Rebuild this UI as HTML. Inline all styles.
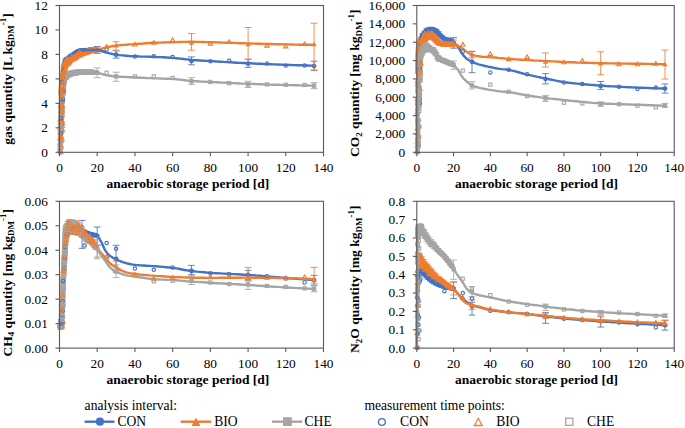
<!DOCTYPE html>
<html><head><meta charset="utf-8"><title>chart</title>
<style>
html,body{margin:0;padding:0;background:#fff;}
body{width:685px;height:428px;overflow:hidden;}
svg{display:block;}
.t{font-family:"Liberation Serif", serif;font-size:13.33px;fill:#000;}
.b{font-family:"Liberation Serif", serif;font-size:13.5px;font-weight:bold;fill:#000;}
.l{font-size:13.6px;}
.s{font-size:9px;}
.fb{fill:#4472C4}.fo{fill:#ED7D31}.fg{fill:#A5A5A5}
.hb,.ho,.hg{fill:none;stroke-width:1.1}
.hb{stroke:#4472C4}.ho{stroke:#ED7D31}.hg{stroke:#A5A5A5}
.eb,.eo,.eg{fill:none;stroke-width:1;opacity:.85}
.eb{stroke:#4472C4}.eo{stroke:#ED7D31}.eg{stroke:#A5A5A5}
</style></head><body>
<svg width="685" height="428" viewBox="0 0 685 428">
<rect width="685" height="428" fill="#fff"/>
<g>
<path d="M61.4 102.7V111.7M58.8 102.7h5.2M58.8 111.7h5.2" class="eg"/>
<path d="M63.3 80.0V88.9M60.7 80.0h5.2M60.7 88.9h5.2" class="eg"/>
<path d="M65.2 73.0V81.2M62.6 73.0h5.2M62.6 81.2h5.2" class="eg"/>
<path d="M67.0 71.8V78.9M64.4 71.8h5.2M64.4 78.9h5.2" class="eg"/>
<path d="M68.9 71.3V77.4M66.3 71.3h5.2M66.3 77.4h5.2" class="eg"/>
<path d="M70.8 71.2V76.2M68.2 71.2h5.2M68.2 76.2h5.2" class="eg"/>
<path d="M72.7 70.7V75.7M70.1 70.7h5.2M70.1 75.7h5.2" class="eg"/>
<path d="M74.6 70.2V75.2M72.0 70.2h5.2M72.0 75.2h5.2" class="eg"/>
<path d="M76.5 69.8V74.9M73.9 69.8h5.2M73.9 74.9h5.2" class="eg"/>
<path d="M78.4 69.6V74.7M75.8 69.6h5.2M75.8 74.7h5.2" class="eg"/>
<path d="M80.2 69.6V74.4M77.6 69.6h5.2M77.6 74.4h5.2" class="eg"/>
<path d="M82.1 69.5V74.2M79.5 69.5h5.2M79.5 74.2h5.2" class="eg"/>
<path d="M84.0 69.5V74.1M81.4 69.5h5.2M81.4 74.1h5.2" class="eg"/>
<path d="M85.9 69.6V74.0M83.3 69.6h5.2M83.3 74.0h5.2" class="eg"/>
<path d="M87.8 69.8V73.9M85.2 69.8h5.2M85.2 73.9h5.2" class="eg"/>
<path d="M89.7 69.9V73.9M87.1 69.9h5.2M87.1 73.9h5.2" class="eg"/>
<path d="M91.6 70.1V73.9M89.0 70.1h5.2M89.0 73.9h5.2" class="eg"/>
<path d="M93.4 70.5V73.9M90.8 70.5h5.2M90.8 73.9h5.2" class="eg"/>
<path d="M95.3 70.9V74.0M92.7 70.9h5.2M92.7 74.0h5.2" class="eg"/>
<path d="M97.2 67.9V77.7M93.8 67.9h6.8M93.8 77.7h6.8" class="eg"/>
<path d="M116.1 72.2V81.3M112.7 72.2h6.8M112.7 81.3h6.8" class="eg"/>
<path d="M191.5 77.7V84.4M188.1 77.7h6.8M188.1 84.4h6.8" class="eg"/>
<path d="M248.1 81.3V87.5M244.7 81.3h6.8M244.7 87.5h6.8" class="eg"/>
<path d="M314.1 82.6V88.7M310.7 82.6h6.8M310.7 88.7h6.8" class="eg"/>
<g stroke="#A5A5A5" stroke-linecap="round" fill="none" opacity="0.85"><path d="M60.3 134.0L60.4 129.5M66.0 76.2L66.4 75.8" stroke-width="5.2"/><path d="M60.4 129.5L60.6 125.1M60.6 125.1L60.8 120.9M65.2 77.1L65.6 76.6M65.6 76.6L66.0 76.2" stroke-width="5.4"/><path d="M60.8 120.9L60.9 116.7M64.6 78.1L64.8 77.7M64.8 77.7L65.0 77.3M65.0 77.3L65.2 77.1" stroke-width="5.6"/><path d="M60.9 116.7L61.1 112.7M61.1 112.7L61.3 109.3M63.6 82.0L63.8 81.1M63.8 81.1L64.0 80.3M64.0 80.3L64.1 79.7M64.1 79.7L64.3 79.1M64.3 79.1L64.5 78.6M64.5 78.6L64.6 78.1" stroke-width="5.8"/><path d="M61.3 109.3L61.4 106.3M61.4 106.3L61.6 103.5M61.6 103.5L61.8 101.0M61.8 101.0L61.9 98.6M61.9 98.6L62.1 96.3M62.1 96.3L62.3 94.1M62.3 94.1L62.5 92.0M62.5 92.0L62.6 90.1M62.6 90.1L62.8 88.4M62.8 88.4L63.0 86.9M63.0 86.9L63.1 85.6M63.1 85.6L63.3 84.3M63.3 84.3L63.5 83.1M63.5 83.1L63.6 82.0" stroke-width="6.0"/><path d="M66.4 75.8L66.8 75.5" stroke-width="5.0"/><path d="M66.8 75.5L67.2 75.2M67.2 75.2L67.6 75.0" stroke-width="4.8"/><path d="M67.6 75.0L68.0 74.8" stroke-width="4.6"/><path d="M68.0 74.8L68.4 74.6" stroke-width="4.4"/><path d="M68.4 74.6L68.8 74.4M68.8 74.4L69.2 74.2" stroke-width="4.2"/><path d="M69.2 74.2L69.6 74.1" stroke-width="4.0"/><path d="M69.6 74.1L70.0 73.9" stroke-width="3.8"/><path d="M70.0 73.9L70.4 73.8M70.4 73.8L70.8 73.7" stroke-width="3.6"/><path d="M70.8 73.7L71.2 73.6M71.2 73.6L71.6 73.5M71.6 73.5L72.1 73.3M72.1 73.3L72.5 73.2M72.5 73.2L72.9 73.1M72.9 73.1L73.3 73.0M73.3 73.0L73.7 72.9M73.7 72.9L74.1 72.8M74.1 72.8L74.5 72.7M74.5 72.7L74.9 72.6M74.9 72.6L75.3 72.6M75.3 72.6L75.7 72.5M75.7 72.5L76.1 72.4M76.1 72.4L76.5 72.3M76.5 72.3L76.9 72.3M76.9 72.3L77.3 72.2M77.3 72.2L77.7 72.2M77.7 72.2L78.1 72.2M78.1 72.2L78.5 72.1M78.5 72.1L79.0 72.1M79.0 72.1L79.4 72.1M79.4 72.1L79.8 72.0" stroke-width="3.4"/><path d="M79.8 72.0L80.2 72.0M80.2 72.0L80.6 72.0M80.6 72.0L81.0 71.9M81.0 71.9L81.4 71.9M81.4 71.9L81.8 71.9M81.8 71.9L82.2 71.9M82.2 71.9L82.6 71.9M82.6 71.9L83.0 71.8M83.0 71.8L83.4 71.8" stroke-width="3.2"/><path d="M83.4 71.8L83.8 71.8M83.8 71.8L84.2 71.8M84.2 71.8L84.6 71.8M84.6 71.8L85.0 71.8M85.0 71.8L85.4 71.8M85.4 71.8L85.9 71.8M85.9 71.8L86.3 71.8M86.3 71.8L86.7 71.8" stroke-width="3.0"/><path d="M86.7 71.8L87.1 71.8M87.1 71.8L87.5 71.8M87.5 71.8L87.9 71.9M87.9 71.9L88.3 71.9M88.3 71.9L88.7 71.9M88.7 71.9L89.1 71.9" stroke-width="2.8"/><path d="M89.1 71.9L89.5 71.9M89.5 71.9L89.9 71.9M89.9 71.9L90.3 72.0M90.3 72.0L90.7 72.0M90.7 72.0L91.1 72.0M91.1 72.0L91.5 72.0M91.5 72.0L91.9 72.0" stroke-width="2.6"/><path d="M91.9 72.0L92.3 72.1M92.3 72.1L92.8 72.1M92.8 72.1L93.2 72.2M93.2 72.2L93.6 72.2" stroke-width="2.4"/><path d="M93.6 72.2L94.0 72.3M94.0 72.3L94.4 72.3M94.4 72.3L94.8 72.4M94.8 72.4L95.2 72.4" stroke-width="2.2"/><path d="M95.2 72.4L95.6 72.5M95.6 72.5L96.0 72.6M96.0 72.6L96.4 72.6M96.4 72.6L96.8 72.7" stroke-width="2.0"/><path d="M96.8 72.7L97.2 72.8" stroke-width="1.8"/></g>
<path d="M59.5 152.3 L59.6 149.0 L59.8 145.5 L59.9 142.1 L60.1 138.5 L60.2 134.8 L60.4 130.9 L60.5 127.1 L60.7 123.4 L60.8 119.8 L61.0 116.2 L61.1 112.8 L61.2 109.9 L61.4 107.2 L61.5 104.7 L61.7 102.5 L61.8 100.3 L62.0 98.3 L62.1 96.3 L62.3 94.4 L62.4 92.6 L62.5 90.9 L62.7 89.4 L62.8 88.0 L63.0 86.7 L63.1 85.6 L63.3 84.5 L63.4 83.4 L63.6 82.5 L63.7 81.6 L63.9 80.9 L64.0 80.2 L64.1 79.7 L64.3 79.2 L64.4 78.7 L64.6 78.3 L64.7 77.9 L64.9 77.6 L65.0 77.3 L65.2 77.1 L65.6 76.6 L66.0 76.1 L66.4 75.8 L66.9 75.4 L67.3 75.2 L67.7 74.9 L68.2 74.7 L68.6 74.5 L69.0 74.3 L69.4 74.2 L69.9 74.0 L70.3 73.9 L70.7 73.7 L71.1 73.6 L71.6 73.5 L72.0 73.4 L72.4 73.2 L72.9 73.1 L73.3 73.0 L73.7 72.9 L74.1 72.8 L74.6 72.7 L75.0 72.6 L75.4 72.5 L75.9 72.5 L76.3 72.4 L76.7 72.3 L77.1 72.3 L77.6 72.2 L78.0 72.2 L78.4 72.1 L78.8 72.1 L79.3 72.1 L79.7 72.0 L80.1 72.0 L80.6 72.0 L81.0 71.9 L81.4 71.9 L81.8 71.9 L82.3 71.9 L82.7 71.9 L83.1 71.8 L83.6 71.8 L84.0 71.8 L84.4 71.8 L84.8 71.8 L85.3 71.8 L85.7 71.8 L86.1 71.8 L86.5 71.8 L87.0 71.8 L87.4 71.8 L87.8 71.9 L88.3 71.9 L88.7 71.9 L89.1 71.9 L89.5 71.9 L90.0 71.9 L90.4 72.0 L90.8 72.0 L91.3 72.0 L91.7 72.0 L92.1 72.1 L92.5 72.1 L93.0 72.1 L93.4 72.2 L93.8 72.2 L94.3 72.3 L94.7 72.4 L95.1 72.4 L95.5 72.5 L96.0 72.6 L96.4 72.6 L96.8 72.7 L97.2 72.8 L97.7 72.9 L98.1 73.0 L98.5 73.1 L99.0 73.2 L99.4 73.3 L99.8 73.4 L100.2 73.5 L100.7 73.6 L101.1 73.8 L101.5 73.9 L102.0 74.0 L102.4 74.1 L102.8 74.3 L103.2 74.4 L103.7 74.5 L104.1 74.6 L104.5 74.8 L104.9 74.9 L105.4 75.0 L105.8 75.1 L106.2 75.2 L106.7 75.2 L107.1 75.3 L107.5 75.4 L107.9 75.4 L108.4 75.5 L108.8 75.6 L109.2 75.7 L109.7 75.7 L110.1 75.8 L110.5 75.8 L110.9 75.9 L111.4 76.0 L111.8 76.0 L112.2 76.1 L112.6 76.1 L113.1 76.2 L113.5 76.2 L113.9 76.3 L114.4 76.3 L114.8 76.3 L115.2 76.4 L115.6 76.4 L116.1 76.5 L119.4 76.7 L122.8 76.9 L126.1 77.0 L129.5 77.2 L132.9 77.3 L136.2 77.5 L139.6 77.7 L142.9 77.8 L146.3 78.0 L149.6 78.1 L153.0 78.3 L156.3 78.4 L159.7 78.5 L163.1 78.6 L166.4 78.7 L169.8 78.8 L173.1 78.9 L176.5 79.2 L179.8 79.6 L183.2 80.0 L186.5 80.5 L189.9 80.8 L193.3 81.1 L196.6 81.3 L200.0 81.5 L203.3 81.6 L206.7 81.8 L210.0 81.9 L213.4 82.1 L216.7 82.3 L220.1 82.5 L223.5 82.6 L226.8 82.8 L230.2 83.0 L233.5 83.1 L236.9 83.3 L240.2 83.5 L243.6 83.6 L247.0 83.7 L250.3 83.9 L253.7 84.0 L257.0 84.1 L260.4 84.2 L263.7 84.4 L267.1 84.5 L270.4 84.6 L273.8 84.7 L277.2 84.8 L280.5 84.9 L283.9 85.0 L287.2 85.1 L290.6 85.1 L293.9 85.2 L297.3 85.3 L300.6 85.4 L304.0 85.4 L307.4 85.5 L310.7 85.6 L314.1 85.6" fill="none" stroke="#A5A5A5" stroke-width="2.4" stroke-linejoin="round" stroke-linecap="round"/>
<rect x="59.2" y="105.0" width="4.4" height="4.4" class="fg"/>
<rect x="61.1" y="82.3" width="4.4" height="4.4" class="fg"/>
<rect x="62.9" y="74.8" width="4.4" height="4.4" class="fg"/>
<rect x="64.8" y="73.1" width="4.4" height="4.4" class="fg"/>
<rect x="66.7" y="72.1" width="4.4" height="4.4" class="fg"/>
<rect x="68.6" y="71.5" width="4.4" height="4.4" class="fg"/>
<rect x="70.5" y="71.0" width="4.4" height="4.4" class="fg"/>
<rect x="72.4" y="70.5" width="4.4" height="4.4" class="fg"/>
<rect x="74.3" y="70.1" width="4.4" height="4.4" class="fg"/>
<rect x="76.1" y="69.9" width="4.4" height="4.4" class="fg"/>
<rect x="78.0" y="69.8" width="4.4" height="4.4" class="fg"/>
<rect x="79.9" y="69.7" width="4.4" height="4.4" class="fg"/>
<rect x="81.8" y="69.6" width="4.4" height="4.4" class="fg"/>
<rect x="83.7" y="69.6" width="4.4" height="4.4" class="fg"/>
<rect x="85.6" y="69.6" width="4.4" height="4.4" class="fg"/>
<rect x="87.5" y="69.7" width="4.4" height="4.4" class="fg"/>
<rect x="89.3" y="69.8" width="4.4" height="4.4" class="fg"/>
<rect x="91.2" y="70.0" width="4.4" height="4.4" class="fg"/>
<rect x="93.1" y="70.2" width="4.4" height="4.4" class="fg"/>
<rect x="95.0" y="70.6" width="4.4" height="4.4" class="fg"/>
<rect x="113.9" y="74.2" width="4.4" height="4.4" class="fg"/>
<rect x="189.3" y="79.1" width="4.4" height="4.4" class="fg"/>
<rect x="245.9" y="82.2" width="4.4" height="4.4" class="fg"/>
<rect x="311.9" y="83.5" width="4.4" height="4.4" class="fg"/>
<path d="M61.4 98.0V103.0M58.8 98.0h5.2M58.8 103.0h5.2" class="eb"/>
<path d="M63.3 71.4V75.9M60.7 71.4h5.2M60.7 75.9h5.2" class="eb"/>
<path d="M65.2 58.9V63.0M62.6 58.9h5.2M62.6 63.0h5.2" class="eb"/>
<path d="M67.0 57.3V60.9M64.4 57.3h5.2M64.4 60.9h5.2" class="eb"/>
<path d="M68.9 56.1V59.4M66.3 56.1h5.2M66.3 59.4h5.2" class="eb"/>
<path d="M70.8 54.6V57.8M68.2 54.6h5.2M68.2 57.8h5.2" class="eb"/>
<path d="M72.7 53.3V56.5M70.1 53.3h5.2M70.1 56.5h5.2" class="eb"/>
<path d="M74.6 52.1V55.2M72.0 52.1h5.2M72.0 55.2h5.2" class="eb"/>
<path d="M76.5 50.9V54.0M73.9 50.9h5.2M73.9 54.0h5.2" class="eb"/>
<path d="M78.4 49.7V52.8M75.8 49.7h5.2M75.8 52.8h5.2" class="eb"/>
<path d="M80.2 49.3V52.3M77.6 49.3h5.2M77.6 52.3h5.2" class="eb"/>
<path d="M82.1 49.0V52.0M79.5 49.0h5.2M79.5 52.0h5.2" class="eb"/>
<path d="M84.0 48.8V51.8M81.4 48.8h5.2M81.4 51.8h5.2" class="eb"/>
<path d="M85.9 48.7V51.6M83.3 48.7h5.2M83.3 51.6h5.2" class="eb"/>
<path d="M87.8 48.6V51.5M85.2 48.6h5.2M85.2 51.5h5.2" class="eb"/>
<path d="M89.7 48.6V51.5M87.1 48.6h5.2M87.1 51.5h5.2" class="eb"/>
<path d="M91.6 48.6V51.4M89.0 48.6h5.2M89.0 51.4h5.2" class="eb"/>
<path d="M93.4 48.6V51.4M90.8 48.6h5.2M90.8 51.4h5.2" class="eb"/>
<path d="M95.3 48.7V51.4M92.7 48.7h5.2M92.7 51.4h5.2" class="eb"/>
<path d="M97.2 46.5V53.2M93.8 46.5h6.8M93.8 53.2h6.8" class="eb"/>
<path d="M116.1 50.8V58.1M112.7 50.8h6.8M112.7 58.1h6.8" class="eb"/>
<path d="M191.5 56.9V64.8M188.1 56.9h6.8M188.1 64.8h6.8" class="eb"/>
<path d="M248.1 59.3V67.3M244.7 59.3h6.8M244.7 67.3h6.8" class="eb"/>
<path d="M314.1 61.2V70.3M310.7 61.2h6.8M310.7 70.3h6.8" class="eb"/>
<g stroke="#4472C4" stroke-linecap="round" fill="none" opacity="0.85"><path d="M62.5 82.1L62.6 81.0M62.6 81.0L62.7 79.9" stroke-width="3.2"/><path d="M62.7 79.9L62.8 78.8M62.8 78.8L62.9 77.8M62.9 77.8L63.0 76.8M63.0 76.8L63.1 75.8M63.1 75.8L63.2 74.9M63.2 74.9L63.2 73.9M63.2 73.9L63.3 73.0M63.3 73.0L63.4 72.1M63.4 72.1L63.5 71.2M63.5 71.2L63.6 70.4M63.6 70.4L63.7 69.6M63.7 69.6L63.8 68.9M63.8 68.9L63.9 68.1M63.9 68.1L64.0 67.4" stroke-width="3.0"/><path d="M64.0 67.4L64.1 66.7M64.1 66.7L64.2 65.9M64.2 65.9L64.2 65.2M64.2 65.2L64.3 64.5M64.3 64.5L64.4 63.9M64.4 63.9L64.5 63.3M64.5 63.3L64.6 62.7M64.6 62.7L64.7 62.2M64.7 62.2L64.8 61.8M64.8 61.8L64.9 61.5M64.9 61.5L65.0 61.3M65.0 61.3L65.1 61.1M65.1 61.1L65.2 61.0M65.2 61.0L65.6 60.4" stroke-width="2.8"/><path d="M65.6 60.4L66.0 59.9M66.0 59.9L66.4 59.6M66.4 59.6L66.8 59.3" stroke-width="2.6"/><path d="M66.8 59.3L67.2 59.0M67.2 59.0L67.6 58.8M67.6 58.8L68.0 58.5" stroke-width="2.4"/><path d="M68.0 58.5L68.4 58.2M68.4 58.2L68.8 57.9M68.8 57.9L69.2 57.5M69.2 57.5L69.6 57.2M69.6 57.2L70.0 56.9M70.0 56.9L70.4 56.5M70.4 56.5L70.8 56.2M70.8 56.2L71.2 55.9M71.2 55.9L71.6 55.6M71.6 55.6L72.1 55.3M72.1 55.3L72.5 55.1M72.5 55.1L72.9 54.8M72.9 54.8L73.3 54.5M73.3 54.5L73.7 54.3" stroke-width="2.2"/><path d="M73.7 54.3L74.1 54.0M74.1 54.0L74.5 53.7M74.5 53.7L74.9 53.5M74.9 53.5L75.3 53.2M75.3 53.2L75.7 53.0M75.7 53.0L76.1 52.7M76.1 52.7L76.5 52.4M76.5 52.4L76.9 52.1M76.9 52.1L77.3 51.8M77.3 51.8L77.7 51.6M77.7 51.6L78.1 51.4M78.1 51.4L78.5 51.2M78.5 51.2L79.0 51.1M79.0 51.1L79.4 51.0M79.4 51.0L79.8 50.9M79.8 50.9L80.2 50.8M80.2 50.8L80.6 50.7M80.6 50.7L81.0 50.6M81.0 50.6L81.4 50.6M81.4 50.6L81.8 50.5M81.8 50.5L82.2 50.5M82.2 50.5L82.6 50.4M82.6 50.4L83.0 50.4M83.0 50.4L83.4 50.3M83.4 50.3L83.8 50.3M83.8 50.3L84.2 50.3M84.2 50.3L84.6 50.2M84.6 50.2L85.0 50.2M85.0 50.2L85.4 50.2M85.4 50.2L85.9 50.2M85.9 50.2L86.3 50.1M86.3 50.1L86.7 50.1M86.7 50.1L87.1 50.1M87.1 50.1L87.5 50.1M87.5 50.1L87.9 50.1M87.9 50.1L88.3 50.0M88.3 50.0L88.7 50.0M88.7 50.0L89.1 50.0M89.1 50.0L89.5 50.0" stroke-width="2.0"/><path d="M89.5 50.0L89.9 50.0M89.9 50.0L90.3 50.0M90.3 50.0L90.7 50.0M90.7 50.0L91.1 50.0M91.1 50.0L91.5 50.0M91.5 50.0L91.9 50.0M91.9 50.0L92.3 50.0M92.3 50.0L92.8 50.0M92.8 50.0L93.2 50.0M93.2 50.0L93.6 50.0M93.6 50.0L94.0 50.0M94.0 50.0L94.4 50.0M94.4 50.0L94.8 50.0M94.8 50.0L95.2 50.0M95.2 50.0L95.6 50.0M95.6 50.0L96.0 50.0M96.0 50.0L96.4 50.0M96.4 50.0L96.8 50.0M96.8 50.0L97.2 50.0" stroke-width="1.8"/></g>
<path d="M59.5 152.3 L59.6 148.3 L59.8 144.3 L59.9 140.2 L60.1 136.0 L60.2 131.6 L60.4 127.1 L60.5 122.6 L60.7 118.5 L60.8 114.5 L61.0 110.6 L61.1 107.0 L61.2 103.6 L61.4 100.5 L61.5 97.5 L61.7 94.7 L61.8 92.1 L62.0 89.7 L62.1 87.5 L62.3 85.5 L62.4 83.5 L62.5 81.7 L62.7 80.0 L62.8 78.3 L63.0 76.7 L63.1 75.1 L63.3 73.6 L63.4 72.2 L63.6 70.8 L63.7 69.6 L63.9 68.4 L64.0 67.2 L64.1 66.1 L64.3 64.9 L64.4 63.8 L64.6 62.9 L64.7 62.1 L64.9 61.5 L65.0 61.2 L65.2 61.0 L65.6 60.3 L66.0 59.9 L66.4 59.5 L66.9 59.2 L67.3 58.9 L67.7 58.7 L68.2 58.4 L68.6 58.0 L69.0 57.7 L69.4 57.3 L69.9 57.0 L70.3 56.7 L70.7 56.3 L71.1 56.0 L71.6 55.7 L72.0 55.4 L72.4 55.1 L72.9 54.8 L73.3 54.5 L73.7 54.2 L74.1 54.0 L74.6 53.7 L75.0 53.4 L75.4 53.2 L75.9 52.9 L76.3 52.6 L76.7 52.2 L77.1 51.9 L77.6 51.7 L78.0 51.4 L78.4 51.2 L78.8 51.1 L79.3 51.0 L79.7 50.9 L80.1 50.8 L80.6 50.7 L81.0 50.6 L81.4 50.6 L81.8 50.5 L82.3 50.4 L82.7 50.4 L83.1 50.3 L83.6 50.3 L84.0 50.3 L84.4 50.2 L84.8 50.2 L85.3 50.2 L85.7 50.2 L86.1 50.1 L86.5 50.1 L87.0 50.1 L87.4 50.1 L87.8 50.1 L88.3 50.0 L88.7 50.0 L89.1 50.0 L89.5 50.0 L90.0 50.0 L90.4 50.0 L90.8 50.0 L91.3 50.0 L91.7 50.0 L92.1 50.0 L92.5 50.0 L93.0 50.0 L93.4 50.0 L93.8 50.0 L94.3 50.0 L94.7 50.0 L95.1 50.0 L95.5 50.0 L96.0 50.0 L96.4 50.0 L96.8 50.0 L97.2 50.0 L97.7 50.0 L98.1 50.1 L98.5 50.2 L99.0 50.3 L99.4 50.4 L99.8 50.5 L100.2 50.6 L100.7 50.7 L101.1 50.8 L101.5 50.9 L102.0 51.0 L102.4 51.2 L102.8 51.3 L103.2 51.5 L103.7 51.6 L104.1 51.8 L104.5 51.9 L104.9 52.1 L105.4 52.2 L105.8 52.4 L106.2 52.5 L106.7 52.6 L107.1 52.7 L107.5 52.8 L107.9 52.9 L108.4 53.1 L108.8 53.2 L109.2 53.3 L109.7 53.4 L110.1 53.5 L110.5 53.6 L110.9 53.7 L111.4 53.8 L111.8 53.9 L112.2 54.0 L112.6 54.1 L113.1 54.2 L113.5 54.3 L113.9 54.3 L114.4 54.4 L114.8 54.5 L115.2 54.6 L115.6 54.6 L116.1 54.7 L119.4 55.1 L122.8 55.4 L126.1 55.7 L129.5 56.0 L132.9 56.2 L136.2 56.3 L139.6 56.5 L142.9 56.6 L146.3 56.6 L149.6 56.7 L153.0 56.8 L156.3 57.0 L159.7 57.1 L163.1 57.3 L166.4 57.5 L169.8 57.7 L173.1 57.9 L176.5 58.2 L179.8 58.6 L183.2 59.0 L186.5 59.4 L189.9 59.8 L193.3 60.1 L196.6 60.3 L200.0 60.5 L203.3 60.7 L206.7 60.9 L210.0 61.1 L213.4 61.3 L216.7 61.5 L220.1 61.7 L223.5 61.9 L226.8 62.1 L230.2 62.3 L233.5 62.5 L236.9 62.7 L240.2 62.9 L243.6 63.0 L247.0 63.2 L250.3 63.3 L253.7 63.5 L257.0 63.7 L260.4 63.8 L263.7 64.0 L267.1 64.1 L270.4 64.2 L273.8 64.4 L277.2 64.5 L280.5 64.6 L283.9 64.8 L287.2 64.9 L290.6 65.0 L293.9 65.1 L297.3 65.2 L300.6 65.3 L304.0 65.4 L307.4 65.5 L310.7 65.6 L314.1 65.7" fill="none" stroke="#4472C4" stroke-width="2.4" stroke-linejoin="round" stroke-linecap="round"/>
<circle cx="61.4" cy="100.5" r="2.4" class="fb"/>
<circle cx="63.3" cy="73.6" r="2.4" class="fb"/>
<circle cx="65.2" cy="61.0" r="2.4" class="fb"/>
<circle cx="67.0" cy="59.1" r="2.4" class="fb"/>
<circle cx="68.9" cy="57.8" r="2.4" class="fb"/>
<circle cx="70.8" cy="56.2" r="2.4" class="fb"/>
<circle cx="72.7" cy="54.9" r="2.4" class="fb"/>
<circle cx="74.6" cy="53.7" r="2.4" class="fb"/>
<circle cx="76.5" cy="52.4" r="2.4" class="fb"/>
<circle cx="78.4" cy="51.3" r="2.4" class="fb"/>
<circle cx="80.2" cy="50.8" r="2.4" class="fb"/>
<circle cx="82.1" cy="50.5" r="2.4" class="fb"/>
<circle cx="84.0" cy="50.3" r="2.4" class="fb"/>
<circle cx="85.9" cy="50.2" r="2.4" class="fb"/>
<circle cx="87.8" cy="50.1" r="2.4" class="fb"/>
<circle cx="89.7" cy="50.0" r="2.4" class="fb"/>
<circle cx="91.6" cy="50.0" r="2.4" class="fb"/>
<circle cx="93.4" cy="50.0" r="2.4" class="fb"/>
<circle cx="95.3" cy="50.0" r="2.4" class="fb"/>
<circle cx="97.2" cy="49.8" r="2.4" class="fb"/>
<circle cx="116.1" cy="54.7" r="2.4" class="fb"/>
<circle cx="191.5" cy="60.9" r="2.4" class="fb"/>
<circle cx="248.1" cy="63.6" r="2.4" class="fb"/>
<circle cx="314.1" cy="66.1" r="2.4" class="fb"/>
<path d="M61.4 98.7V107.7M58.8 98.7h5.2M58.8 107.7h5.2" class="eo"/>
<path d="M63.3 73.3V82.0M60.7 73.3h5.2M60.7 82.0h5.2" class="eo"/>
<path d="M65.2 59.8V68.2M62.6 59.8h5.2M62.6 68.2h5.2" class="eo"/>
<path d="M67.0 57.8V66.1M64.4 57.8h5.2M64.4 66.1h5.2" class="eo"/>
<path d="M68.9 56.7V64.5M66.3 56.7h5.2M66.3 64.5h5.2" class="eo"/>
<path d="M70.8 55.7V62.6M68.2 55.7h5.2M68.2 62.6h5.2" class="eo"/>
<path d="M72.7 55.1V61.2M70.1 55.1h5.2M70.1 61.2h5.2" class="eo"/>
<path d="M74.6 54.6V60.2M72.0 54.6h5.2M72.0 60.2h5.2" class="eo"/>
<path d="M76.5 53.4V59.0M73.9 53.4h5.2M73.9 59.0h5.2" class="eo"/>
<path d="M78.4 51.9V57.8M75.8 51.9h5.2M75.8 57.8h5.2" class="eo"/>
<path d="M80.2 51.0V56.9M77.6 51.0h5.2M77.6 56.9h5.2" class="eo"/>
<path d="M82.1 50.3V56.1M79.5 50.3h5.2M79.5 56.1h5.2" class="eo"/>
<path d="M84.0 49.6V55.4M81.4 49.6h5.2M81.4 55.4h5.2" class="eo"/>
<path d="M85.9 49.1V54.7M83.3 49.1h5.2M83.3 54.7h5.2" class="eo"/>
<path d="M87.8 48.8V54.0M85.2 48.8h5.2M85.2 54.0h5.2" class="eo"/>
<path d="M89.7 48.4V53.3M87.1 48.4h5.2M87.1 53.3h5.2" class="eo"/>
<path d="M91.6 48.2V52.7M89.0 48.2h5.2M89.0 52.7h5.2" class="eo"/>
<path d="M93.4 48.3V52.2M90.8 48.3h5.2M90.8 52.2h5.2" class="eo"/>
<path d="M95.3 48.4V51.7M92.7 48.4h5.2M92.7 51.7h5.2" class="eo"/>
<path d="M97.2 47.1V53.2M93.8 47.1h6.8M93.8 53.2h6.8" class="eo"/>
<path d="M116.1 41.6V50.2M112.7 41.6h6.8M112.7 50.2h6.8" class="eo"/>
<path d="M191.5 33.6V50.2M188.1 33.6h6.8M188.1 50.2h6.8" class="eo"/>
<path d="M248.1 27.5V59.3M244.7 27.5h6.8M244.7 59.3h6.8" class="eo"/>
<path d="M314.1 23.2V70.3M310.7 23.2h6.8M310.7 70.3h6.8" class="eo"/>
<g stroke="#ED7D31" stroke-linecap="round" fill="none" opacity="0.85"><path d="M62.0 93.6L62.1 91.9M62.1 91.9L62.2 90.3M62.2 90.3L62.3 88.8M62.3 88.8L62.4 87.3M62.4 87.3L62.5 85.9M62.5 85.9L62.6 84.5M62.6 84.5L62.7 83.2M62.7 83.2L62.8 82.0M62.8 82.0L62.9 80.8M62.9 80.8L63.1 79.7" stroke-width="7.4"/><path d="M63.1 79.7L63.2 78.6M63.2 78.6L63.3 77.6M63.3 77.6L63.4 76.6M63.4 76.6L63.5 75.6M63.5 75.6L63.6 74.7M63.6 74.7L63.7 73.7M63.7 73.7L63.8 72.8M63.8 72.8L63.9 71.9M63.9 71.9L64.1 70.9M64.1 70.9L64.2 69.9M64.2 69.9L64.3 68.8M64.3 68.8L64.4 67.8M64.4 67.8L64.5 66.9M64.5 66.9L64.6 66.1" stroke-width="7.2"/><path d="M64.6 66.1L64.7 65.4M64.7 65.4L64.8 64.8M64.8 64.8L64.9 64.4M64.9 64.4L65.0 64.2M65.0 64.2L65.2 64.0M65.2 64.0L65.6 63.3M65.6 63.3L66.0 62.8M66.0 62.8L66.4 62.4M66.4 62.4L66.8 62.1" stroke-width="7.0"/><path d="M66.8 62.1L67.2 61.8M67.2 61.8L67.6 61.6M67.6 61.6L68.0 61.3M68.0 61.3L68.4 61.0M68.4 61.0L68.8 60.7" stroke-width="6.8"/><path d="M68.8 60.7L69.2 60.3" stroke-width="6.6"/><path d="M69.2 60.3L69.6 60.0" stroke-width="6.4"/><path d="M69.6 60.0L70.0 59.7" stroke-width="6.2"/><path d="M70.0 59.7L70.4 59.4" stroke-width="6.0"/><path d="M70.4 59.4L70.8 59.1M70.8 59.1L71.2 58.9" stroke-width="5.8"/><path d="M71.2 58.9L71.6 58.6" stroke-width="5.6"/><path d="M71.6 58.6L72.1 58.4" stroke-width="5.4"/><path d="M72.1 58.4L72.5 58.2M72.5 58.2L72.9 58.0" stroke-width="5.2"/><path d="M72.9 58.0L73.3 57.9M73.3 57.9L73.7 57.7M78.1 55.0L78.5 54.7M78.5 54.7L79.0 54.5M79.0 54.5L79.4 54.3M79.4 54.3L79.8 54.2M79.8 54.2L80.2 54.0M80.2 54.0L80.6 53.8" stroke-width="5.0"/><path d="M73.7 57.7L74.1 57.6M74.1 57.6L74.5 57.4M76.9 55.8L77.3 55.5M77.3 55.5L77.7 55.2M77.7 55.2L78.1 55.0M80.6 53.8L81.0 53.6M81.0 53.6L81.4 53.5M81.4 53.5L81.8 53.3M81.8 53.3L82.2 53.2M82.2 53.2L82.6 53.0M82.6 53.0L83.0 52.9M83.0 52.9L83.4 52.7M83.4 52.7L83.8 52.6M83.8 52.6L84.2 52.5M84.2 52.5L84.6 52.3M84.6 52.3L85.0 52.2M85.0 52.2L85.4 52.1M85.4 52.1L85.9 51.9" stroke-width="4.8"/><path d="M74.5 57.4L74.9 57.2M74.9 57.2L75.3 57.0M75.3 57.0L75.7 56.8M75.7 56.8L76.1 56.5M76.1 56.5L76.5 56.1M76.5 56.1L76.9 55.8M85.9 51.9L86.3 51.8M86.3 51.8L86.7 51.7M86.7 51.7L87.1 51.6" stroke-width="4.6"/><path d="M87.1 51.6L87.5 51.5M87.5 51.5L87.9 51.3M87.9 51.3L88.3 51.2" stroke-width="4.4"/><path d="M88.3 51.2L88.7 51.1M88.7 51.1L89.1 51.0M89.1 51.0L89.5 50.9" stroke-width="4.2"/><path d="M89.5 50.9L89.9 50.8M89.9 50.8L90.3 50.7M90.3 50.7L90.7 50.6" stroke-width="4.0"/><path d="M90.7 50.6L91.1 50.5M91.1 50.5L91.5 50.5M91.5 50.5L91.9 50.4" stroke-width="3.8"/><path d="M91.9 50.4L92.3 50.3M92.3 50.3L92.8 50.3" stroke-width="3.6"/><path d="M92.8 50.3L93.2 50.2M93.2 50.2L93.6 50.2" stroke-width="3.4"/><path d="M93.6 50.2L94.0 50.1M94.0 50.1L94.4 50.1" stroke-width="3.2"/><path d="M94.4 50.1L94.8 50.1" stroke-width="3.0"/><path d="M94.8 50.1L95.2 50.0M95.2 50.0L95.6 50.0" stroke-width="2.8"/><path d="M95.6 50.0L96.0 49.9M96.0 49.9L96.4 49.9" stroke-width="2.6"/><path d="M96.4 49.9L96.8 49.8M96.8 49.8L97.2 49.8" stroke-width="2.4"/></g>
<path d="M59.5 152.3 L59.6 148.7 L59.8 144.9 L59.9 141.1 L60.1 137.2 L60.2 133.2 L60.4 129.0 L60.5 124.9 L60.7 120.9 L60.8 116.9 L61.0 113.0 L61.1 109.3 L61.2 106.1 L61.4 103.2 L61.5 100.5 L61.7 98.0 L61.8 95.6 L62.0 93.4 L62.1 91.2 L62.3 89.2 L62.4 87.2 L62.5 85.4 L62.7 83.6 L62.8 82.0 L63.0 80.4 L63.1 79.0 L63.3 77.6 L63.4 76.3 L63.6 75.1 L63.7 73.9 L63.9 72.7 L64.0 71.4 L64.1 70.1 L64.3 68.7 L64.4 67.4 L64.6 66.3 L64.7 65.3 L64.9 64.6 L65.0 64.3 L65.2 64.0 L65.6 63.3 L66.0 62.8 L66.4 62.4 L66.9 62.1 L67.3 61.8 L67.7 61.5 L68.2 61.2 L68.6 60.9 L69.0 60.5 L69.4 60.2 L69.9 59.8 L70.3 59.5 L70.7 59.2 L71.1 58.9 L71.6 58.7 L72.0 58.4 L72.4 58.2 L72.9 58.0 L73.3 57.9 L73.7 57.7 L74.1 57.6 L74.6 57.4 L75.0 57.2 L75.4 57.0 L75.9 56.7 L76.3 56.3 L76.7 56.0 L77.1 55.6 L77.6 55.3 L78.0 55.0 L78.4 54.8 L78.8 54.6 L79.3 54.4 L79.7 54.2 L80.1 54.0 L80.6 53.8 L81.0 53.6 L81.4 53.5 L81.8 53.3 L82.3 53.1 L82.7 53.0 L83.1 52.8 L83.6 52.7 L84.0 52.5 L84.4 52.4 L84.8 52.3 L85.3 52.1 L85.7 52.0 L86.1 51.9 L86.5 51.7 L87.0 51.6 L87.4 51.5 L87.8 51.3 L88.3 51.2 L88.7 51.1 L89.1 51.0 L89.5 50.9 L90.0 50.8 L90.4 50.7 L90.8 50.6 L91.3 50.5 L91.7 50.4 L92.1 50.4 L92.5 50.3 L93.0 50.3 L93.4 50.2 L93.8 50.2 L94.3 50.1 L94.7 50.1 L95.1 50.0 L95.5 50.0 L96.0 49.9 L96.4 49.9 L96.8 49.8 L97.2 49.8 L97.7 49.7 L98.1 49.6 L98.5 49.5 L99.0 49.4 L99.4 49.3 L99.8 49.2 L100.2 49.1 L100.7 49.0 L101.1 48.9 L101.5 48.8 L102.0 48.6 L102.4 48.5 L102.8 48.4 L103.2 48.2 L103.7 48.1 L104.1 48.0 L104.5 47.9 L104.9 47.8 L105.4 47.6 L105.8 47.5 L106.2 47.4 L106.7 47.3 L107.1 47.2 L107.5 47.2 L107.9 47.1 L108.4 47.0 L108.8 46.9 L109.2 46.8 L109.7 46.7 L110.1 46.6 L110.5 46.5 L110.9 46.5 L111.4 46.4 L111.8 46.3 L112.2 46.2 L112.6 46.1 L113.1 46.1 L113.5 46.0 L113.9 45.9 L114.4 45.9 L114.8 45.8 L115.2 45.7 L115.6 45.7 L116.1 45.6 L119.4 45.3 L122.8 44.9 L126.1 44.7 L129.5 44.4 L132.9 44.2 L136.2 43.9 L139.6 43.7 L142.9 43.5 L146.3 43.2 L149.6 43.0 L153.0 42.8 L156.3 42.7 L159.7 42.6 L163.1 42.5 L166.4 42.4 L169.8 42.3 L173.1 42.2 L176.5 42.1 L179.8 42.0 L183.2 41.9 L186.5 41.9 L189.9 41.8 L193.3 41.8 L196.6 41.9 L200.0 41.9 L203.3 42.0 L206.7 42.1 L210.0 42.2 L213.4 42.3 L216.7 42.4 L220.1 42.5 L223.5 42.6 L226.8 42.7 L230.2 42.8 L233.5 42.9 L236.9 43.1 L240.2 43.2 L243.6 43.3 L247.0 43.4 L250.3 43.5 L253.7 43.6 L257.0 43.7 L260.4 43.8 L263.7 43.9 L267.1 44.0 L270.4 44.0 L273.8 44.1 L277.2 44.2 L280.5 44.3 L283.9 44.4 L287.2 44.4 L290.6 44.5 L293.9 44.6 L297.3 44.6 L300.6 44.7 L304.0 44.7 L307.4 44.8 L310.7 44.8 L314.1 44.9" fill="none" stroke="#ED7D31" stroke-width="2.4" stroke-linejoin="round" stroke-linecap="round"/>
<path d="M61.4 100.5l2.6 4.6h-5.2z" class="fo"/>
<path d="M63.3 74.9l2.6 4.6h-5.2z" class="fo"/>
<path d="M65.2 61.2l2.6 4.6h-5.2z" class="fo"/>
<path d="M67.0 59.2l2.6 4.6h-5.2z" class="fo"/>
<path d="M68.9 57.8l2.6 4.6h-5.2z" class="fo"/>
<path d="M70.8 56.4l2.6 4.6h-5.2z" class="fo"/>
<path d="M72.7 55.4l2.6 4.6h-5.2z" class="fo"/>
<path d="M74.6 54.6l2.6 4.6h-5.2z" class="fo"/>
<path d="M76.5 53.4l2.6 4.6h-5.2z" class="fo"/>
<path d="M78.4 52.1l2.6 4.6h-5.2z" class="fo"/>
<path d="M80.2 51.2l2.6 4.6h-5.2z" class="fo"/>
<path d="M82.1 50.4l2.6 4.6h-5.2z" class="fo"/>
<path d="M84.0 49.8l2.6 4.6h-5.2z" class="fo"/>
<path d="M85.9 49.2l2.6 4.6h-5.2z" class="fo"/>
<path d="M87.8 48.6l2.6 4.6h-5.2z" class="fo"/>
<path d="M89.7 48.1l2.6 4.6h-5.2z" class="fo"/>
<path d="M91.6 47.7l2.6 4.6h-5.2z" class="fo"/>
<path d="M93.4 47.5l2.6 4.6h-5.2z" class="fo"/>
<path d="M95.3 47.3l2.6 4.6h-5.2z" class="fo"/>
<path d="M97.2 47.4l2.6 4.6h-5.2z" class="fo"/>
<path d="M116.1 42.9l2.6 4.6h-5.2z" class="fo"/>
<path d="M191.5 40.2l2.6 4.6h-5.2z" class="fo"/>
<path d="M248.1 41.7l2.6 4.6h-5.2z" class="fo"/>
<path d="M314.1 41.7l2.6 4.6h-5.2z" class="fo"/>
<rect x="60.2" y="98.8" width="3.2" height="3.2" class="hg"/>
<rect x="60.9" y="92.8" width="3.2" height="3.2" class="hg"/>
<rect x="60.8" y="89.5" width="3.2" height="3.2" class="hg"/>
<rect x="61.4" y="83.8" width="3.2" height="3.2" class="hg"/>
<rect x="61.6" y="85.1" width="3.2" height="3.2" class="hg"/>
<rect x="61.7" y="84.0" width="3.2" height="3.2" class="hg"/>
<rect x="62.0" y="81.8" width="3.2" height="3.2" class="hg"/>
<rect x="62.6" y="81.2" width="3.2" height="3.2" class="hg"/>
<rect x="63.1" y="77.8" width="3.2" height="3.2" class="hg"/>
<rect x="63.3" y="78.0" width="3.2" height="3.2" class="hg"/>
<rect x="63.3" y="73.1" width="3.2" height="3.2" class="hg"/>
<rect x="63.5" y="72.9" width="3.2" height="3.2" class="hg"/>
<rect x="64.2" y="73.4" width="3.2" height="3.2" class="hg"/>
<rect x="64.2" y="72.6" width="3.2" height="3.2" class="hg"/>
<rect x="64.8" y="74.3" width="3.2" height="3.2" class="hg"/>
<rect x="65.0" y="76.3" width="3.2" height="3.2" class="hg"/>
<rect x="65.2" y="72.5" width="3.2" height="3.2" class="hg"/>
<rect x="65.2" y="74.6" width="3.2" height="3.2" class="hg"/>
<rect x="65.9" y="74.1" width="3.2" height="3.2" class="hg"/>
<rect x="66.7" y="73.4" width="3.2" height="3.2" class="hg"/>
<rect x="67.1" y="73.4" width="3.2" height="3.2" class="hg"/>
<rect x="67.5" y="72.8" width="3.2" height="3.2" class="hg"/>
<rect x="68.0" y="72.4" width="3.2" height="3.2" class="hg"/>
<rect x="68.8" y="72.1" width="3.2" height="3.2" class="hg"/>
<rect x="69.3" y="72.6" width="3.2" height="3.2" class="hg"/>
<rect x="70.0" y="70.8" width="3.2" height="3.2" class="hg"/>
<rect x="70.7" y="71.1" width="3.2" height="3.2" class="hg"/>
<rect x="71.0" y="71.3" width="3.2" height="3.2" class="hg"/>
<rect x="71.6" y="72.3" width="3.2" height="3.2" class="hg"/>
<rect x="72.1" y="70.9" width="3.2" height="3.2" class="hg"/>
<rect x="72.5" y="71.1" width="3.2" height="3.2" class="hg"/>
<rect x="73.6" y="71.1" width="3.2" height="3.2" class="hg"/>
<rect x="74.1" y="71.0" width="3.2" height="3.2" class="hg"/>
<rect x="74.7" y="71.8" width="3.2" height="3.2" class="hg"/>
<rect x="75.2" y="71.2" width="3.2" height="3.2" class="hg"/>
<rect x="75.5" y="71.3" width="3.2" height="3.2" class="hg"/>
<rect x="76.1" y="70.5" width="3.2" height="3.2" class="hg"/>
<rect x="76.8" y="70.0" width="3.2" height="3.2" class="hg"/>
<rect x="77.4" y="70.1" width="3.2" height="3.2" class="hg"/>
<rect x="77.6" y="70.6" width="3.2" height="3.2" class="hg"/>
<rect x="78.4" y="70.3" width="3.2" height="3.2" class="hg"/>
<rect x="78.8" y="70.8" width="3.2" height="3.2" class="hg"/>
<rect x="79.6" y="69.7" width="3.2" height="3.2" class="hg"/>
<rect x="80.2" y="70.1" width="3.2" height="3.2" class="hg"/>
<rect x="80.5" y="69.9" width="3.2" height="3.2" class="hg"/>
<rect x="81.1" y="71.0" width="3.2" height="3.2" class="hg"/>
<rect x="81.7" y="69.6" width="3.2" height="3.2" class="hg"/>
<rect x="82.2" y="69.9" width="3.2" height="3.2" class="hg"/>
<rect x="83.2" y="70.3" width="3.2" height="3.2" class="hg"/>
<rect x="83.5" y="69.6" width="3.2" height="3.2" class="hg"/>
<rect x="84.3" y="70.4" width="3.2" height="3.2" class="hg"/>
<rect x="84.4" y="70.9" width="3.2" height="3.2" class="hg"/>
<rect x="85.5" y="70.3" width="3.2" height="3.2" class="hg"/>
<rect x="85.8" y="69.6" width="3.2" height="3.2" class="hg"/>
<rect x="86.5" y="69.8" width="3.2" height="3.2" class="hg"/>
<rect x="86.9" y="70.8" width="3.2" height="3.2" class="hg"/>
<rect x="87.2" y="69.7" width="3.2" height="3.2" class="hg"/>
<rect x="88.3" y="70.2" width="3.2" height="3.2" class="hg"/>
<rect x="88.7" y="70.1" width="3.2" height="3.2" class="hg"/>
<rect x="89.0" y="70.3" width="3.2" height="3.2" class="hg"/>
<rect x="89.6" y="70.6" width="3.2" height="3.2" class="hg"/>
<rect x="90.5" y="70.3" width="3.2" height="3.2" class="hg"/>
<rect x="91.1" y="70.5" width="3.2" height="3.2" class="hg"/>
<rect x="91.2" y="70.5" width="3.2" height="3.2" class="hg"/>
<rect x="92.2" y="70.6" width="3.2" height="3.2" class="hg"/>
<rect x="92.9" y="70.7" width="3.2" height="3.2" class="hg"/>
<rect x="93.1" y="70.5" width="3.2" height="3.2" class="hg"/>
<rect x="93.8" y="71.0" width="3.2" height="3.2" class="hg"/>
<rect x="94.4" y="71.0" width="3.2" height="3.2" class="hg"/>
<rect x="105.0" y="71.2" width="3.2" height="3.2" class="hg"/>
<rect x="133.3" y="74.8" width="3.2" height="3.2" class="hg"/>
<rect x="152.2" y="74.8" width="3.2" height="3.2" class="hg"/>
<rect x="171.0" y="76.4" width="3.2" height="3.2" class="hg"/>
<rect x="208.7" y="80.3" width="3.2" height="3.2" class="hg"/>
<rect x="227.6" y="81.6" width="3.2" height="3.2" class="hg"/>
<rect x="265.3" y="82.8" width="3.2" height="3.2" class="hg"/>
<rect x="284.2" y="83.2" width="3.2" height="3.2" class="hg"/>
<rect x="303.0" y="83.4" width="3.2" height="3.2" class="hg"/>
<circle cx="63.8" cy="91.0" r="1.7" class="hb"/>
<circle cx="62.2" cy="82.0" r="1.7" class="hb"/>
<circle cx="63.0" cy="77.0" r="1.7" class="hb"/>
<circle cx="63.5" cy="70.5" r="1.7" class="hb"/>
<circle cx="63.9" cy="66.6" r="1.7" class="hb"/>
<circle cx="64.7" cy="62.5" r="1.7" class="hb"/>
<circle cx="64.9" cy="61.2" r="1.7" class="hb"/>
<circle cx="65.7" cy="60.5" r="1.7" class="hb"/>
<circle cx="66.3" cy="59.6" r="1.7" class="hb"/>
<circle cx="67.0" cy="59.1" r="1.7" class="hb"/>
<circle cx="67.1" cy="58.9" r="1.7" class="hb"/>
<circle cx="68.1" cy="58.3" r="1.7" class="hb"/>
<circle cx="69.3" cy="57.9" r="1.7" class="hb"/>
<circle cx="70.2" cy="56.6" r="1.7" class="hb"/>
<circle cx="70.9" cy="56.3" r="1.7" class="hb"/>
<circle cx="72.3" cy="55.2" r="1.7" class="hb"/>
<circle cx="73.1" cy="54.7" r="1.7" class="hb"/>
<circle cx="74.3" cy="54.0" r="1.7" class="hb"/>
<circle cx="75.3" cy="53.2" r="1.7" class="hb"/>
<circle cx="76.3" cy="52.7" r="1.7" class="hb"/>
<circle cx="77.1" cy="51.9" r="1.7" class="hb"/>
<circle cx="78.5" cy="51.3" r="1.7" class="hb"/>
<circle cx="79.1" cy="50.8" r="1.7" class="hb"/>
<circle cx="80.5" cy="50.5" r="1.7" class="hb"/>
<circle cx="81.1" cy="50.9" r="1.7" class="hb"/>
<circle cx="82.1" cy="50.3" r="1.7" class="hb"/>
<circle cx="83.3" cy="50.4" r="1.7" class="hb"/>
<circle cx="84.2" cy="50.4" r="1.7" class="hb"/>
<circle cx="85.4" cy="50.4" r="1.7" class="hb"/>
<circle cx="86.6" cy="50.3" r="1.7" class="hb"/>
<circle cx="87.4" cy="50.3" r="1.7" class="hb"/>
<circle cx="88.5" cy="50.1" r="1.7" class="hb"/>
<circle cx="89.4" cy="49.8" r="1.7" class="hb"/>
<circle cx="90.7" cy="50.3" r="1.7" class="hb"/>
<circle cx="91.6" cy="49.7" r="1.7" class="hb"/>
<circle cx="92.3" cy="49.9" r="1.7" class="hb"/>
<circle cx="93.7" cy="49.8" r="1.7" class="hb"/>
<circle cx="94.5" cy="50.3" r="1.7" class="hb"/>
<circle cx="95.6" cy="50.0" r="1.7" class="hb"/>
<circle cx="106.6" cy="49.5" r="1.7" class="hb"/>
<circle cx="134.9" cy="56.6" r="1.7" class="hb"/>
<circle cx="153.8" cy="56.3" r="1.7" class="hb"/>
<circle cx="172.6" cy="57.1" r="1.7" class="hb"/>
<circle cx="210.4" cy="61.2" r="1.7" class="hb"/>
<circle cx="229.2" cy="60.8" r="1.7" class="hb"/>
<circle cx="266.9" cy="63.6" r="1.7" class="hb"/>
<circle cx="285.8" cy="65.4" r="1.7" class="hb"/>
<circle cx="304.6" cy="65.4" r="1.7" class="hb"/>
<path d="M61.7 88.4l2.1 3.6h-4.2z" class="ho"/>
<path d="M63.5 87.2l2.1 3.6h-4.2z" class="ho"/>
<path d="M62.5 81.4l2.1 3.6h-4.2z" class="ho"/>
<path d="M63.2 81.1l2.1 3.6h-4.2z" class="ho"/>
<path d="M62.9 73.6l2.1 3.6h-4.2z" class="ho"/>
<path d="M63.5 75.1l2.1 3.6h-4.2z" class="ho"/>
<path d="M63.9 70.5l2.1 3.6h-4.2z" class="ho"/>
<path d="M63.8 69.9l2.1 3.6h-4.2z" class="ho"/>
<path d="M64.7 68.4l2.1 3.6h-4.2z" class="ho"/>
<path d="M64.7 62.8l2.1 3.6h-4.2z" class="ho"/>
<path d="M65.1 60.8l2.1 3.6h-4.2z" class="ho"/>
<path d="M65.3 59.8l2.1 3.6h-4.2z" class="ho"/>
<path d="M65.6 63.5l2.1 3.6h-4.2z" class="ho"/>
<path d="M65.7 62.7l2.1 3.6h-4.2z" class="ho"/>
<path d="M66.0 62.7l2.1 3.6h-4.2z" class="ho"/>
<path d="M66.6 58.5l2.1 3.6h-4.2z" class="ho"/>
<path d="M66.6 58.8l2.1 3.6h-4.2z" class="ho"/>
<path d="M67.2 57.4l2.1 3.6h-4.2z" class="ho"/>
<path d="M67.3 56.7l2.1 3.6h-4.2z" class="ho"/>
<path d="M68.3 61.6l2.1 3.6h-4.2z" class="ho"/>
<path d="M68.6 57.9l2.1 3.6h-4.2z" class="ho"/>
<path d="M69.5 60.0l2.1 3.6h-4.2z" class="ho"/>
<path d="M69.9 58.5l2.1 3.6h-4.2z" class="ho"/>
<path d="M70.7 57.4l2.1 3.6h-4.2z" class="ho"/>
<path d="M70.8 57.0l2.1 3.6h-4.2z" class="ho"/>
<path d="M71.6 54.9l2.1 3.6h-4.2z" class="ho"/>
<path d="M72.2 57.1l2.1 3.6h-4.2z" class="ho"/>
<path d="M72.6 56.8l2.1 3.6h-4.2z" class="ho"/>
<path d="M73.1 55.3l2.1 3.6h-4.2z" class="ho"/>
<path d="M73.7 55.1l2.1 3.6h-4.2z" class="ho"/>
<path d="M74.2 56.3l2.1 3.6h-4.2z" class="ho"/>
<path d="M75.1 54.3l2.1 3.6h-4.2z" class="ho"/>
<path d="M75.4 54.5l2.1 3.6h-4.2z" class="ho"/>
<path d="M76.3 55.6l2.1 3.6h-4.2z" class="ho"/>
<path d="M76.5 53.1l2.1 3.6h-4.2z" class="ho"/>
<path d="M77.3 53.4l2.1 3.6h-4.2z" class="ho"/>
<path d="M77.8 52.5l2.1 3.6h-4.2z" class="ho"/>
<path d="M78.5 53.3l2.1 3.6h-4.2z" class="ho"/>
<path d="M79.0 51.6l2.1 3.6h-4.2z" class="ho"/>
<path d="M79.2 50.7l2.1 3.6h-4.2z" class="ho"/>
<path d="M79.8 50.5l2.1 3.6h-4.2z" class="ho"/>
<path d="M80.5 52.5l2.1 3.6h-4.2z" class="ho"/>
<path d="M81.2 51.4l2.1 3.6h-4.2z" class="ho"/>
<path d="M81.5 50.3l2.1 3.6h-4.2z" class="ho"/>
<path d="M82.5 50.0l2.1 3.6h-4.2z" class="ho"/>
<path d="M82.8 50.3l2.1 3.6h-4.2z" class="ho"/>
<path d="M83.6 49.9l2.1 3.6h-4.2z" class="ho"/>
<path d="M83.9 51.0l2.1 3.6h-4.2z" class="ho"/>
<path d="M84.5 50.2l2.1 3.6h-4.2z" class="ho"/>
<path d="M85.2 50.2l2.1 3.6h-4.2z" class="ho"/>
<path d="M86.0 50.1l2.1 3.6h-4.2z" class="ho"/>
<path d="M86.0 50.9l2.1 3.6h-4.2z" class="ho"/>
<path d="M86.6 49.2l2.1 3.6h-4.2z" class="ho"/>
<path d="M87.6 49.0l2.1 3.6h-4.2z" class="ho"/>
<path d="M88.0 49.6l2.1 3.6h-4.2z" class="ho"/>
<path d="M88.7 48.1l2.1 3.6h-4.2z" class="ho"/>
<path d="M89.0 49.1l2.1 3.6h-4.2z" class="ho"/>
<path d="M89.4 49.3l2.1 3.6h-4.2z" class="ho"/>
<path d="M90.4 48.0l2.1 3.6h-4.2z" class="ho"/>
<path d="M90.6 47.7l2.1 3.6h-4.2z" class="ho"/>
<path d="M91.5 48.4l2.1 3.6h-4.2z" class="ho"/>
<path d="M91.7 48.4l2.1 3.6h-4.2z" class="ho"/>
<path d="M92.6 47.9l2.1 3.6h-4.2z" class="ho"/>
<path d="M92.9 47.9l2.1 3.6h-4.2z" class="ho"/>
<path d="M93.5 47.6l2.1 3.6h-4.2z" class="ho"/>
<path d="M93.9 48.3l2.1 3.6h-4.2z" class="ho"/>
<path d="M95.0 48.0l2.1 3.6h-4.2z" class="ho"/>
<path d="M95.2 48.0l2.1 3.6h-4.2z" class="ho"/>
<path d="M95.7 47.9l2.1 3.6h-4.2z" class="ho"/>
<path d="M106.6 44.5l2.1 3.6h-4.2z" class="ho"/>
<path d="M134.9 42.4l2.1 3.6h-4.2z" class="ho"/>
<path d="M153.8 40.5l2.1 3.6h-4.2z" class="ho"/>
<path d="M172.6 37.9l2.1 3.6h-4.2z" class="ho"/>
<path d="M210.4 41.5l2.1 3.6h-4.2z" class="ho"/>
<path d="M229.2 39.8l2.1 3.6h-4.2z" class="ho"/>
<path d="M266.9 43.5l2.1 3.6h-4.2z" class="ho"/>
<path d="M285.8 44.3l2.1 3.6h-4.2z" class="ho"/>
<path d="M304.6 41.9l2.1 3.6h-4.2z" class="ho"/>
<rect x="59.4" y="135.2" width="3.2" height="3.2" class="hg"/>
<path d="M62.5 103.7l2.1 3.6h-4.2z" class="ho"/>
<rect x="59.9" y="109.2" width="3.2" height="3.2" class="hg"/>
<circle cx="61.8" cy="113.8" r="1.7" class="hb"/>
<circle cx="60.8" cy="126.7" r="1.7" class="hb"/>
<rect x="60.9" y="112.6" width="3.2" height="3.2" class="hg"/>
<rect x="60.1" y="121.8" width="3.2" height="3.2" class="hg"/>
<rect x="60.6" y="129.7" width="3.2" height="3.2" class="hg"/>
<path d="M62.1 104.1l2.1 3.6h-4.2z" class="ho"/>
<rect x="60.8" y="109.4" width="3.2" height="3.2" class="hg"/>
<path d="M60.1 148.1l2.1 3.6h-4.2z" class="ho"/>
<path d="M60.2 117.3l2.1 3.6h-4.2z" class="ho"/>
<circle cx="60.0" cy="140.1" r="1.7" class="hb"/>
<circle cx="60.4" cy="146.2" r="1.7" class="hb"/>
<circle cx="62.5" cy="101.8" r="1.7" class="hb"/>
<path d="M62.2 123.8l2.1 3.6h-4.2z" class="ho"/>
<path d="M61.0 102.8l2.1 3.6h-4.2z" class="ho"/>
<rect x="59.1" y="139.7" width="3.2" height="3.2" class="hg"/>
<rect x="58.4" y="135.4" width="3.2" height="3.2" class="hg"/>
<rect x="58.7" y="129.3" width="3.2" height="3.2" class="hg"/>
<path d="M60.0 140.7l2.1 3.6h-4.2z" class="ho"/>
<circle cx="60.6" cy="152.3" r="1.7" class="hb"/>
<rect x="60.5" y="115.6" width="3.2" height="3.2" class="hg"/>
<path d="M60.7 108.8l2.1 3.6h-4.2z" class="ho"/>
<rect x="58.4" y="148.8" width="3.2" height="3.2" class="hg"/>
<path d="M60.6 129.3l2.1 3.6h-4.2z" class="ho"/>
<rect x="59.0" y="116.3" width="3.2" height="3.2" class="hg"/>
<path d="M62.2 127.7l2.1 3.6h-4.2z" class="ho"/>
<circle cx="61.3" cy="107.5" r="1.7" class="hb"/>
<path d="M60.0 146.2l2.1 3.6h-4.2z" class="ho"/>
<rect x="59.9" y="102.0" width="3.2" height="3.2" class="hg"/>
<rect x="60.1" y="117.0" width="3.2" height="3.2" class="hg"/>
<rect x="58.9" y="110.8" width="3.2" height="3.2" class="hg"/>
<path d="M61.9 136.9l2.1 3.6h-4.2z" class="ho"/>
<path d="M60.7 150.2l2.1 3.6h-4.2z" class="ho"/>
<rect x="58.7" y="150.4" width="3.2" height="3.2" class="hg"/>
<rect x="58.4" y="145.3" width="3.2" height="3.2" class="hg"/>
<path d="M61.1 145.2l2.1 3.6h-4.2z" class="ho"/>
<path d="M61.7 112.8l2.1 3.6h-4.2z" class="ho"/>
<rect x="58.4" y="145.3" width="3.2" height="3.2" class="hg"/>
<rect x="59.2" y="105.5" width="3.2" height="3.2" class="hg"/>
<rect x="60.9" y="121.6" width="3.2" height="3.2" class="hg"/>
<path d="M62.3 121.2l2.1 3.6h-4.2z" class="ho"/>
<path d="M61.6 118.6l2.1 3.6h-4.2z" class="ho"/>
<path d="M61.7 120.7l2.1 3.6h-4.2z" class="ho"/>
<rect x="60.3" y="139.4" width="3.2" height="3.2" class="hg"/>
<path d="M62.0 105.7l2.1 3.6h-4.2z" class="ho"/>
<path d="M60.4 130.0l2.1 3.6h-4.2z" class="ho"/>
<rect x="58.4" y="121.8" width="3.2" height="3.2" class="hg"/>
<rect x="59.5" y="130.6" width="3.2" height="3.2" class="hg"/>
<path d="M60.9 102.8l2.1 3.6h-4.2z" class="ho"/>
<path d="M61.0 116.7l2.1 3.6h-4.2z" class="ho"/>
<path d="M61.0 143.1l2.1 3.6h-4.2z" class="ho"/>
<rect x="58.4" y="144.8" width="3.2" height="3.2" class="hg"/>
<rect x="60.2" y="126.2" width="3.2" height="3.2" class="hg"/>
<rect x="60.4" y="115.2" width="3.2" height="3.2" class="hg"/>
<path d="M62.4 108.4l2.1 3.6h-4.2z" class="ho"/>
<circle cx="63.0" cy="99.6" r="1.7" class="hb"/>
<circle cx="61.0" cy="133.4" r="1.7" class="hb"/>
<path d="M61.7 94.3l2.1 3.6h-4.2z" class="ho"/>
<circle cx="61.2" cy="118.2" r="1.7" class="hb"/>
<path d="M60.0 136.4l2.1 3.6h-4.2z" class="ho"/>
<rect x="58.8" y="141.3" width="3.2" height="3.2" class="hg"/>
<path d="M61.1 134.0l2.1 3.6h-4.2z" class="ho"/>
<path d="M82.1 50.5 L82.7 50.4 L83.3 50.3 L83.9 50.3 L84.4 50.2 L85.0 50.2 L85.6 50.2 L86.2 50.1 L86.8 50.1 L87.4 50.1 L87.9 50.1 L88.5 50.0 L89.1 50.0 L89.7 50.0 L90.3 50.0 L90.8 50.0 L91.4 50.0 L92.0 50.0 L92.6 50.0 L93.2 50.0 L93.7 50.0 L94.3 50.0 L94.9 50.0 L95.5 50.0 L96.1 50.0 L96.6 50.0 L97.2 50.0 L97.8 50.1 L98.4 50.1 L99.0 50.3 L99.5 50.4 L100.1 50.5 L100.7 50.7 L101.3 50.8 L101.9 51.0 L102.4 51.2 L103.0 51.4 L103.6 51.6 L104.2 51.8 L104.8 52.0" fill="none" stroke="#4472C4" stroke-width="2.4" stroke-linejoin="round" stroke-linecap="round"/>
</g>
<rect x="59.50" y="5.50" width="264.00" height="146.80" fill="none" stroke="#595959" stroke-width="1.1"/>
<path d="M55.50 152.30H59.50" stroke="#595959" stroke-width="1.1"/>
<path d="M55.50 127.83H59.50" stroke="#595959" stroke-width="1.1"/>
<path d="M55.50 103.37H59.50" stroke="#595959" stroke-width="1.1"/>
<path d="M55.50 78.90H59.50" stroke="#595959" stroke-width="1.1"/>
<path d="M55.50 54.43H59.50" stroke="#595959" stroke-width="1.1"/>
<path d="M55.50 29.97H59.50" stroke="#595959" stroke-width="1.1"/>
<path d="M55.50 5.50H59.50" stroke="#595959" stroke-width="1.1"/>
<path d="M59.50 152.30V156.30" stroke="#595959" stroke-width="1.1"/>
<path d="M97.21 152.30V156.30" stroke="#595959" stroke-width="1.1"/>
<path d="M134.93 152.30V156.30" stroke="#595959" stroke-width="1.1"/>
<path d="M172.64 152.30V156.30" stroke="#595959" stroke-width="1.1"/>
<path d="M210.36 152.30V156.30" stroke="#595959" stroke-width="1.1"/>
<path d="M248.07 152.30V156.30" stroke="#595959" stroke-width="1.1"/>
<path d="M285.79 152.30V156.30" stroke="#595959" stroke-width="1.1"/>
<path d="M323.50 152.30V156.30" stroke="#595959" stroke-width="1.1"/>
<text x="47.90" y="156.70" text-anchor="end" class="t">0</text>
<text x="47.90" y="132.23" text-anchor="end" class="t">2</text>
<text x="47.90" y="107.77" text-anchor="end" class="t">4</text>
<text x="47.90" y="83.30" text-anchor="end" class="t">6</text>
<text x="47.90" y="58.83" text-anchor="end" class="t">8</text>
<text x="47.90" y="34.37" text-anchor="end" class="t">10</text>
<text x="47.90" y="9.90" text-anchor="end" class="t">12</text>
<text x="59.50" y="172.40" text-anchor="middle" class="t">0</text>
<text x="97.21" y="172.40" text-anchor="middle" class="t">20</text>
<text x="134.93" y="172.40" text-anchor="middle" class="t">40</text>
<text x="172.64" y="172.40" text-anchor="middle" class="t">60</text>
<text x="210.36" y="172.40" text-anchor="middle" class="t">80</text>
<text x="248.07" y="172.40" text-anchor="middle" class="t">100</text>
<text x="285.79" y="172.40" text-anchor="middle" class="t">120</text>
<text x="323.50" y="172.40" text-anchor="middle" class="t">140</text>
<text x="106.50" y="188.00" class="b">anaerobic storage period [d]</text>
<text transform="translate(11.50 144.80) rotate(-90)" x="0" y="0" class="b">gas quantity [L kg<tspan dy="2.6" class="s">DM</tspan><tspan dy="-8" class="s">-1</tspan><tspan dy="5.4">]</tspan></text>
<g>
<path d="M418.6 81.0V86.0M416.0 81.0h5.2M416.0 86.0h5.2" class="eb"/>
<path d="M420.5 40.9V45.4M417.9 40.9h5.2M417.9 45.4h5.2" class="eb"/>
<path d="M422.3 33.5V38.0M419.7 33.5h5.2M419.7 38.0h5.2" class="eb"/>
<path d="M424.2 31.1V35.6M421.6 31.1h5.2M421.6 35.6h5.2" class="eb"/>
<path d="M426.0 28.7V33.2M423.4 28.7h5.2M423.4 33.2h5.2" class="eb"/>
<path d="M427.8 27.9V32.4M425.2 27.9h5.2M425.2 32.4h5.2" class="eb"/>
<path d="M429.7 27.4V31.9M427.1 27.4h5.2M427.1 31.9h5.2" class="eb"/>
<path d="M431.5 27.3V31.8M428.9 27.3h5.2M428.9 31.8h5.2" class="eb"/>
<path d="M433.3 27.8V32.3M430.7 27.8h5.2M430.7 32.3h5.2" class="eb"/>
<path d="M435.2 28.6V33.1M432.6 28.6h5.2M432.6 33.1h5.2" class="eb"/>
<path d="M437.0 29.7V34.2M434.4 29.7h5.2M434.4 34.2h5.2" class="eb"/>
<path d="M438.9 31.7V35.5M436.3 31.7h5.2M436.3 35.5h5.2" class="eb"/>
<path d="M440.7 34.3V37.3M438.1 34.3h5.2M438.1 37.3h5.2" class="eb"/>
<path d="M442.5 36.1V38.7M439.9 36.1h5.2M439.9 38.7h5.2" class="eb"/>
<path d="M444.4 37.5V39.9M441.8 37.5h5.2M441.8 39.9h5.2" class="eb"/>
<path d="M446.2 38.4V40.7M443.6 38.4h5.2M443.6 40.7h5.2" class="eb"/>
<path d="M448.1 38.9V41.1M445.5 38.9h5.2M445.5 41.1h5.2" class="eb"/>
<path d="M449.9 39.4V41.4M447.3 39.4h5.2M447.3 41.4h5.2" class="eb"/>
<path d="M451.7 40.0V42.0M449.1 40.0h5.2M449.1 42.0h5.2" class="eb"/>
<path d="M453.6 37.6V48.2M450.2 37.6h6.8M450.2 48.2h6.8" class="eb"/>
<path d="M472.0 51.3V72.7M468.6 51.3h6.8M468.6 72.7h6.8" class="eb"/>
<path d="M545.5 73.6V83.9M542.1 73.6h6.8M542.1 83.9h6.8" class="eb"/>
<path d="M600.7 81.5V89.4M597.3 81.5h6.8M597.3 89.4h6.8" class="eb"/>
<path d="M665.0 83.9V93.1M661.6 83.9h6.8M661.6 93.1h6.8" class="eb"/>
<g stroke="#4472C4" stroke-linecap="round" fill="none" opacity="0.85"><path d="M418.6 83.5L418.8 80.0M418.8 80.0L418.9 76.6M418.9 76.6L419.0 73.3" stroke-width="2.8"/><path d="M419.0 73.3L419.1 70.1M419.1 70.1L419.3 67.0M419.3 67.0L419.4 64.1M419.4 64.1L419.5 61.2M419.5 61.2L419.7 58.5M419.7 58.5L419.8 55.6M419.8 55.6L419.9 52.8M419.9 52.8L420.0 50.1M420.0 50.1L420.2 47.6M420.2 47.6L420.3 45.5M420.3 45.5L420.4 43.8M420.4 43.8L420.5 42.6" stroke-width="2.6"/><path d="M420.5 42.6L420.7 41.5M420.7 41.5L420.8 40.6M420.8 40.6L420.9 39.7M420.9 39.7L421.0 39.0M421.0 39.0L421.2 38.4M421.2 38.4L421.3 37.9M421.3 37.9L421.4 37.5M421.4 37.5L421.6 37.2M421.6 37.2L421.7 36.9M421.7 36.9L421.8 36.7M421.8 36.7L421.9 36.4M421.9 36.4L422.1 36.2M422.1 36.2L422.2 36.0M422.2 36.0L422.3 35.8M422.3 35.8L422.7 35.3M422.7 35.3L423.1 34.8M423.1 34.8L423.5 34.3M423.5 34.3L423.9 33.8M423.9 33.8L424.3 33.1M424.3 33.1L424.7 32.4M424.7 32.4L425.1 31.8M425.1 31.8L425.5 31.3M425.5 31.3L425.9 31.0M425.9 31.0L426.3 30.8M426.3 30.8L426.7 30.6M426.7 30.6L427.1 30.4M427.1 30.4L427.5 30.2M427.5 30.2L427.9 30.1M427.9 30.1L428.3 30.0M428.3 30.0L428.6 29.9M428.6 29.9L429.0 29.8M429.0 29.8L429.4 29.7M429.4 29.7L429.8 29.6M429.8 29.6L430.2 29.6M430.2 29.6L430.6 29.5M430.6 29.5L431.0 29.5M431.0 29.5L431.4 29.6M431.4 29.6L431.8 29.6M431.8 29.6L432.2 29.7M432.2 29.7L432.6 29.8M432.6 29.8L433.0 29.9M433.0 29.9L433.4 30.0M433.4 30.0L433.8 30.2M433.8 30.2L434.2 30.4M434.2 30.4L434.6 30.5M434.6 30.5L435.0 30.7M435.0 30.7L435.4 31.0M435.4 31.0L435.8 31.2M435.8 31.2L436.2 31.4M436.2 31.4L436.6 31.6M436.6 31.6L437.0 31.9M437.0 31.9L437.4 32.1M437.4 32.1L437.7 32.4M437.7 32.4L438.1 32.8" stroke-width="2.4"/><path d="M438.1 32.8L438.5 33.2M438.5 33.2L438.9 33.7" stroke-width="2.2"/><path d="M438.9 33.7L439.3 34.1M439.3 34.1L439.7 34.6M439.7 34.6L440.1 35.1" stroke-width="2.0"/><path d="M440.1 35.1L440.5 35.6M440.5 35.6L440.9 36.0" stroke-width="1.8"/><path d="M440.9 36.0L441.3 36.4M441.3 36.4L441.7 36.7" stroke-width="1.6"/><path d="M441.7 36.7L442.1 37.1M442.1 37.1L442.5 37.4M442.5 37.4L442.9 37.7M442.9 37.7L443.3 38.0M443.3 38.0L443.7 38.2M443.7 38.2L444.1 38.5M444.1 38.5L444.5 38.8M444.5 38.8L444.9 39.0M444.9 39.0L445.3 39.2M445.3 39.2L445.7 39.4M445.7 39.4L446.1 39.5M446.1 39.5L446.4 39.6" stroke-width="1.4"/><path d="M446.4 39.6L446.8 39.7M446.8 39.7L447.2 39.8M447.2 39.8L447.6 39.9M447.6 39.9L448.0 40.0M448.0 40.0L448.4 40.1M448.4 40.1L448.8 40.2M448.8 40.2L449.2 40.3M449.2 40.3L449.6 40.3M449.6 40.3L450.0 40.4M450.0 40.4L450.4 40.5M450.4 40.5L450.8 40.7M450.8 40.7L451.2 40.8" stroke-width="1.2"/><path d="M451.2 40.8L451.6 41.0M451.6 41.0L452.0 41.1M452.0 41.1L452.4 41.4M452.4 41.4L452.8 41.8M452.8 41.8L453.2 42.2M453.2 42.2L453.6 42.6" stroke-width="1.0"/></g>
<path d="M416.8 152.3 L416.9 146.4 L417.1 140.5 L417.2 134.7 L417.4 128.8 L417.5 122.7 L417.6 116.6 L417.8 110.7 L417.9 105.4 L418.1 100.6 L418.2 96.0 L418.4 91.6 L418.5 87.5 L418.6 83.5 L418.8 79.6 L418.9 75.8 L419.1 72.2 L419.2 68.7 L419.3 65.3 L419.5 62.1 L419.6 59.0 L419.8 55.8 L419.9 52.7 L420.1 49.7 L420.2 47.0 L420.3 44.8 L420.5 43.1 L420.6 41.9 L420.8 40.8 L420.9 39.8 L421.0 39.0 L421.2 38.4 L421.3 37.8 L421.5 37.4 L421.6 37.1 L421.8 36.8 L421.9 36.5 L422.0 36.2 L422.2 36.0 L422.3 35.8 L422.7 35.2 L423.2 34.8 L423.6 34.3 L424.0 33.6 L424.4 32.9 L424.8 32.2 L425.2 31.6 L425.7 31.1 L426.1 30.9 L426.5 30.7 L426.9 30.5 L427.3 30.3 L427.7 30.1 L428.2 30.0 L428.6 29.9 L429.0 29.8 L429.4 29.7 L429.8 29.6 L430.2 29.6 L430.7 29.5 L431.1 29.5 L431.5 29.6 L431.9 29.6 L432.3 29.7 L432.7 29.8 L433.2 29.9 L433.6 30.1 L434.0 30.3 L434.4 30.5 L434.8 30.7 L435.2 30.9 L435.7 31.1 L436.1 31.4 L436.5 31.6 L436.9 31.8 L437.3 32.1 L437.8 32.4 L438.2 32.8 L438.6 33.3 L439.0 33.7 L439.4 34.3 L439.8 34.8 L440.3 35.3 L440.7 35.8 L441.1 36.2 L441.5 36.6 L441.9 36.9 L442.3 37.2 L442.8 37.6 L443.2 37.9 L443.6 38.2 L444.0 38.5 L444.4 38.7 L444.8 39.0 L445.3 39.2 L445.7 39.4 L446.1 39.5 L446.5 39.7 L446.9 39.8 L447.3 39.9 L447.8 40.0 L448.2 40.1 L448.6 40.1 L449.0 40.2 L449.4 40.3 L449.8 40.4 L450.3 40.5 L450.7 40.6 L451.1 40.8 L451.5 40.9 L451.9 41.1 L452.4 41.4 L452.8 41.8 L453.2 42.2 L453.6 42.6 L454.0 43.0 L454.4 43.3 L454.9 43.6 L455.3 44.0 L455.7 44.3 L456.1 44.7 L456.5 45.1 L456.9 45.5 L457.4 46.0 L457.8 46.5 L458.2 47.1 L458.6 47.8 L459.0 48.4 L459.4 49.2 L459.9 49.9 L460.3 50.6 L460.7 51.4 L461.1 52.1 L461.5 52.8 L461.9 53.5 L462.4 54.1 L462.8 54.6 L463.2 55.1 L463.6 55.6 L464.0 56.1 L464.4 56.5 L464.9 57.0 L465.3 57.4 L465.7 57.8 L466.1 58.2 L466.5 58.5 L467.0 58.9 L467.4 59.2 L467.8 59.5 L468.2 59.8 L468.6 60.0 L469.0 60.3 L469.5 60.5 L469.9 60.8 L470.3 61.0 L470.7 61.2 L471.1 61.4 L471.5 61.6 L472.0 61.8 L475.2 63.2 L478.5 64.3 L481.8 65.2 L485.0 66.0 L488.3 66.7 L491.6 67.3 L494.9 68.0 L498.1 68.6 L501.4 69.1 L504.7 69.4 L507.9 69.8 L511.2 70.4 L514.5 71.1 L517.8 72.0 L521.0 73.0 L524.3 73.9 L527.6 74.7 L530.9 75.4 L534.1 76.1 L537.4 76.8 L540.7 77.5 L543.9 78.1 L547.2 78.8 L550.5 79.5 L553.8 80.2 L557.0 80.9 L560.3 81.5 L563.6 82.1 L566.8 82.5 L570.1 82.9 L573.4 83.3 L576.7 83.6 L579.9 83.9 L583.2 84.2 L586.5 84.5 L589.8 84.8 L593.0 85.0 L596.3 85.3 L599.6 85.5 L602.8 85.7 L606.1 86.0 L609.4 86.2 L612.7 86.4 L615.9 86.5 L619.2 86.7 L622.5 86.9 L625.7 87.1 L629.0 87.2 L632.3 87.4 L635.6 87.5 L638.8 87.7 L642.1 87.8 L645.4 87.9 L648.6 88.0 L651.9 88.2 L655.2 88.3 L658.5 88.4 L661.7 88.5 L665.0 88.5" fill="none" stroke="#4472C4" stroke-width="2.4" stroke-linejoin="round" stroke-linecap="round"/>
<circle cx="418.6" cy="83.5" r="2.4" class="fb"/>
<circle cx="420.5" cy="43.1" r="2.4" class="fb"/>
<circle cx="422.3" cy="35.8" r="2.4" class="fb"/>
<circle cx="424.2" cy="33.3" r="2.4" class="fb"/>
<circle cx="426.0" cy="30.9" r="2.4" class="fb"/>
<circle cx="427.8" cy="30.1" r="2.4" class="fb"/>
<circle cx="429.7" cy="29.6" r="2.4" class="fb"/>
<circle cx="431.5" cy="29.6" r="2.4" class="fb"/>
<circle cx="433.3" cy="30.0" r="2.4" class="fb"/>
<circle cx="435.2" cy="30.9" r="2.4" class="fb"/>
<circle cx="437.0" cy="31.9" r="2.4" class="fb"/>
<circle cx="438.9" cy="33.6" r="2.4" class="fb"/>
<circle cx="440.7" cy="35.8" r="2.4" class="fb"/>
<circle cx="442.5" cy="37.4" r="2.4" class="fb"/>
<circle cx="444.4" cy="38.7" r="2.4" class="fb"/>
<circle cx="446.2" cy="39.6" r="2.4" class="fb"/>
<circle cx="448.1" cy="40.0" r="2.4" class="fb"/>
<circle cx="449.9" cy="40.4" r="2.4" class="fb"/>
<circle cx="451.7" cy="41.0" r="2.4" class="fb"/>
<circle cx="453.6" cy="42.6" r="2.4" class="fb"/>
<circle cx="472.0" cy="61.8" r="2.4" class="fb"/>
<circle cx="545.5" cy="78.9" r="2.4" class="fb"/>
<circle cx="600.7" cy="86.0" r="2.4" class="fb"/>
<circle cx="665.0" cy="88.6" r="2.4" class="fb"/>
<path d="M418.6 67.8V75.3M416.0 67.8h5.2M416.0 75.3h5.2" class="eo"/>
<path d="M420.5 41.9V51.6M417.9 41.9h5.2M417.9 51.6h5.2" class="eo"/>
<path d="M422.3 35.6V46.1M419.7 35.6h5.2M419.7 46.1h5.2" class="eo"/>
<path d="M424.2 32.7V42.6M421.6 32.7h5.2M421.6 42.6h5.2" class="eo"/>
<path d="M426.0 31.6V40.6M423.4 31.6h5.2M423.4 40.6h5.2" class="eo"/>
<path d="M427.8 31.4V39.5M425.2 31.4h5.2M425.2 39.5h5.2" class="eo"/>
<path d="M429.7 31.3V39.1M427.1 31.3h5.2M427.1 39.1h5.2" class="eo"/>
<path d="M431.5 31.3V38.9M428.9 31.3h5.2M428.9 38.9h5.2" class="eo"/>
<path d="M433.3 32.4V40.3M430.7 32.4h5.2M430.7 40.3h5.2" class="eo"/>
<path d="M435.2 34.8V42.4M432.6 34.8h5.2M432.6 42.4h5.2" class="eo"/>
<path d="M437.0 37.7V44.3M434.4 37.7h5.2M434.4 44.3h5.2" class="eo"/>
<path d="M438.9 39.9V45.3M436.3 39.9h5.2M436.3 45.3h5.2" class="eo"/>
<path d="M440.7 41.5V45.5M438.1 41.5h5.2M438.1 45.5h5.2" class="eo"/>
<path d="M442.5 41.8V45.8M439.9 41.8h5.2M439.9 45.8h5.2" class="eo"/>
<path d="M444.4 42.1V46.0M441.8 42.1h5.2M441.8 46.0h5.2" class="eo"/>
<path d="M446.2 42.2V46.1M443.6 42.2h5.2M443.6 46.1h5.2" class="eo"/>
<path d="M448.1 42.4V46.1M445.5 42.4h5.2M445.5 46.1h5.2" class="eo"/>
<path d="M449.9 42.4V46.2M447.3 42.4h5.2M447.3 46.2h5.2" class="eo"/>
<path d="M451.7 42.5V46.2M449.1 42.5h5.2M449.1 46.2h5.2" class="eo"/>
<path d="M453.6 39.9V46.8M450.2 39.9h6.8M450.2 46.8h6.8" class="eo"/>
<path d="M472.0 51.4V57.8M468.6 51.4h6.8M468.6 57.8h6.8" class="eo"/>
<path d="M545.5 53.0V67.0M542.1 53.0h6.8M542.1 67.0h6.8" class="eo"/>
<path d="M600.7 51.8V74.8M597.3 51.8h6.8M597.3 74.8h6.8" class="eo"/>
<path d="M665.0 50.0V79.0M661.6 50.0h6.8M661.6 79.0h6.8" class="eo"/>
<g stroke="#ED7D31" stroke-linecap="round" fill="none" opacity="0.85"><path d="M418.6 71.6L418.8 68.6M418.8 68.6L418.9 65.9M430.6 35.2L431.0 35.1M431.0 35.1L431.4 35.1M431.4 35.1L431.8 35.1M431.8 35.1L432.2 35.3M432.2 35.3L432.6 35.6M435.0 38.3L435.4 38.8" stroke-width="7.2"/><path d="M418.9 65.9L419.0 63.4M429.0 35.3L429.4 35.2M429.4 35.2L429.8 35.2M429.8 35.2L430.2 35.2M430.2 35.2L430.6 35.2M432.6 35.6L433.0 36.0M433.0 36.0L433.4 36.4M433.4 36.4L433.8 36.9M434.6 37.8L435.0 38.3" stroke-width="7.4"/><path d="M419.0 63.4L419.1 61.1M427.9 35.4L428.3 35.4M428.3 35.4L428.6 35.3M428.6 35.3L429.0 35.3M433.8 36.9L434.2 37.3M434.2 37.3L434.6 37.8" stroke-width="7.6"/><path d="M419.1 61.1L419.3 59.0M419.3 59.0L419.4 57.1M427.5 35.5L427.9 35.4" stroke-width="7.8"/><path d="M419.4 57.1L419.5 55.4M427.1 35.6L427.5 35.5" stroke-width="8.0"/><path d="M419.5 55.4L419.7 53.9M419.7 53.9L419.8 52.5M426.7 35.8L427.1 35.6" stroke-width="8.2"/><path d="M419.8 52.5L419.9 51.2M426.3 36.0L426.7 35.8" stroke-width="8.4"/><path d="M419.9 51.2L420.0 50.0M420.0 50.0L420.2 48.9M425.9 36.2L426.3 36.0" stroke-width="8.6"/><path d="M420.2 48.9L420.3 48.0M425.5 36.5L425.9 36.2" stroke-width="8.8"/><path d="M420.3 48.0L420.4 47.1M425.1 36.8L425.5 36.5" stroke-width="9.0"/><path d="M420.4 47.1L420.5 46.5M420.5 46.5L420.7 45.8M424.3 37.5L424.7 37.1M424.7 37.1L425.1 36.8" stroke-width="9.2"/><path d="M420.7 45.8L420.8 45.3M423.9 37.9L424.3 37.5" stroke-width="9.4"/><path d="M420.8 45.3L420.9 44.8M420.9 44.8L421.0 44.3M423.1 39.1L423.5 38.4M423.5 38.4L423.9 37.9" stroke-width="9.6"/><path d="M421.0 44.3L421.2 43.9M422.7 39.9L423.1 39.1" stroke-width="9.8"/><path d="M421.2 43.9L421.3 43.5M421.3 43.5L421.4 43.1M421.8 42.1L421.9 41.7M421.9 41.7L422.1 41.4M422.1 41.4L422.2 41.1M422.2 41.1L422.3 40.8M422.3 40.8L422.7 39.9" stroke-width="10.0"/><path d="M421.4 43.1L421.6 42.8M421.6 42.8L421.7 42.4M421.7 42.4L421.8 42.1" stroke-width="10.2"/><path d="M435.4 38.8L435.8 39.4" stroke-width="7.0"/><path d="M435.8 39.4L436.2 39.9" stroke-width="6.8"/><path d="M436.2 39.9L436.6 40.4" stroke-width="6.6"/><path d="M436.6 40.4L437.0 40.9" stroke-width="6.4"/><path d="M437.0 40.9L437.4 41.4" stroke-width="6.2"/><path d="M437.4 41.4L437.7 41.7" stroke-width="6.0"/><path d="M437.7 41.7L438.1 42.0" stroke-width="5.8"/><path d="M438.1 42.0L438.5 42.3" stroke-width="5.6"/><path d="M438.5 42.3L438.9 42.6" stroke-width="5.2"/><path d="M438.9 42.6L439.3 42.9" stroke-width="5.0"/><path d="M439.3 42.9L439.7 43.1" stroke-width="4.8"/><path d="M439.7 43.1L440.1 43.3" stroke-width="4.4"/><path d="M440.1 43.3L440.5 43.4" stroke-width="4.2"/><path d="M440.5 43.4L440.9 43.5" stroke-width="4.0"/><path d="M440.9 43.5L441.3 43.6M441.3 43.6L441.7 43.7M441.7 43.7L442.1 43.7M442.1 43.7L442.5 43.8M442.5 43.8L442.9 43.9M442.9 43.9L443.3 43.9M443.3 43.9L443.7 44.0M443.7 44.0L444.1 44.0M444.1 44.0L444.5 44.0M444.5 44.0L444.9 44.1" stroke-width="3.8"/><path d="M444.9 44.1L445.3 44.1M445.3 44.1L445.7 44.1M445.7 44.1L446.1 44.2M446.1 44.2L446.4 44.2M446.4 44.2L446.8 44.2M446.8 44.2L447.2 44.2M447.2 44.2L447.6 44.2M447.6 44.2L448.0 44.3M448.0 44.3L448.4 44.3M448.4 44.3L448.8 44.3M448.8 44.3L449.2 44.3M449.2 44.3L449.6 44.3M449.6 44.3L450.0 44.3M450.0 44.3L450.4 44.3M450.4 44.3L450.8 44.3" stroke-width="3.6"/><path d="M450.8 44.3L451.2 44.3M451.2 44.3L451.6 44.3M451.6 44.3L452.0 44.3M452.0 44.3L452.4 44.3M452.4 44.3L452.8 44.4M452.8 44.4L453.2 44.4M453.2 44.4L453.6 44.4" stroke-width="3.4"/></g>
<path d="M416.8 152.3 L416.9 145.2 L417.1 138.2 L417.2 131.1 L417.4 124.1 L417.5 116.7 L417.6 109.3 L417.8 102.3 L417.9 96.1 L418.1 90.3 L418.2 84.9 L418.4 79.8 L418.5 75.3 L418.6 71.6 L418.8 68.3 L418.9 65.3 L419.1 62.6 L419.2 60.1 L419.3 57.9 L419.5 55.9 L419.6 54.2 L419.8 52.6 L419.9 51.2 L420.1 49.8 L420.2 48.7 L420.3 47.6 L420.5 46.8 L420.6 46.1 L420.8 45.4 L420.9 44.8 L421.0 44.3 L421.2 43.8 L421.3 43.4 L421.5 43.0 L421.6 42.6 L421.8 42.2 L421.9 41.9 L422.0 41.5 L422.2 41.1 L422.3 40.8 L422.7 39.9 L423.2 39.0 L423.6 38.3 L424.0 37.8 L424.4 37.4 L424.8 37.0 L425.2 36.7 L425.7 36.4 L426.1 36.1 L426.5 35.9 L426.9 35.7 L427.3 35.5 L427.7 35.4 L428.2 35.4 L428.6 35.3 L429.0 35.3 L429.4 35.2 L429.8 35.2 L430.2 35.2 L430.7 35.2 L431.1 35.1 L431.5 35.1 L431.9 35.2 L432.3 35.4 L432.7 35.7 L433.2 36.2 L433.6 36.6 L434.0 37.1 L434.4 37.6 L434.8 38.1 L435.2 38.6 L435.7 39.2 L436.1 39.8 L436.5 40.4 L436.9 40.9 L437.3 41.3 L437.8 41.7 L438.2 42.0 L438.6 42.4 L439.0 42.7 L439.4 42.9 L439.8 43.2 L440.3 43.4 L440.7 43.5 L441.1 43.6 L441.5 43.6 L441.9 43.7 L442.3 43.8 L442.8 43.8 L443.2 43.9 L443.6 43.9 L444.0 44.0 L444.4 44.0 L444.8 44.1 L445.3 44.1 L445.7 44.1 L446.1 44.2 L446.5 44.2 L446.9 44.2 L447.3 44.2 L447.8 44.2 L448.2 44.3 L448.6 44.3 L449.0 44.3 L449.4 44.3 L449.8 44.3 L450.3 44.3 L450.7 44.3 L451.1 44.3 L451.5 44.3 L451.9 44.3 L452.4 44.3 L452.8 44.4 L453.2 44.4 L453.6 44.4 L454.0 44.4 L454.4 44.5 L454.9 44.6 L455.3 44.7 L455.7 44.9 L456.1 45.0 L456.5 45.1 L456.9 45.3 L457.4 45.5 L457.8 45.6 L458.2 45.8 L458.6 46.0 L459.0 46.3 L459.4 46.5 L459.9 46.8 L460.3 47.0 L460.7 47.3 L461.1 47.6 L461.5 47.9 L461.9 48.2 L462.4 48.4 L462.8 48.7 L463.2 49.0 L463.6 49.3 L464.0 49.7 L464.4 50.0 L464.9 50.4 L465.3 50.7 L465.7 51.1 L466.1 51.4 L466.5 51.7 L467.0 52.0 L467.4 52.3 L467.8 52.6 L468.2 52.8 L468.6 53.1 L469.0 53.4 L469.5 53.6 L469.9 53.8 L470.3 54.1 L470.7 54.3 L471.1 54.5 L471.5 54.6 L472.0 54.8 L475.2 55.6 L478.5 56.3 L481.8 56.7 L485.0 56.9 L488.3 57.0 L491.6 57.3 L494.9 57.5 L498.1 57.9 L501.4 58.2 L504.7 58.5 L507.9 58.7 L511.2 59.0 L514.5 59.3 L517.8 59.5 L521.0 59.7 L524.3 59.9 L527.6 60.1 L530.9 60.3 L534.1 60.5 L537.4 60.6 L540.7 60.8 L543.9 60.9 L547.2 61.1 L550.5 61.3 L553.8 61.4 L557.0 61.6 L560.3 61.8 L563.6 61.9 L566.8 62.1 L570.1 62.2 L573.4 62.3 L576.7 62.5 L579.9 62.6 L583.2 62.7 L586.5 62.8 L589.8 62.9 L593.0 63.0 L596.3 63.1 L599.6 63.2 L602.8 63.3 L606.1 63.3 L609.4 63.4 L612.7 63.4 L615.9 63.5 L619.2 63.5 L622.5 63.6 L625.7 63.6 L629.0 63.6 L632.3 63.7 L635.6 63.7 L638.8 63.8 L642.1 63.8 L645.4 63.9 L648.6 63.9 L651.9 64.0 L655.2 64.1 L658.5 64.1 L661.7 64.2 L665.0 64.2" fill="none" stroke="#ED7D31" stroke-width="2.4" stroke-linejoin="round" stroke-linecap="round"/>
<path d="M418.6 68.8l2.6 4.6h-5.2z" class="fo"/>
<path d="M420.5 44.0l2.6 4.6h-5.2z" class="fo"/>
<path d="M422.3 38.1l2.6 4.6h-5.2z" class="fo"/>
<path d="M424.2 34.9l2.6 4.6h-5.2z" class="fo"/>
<path d="M426.0 33.4l2.6 4.6h-5.2z" class="fo"/>
<path d="M427.8 32.7l2.6 4.6h-5.2z" class="fo"/>
<path d="M429.7 32.5l2.6 4.6h-5.2z" class="fo"/>
<path d="M431.5 32.4l2.6 4.6h-5.2z" class="fo"/>
<path d="M433.3 33.6l2.6 4.6h-5.2z" class="fo"/>
<path d="M435.2 35.8l2.6 4.6h-5.2z" class="fo"/>
<path d="M437.0 38.3l2.6 4.6h-5.2z" class="fo"/>
<path d="M438.9 39.8l2.6 4.6h-5.2z" class="fo"/>
<path d="M440.7 40.7l2.6 4.6h-5.2z" class="fo"/>
<path d="M442.5 41.1l2.6 4.6h-5.2z" class="fo"/>
<path d="M444.4 41.3l2.6 4.6h-5.2z" class="fo"/>
<path d="M446.2 41.4l2.6 4.6h-5.2z" class="fo"/>
<path d="M448.1 41.5l2.6 4.6h-5.2z" class="fo"/>
<path d="M449.9 41.6l2.6 4.6h-5.2z" class="fo"/>
<path d="M451.7 41.6l2.6 4.6h-5.2z" class="fo"/>
<path d="M453.6 40.7l2.6 4.6h-5.2z" class="fo"/>
<path d="M472.0 52.0l2.6 4.6h-5.2z" class="fo"/>
<path d="M545.5 59.1l2.6 4.6h-5.2z" class="fo"/>
<path d="M600.7 60.8l2.6 4.6h-5.2z" class="fo"/>
<path d="M665.0 61.7l2.6 4.6h-5.2z" class="fo"/>
<path d="M418.6 75.6V82.2M416.0 75.6h5.2M416.0 82.2h5.2" class="eg"/>
<path d="M420.5 51.2V58.9M417.9 51.2h5.2M417.9 58.9h5.2" class="eg"/>
<path d="M422.3 46.7V55.4M419.7 46.7h5.2M419.7 55.4h5.2" class="eg"/>
<path d="M424.2 43.6V51.8M421.6 43.6h5.2M421.6 51.8h5.2" class="eg"/>
<path d="M426.0 43.1V50.7M423.4 43.1h5.2M423.4 50.7h5.2" class="eg"/>
<path d="M427.8 44.2V51.8M425.2 44.2h5.2M425.2 51.8h5.2" class="eg"/>
<path d="M429.7 45.5V51.9M427.1 45.5h5.2M427.1 51.9h5.2" class="eg"/>
<path d="M431.5 46.8V52.1M428.9 46.8h5.2M428.9 52.1h5.2" class="eg"/>
<path d="M433.3 47.6V53.5M430.7 47.6h5.2M430.7 53.5h5.2" class="eg"/>
<path d="M435.2 49.5V55.7M432.6 49.5h5.2M432.6 55.7h5.2" class="eg"/>
<path d="M437.0 53.1V59.0M434.4 53.1h5.2M434.4 59.0h5.2" class="eg"/>
<path d="M438.9 55.9V61.2M436.3 55.9h5.2M436.3 61.2h5.2" class="eg"/>
<path d="M440.7 57.4V61.5M438.1 57.4h5.2M438.1 61.5h5.2" class="eg"/>
<path d="M442.5 58.3V62.3M439.9 58.3h5.2M439.9 62.3h5.2" class="eg"/>
<path d="M444.4 59.0V62.9M441.8 59.0h5.2M441.8 62.9h5.2" class="eg"/>
<path d="M446.2 59.8V63.6M443.6 59.8h5.2M443.6 63.6h5.2" class="eg"/>
<path d="M448.1 60.6V64.4M445.5 60.6h5.2M445.5 64.4h5.2" class="eg"/>
<path d="M449.9 61.5V65.2M447.3 61.5h5.2M447.3 65.2h5.2" class="eg"/>
<path d="M451.7 62.4V66.0M449.1 62.4h5.2M449.1 66.0h5.2" class="eg"/>
<path d="M453.6 61.0V69.3M450.2 61.0h6.8M450.2 69.3h6.8" class="eg"/>
<path d="M472.0 81.7V89.0M468.6 81.7h6.8M468.6 89.0h6.8" class="eg"/>
<path d="M545.5 95.4V101.4M542.1 95.4h6.8M542.1 101.4h6.8" class="eg"/>
<path d="M600.7 101.8V106.4M597.3 101.8h6.8M597.3 106.4h6.8" class="eg"/>
<path d="M665.0 103.4V107.3M661.6 103.4h6.8M661.6 107.3h6.8" class="eg"/>
<g stroke="#A5A5A5" stroke-linecap="round" fill="none" opacity="0.85"><path d="M418.6 78.9L418.8 76.0M429.4 48.6L429.8 48.7" stroke-width="5.4"/><path d="M418.8 76.0L418.9 73.3M418.9 73.3L419.0 70.8M419.0 70.8L419.1 68.4M419.1 68.4L419.3 66.3M429.0 48.5L429.4 48.6" stroke-width="5.6"/><path d="M419.3 66.3L419.4 64.4M419.4 64.4L419.5 62.7M419.5 62.7L419.7 61.4M428.6 48.3L429.0 48.5" stroke-width="5.8"/><path d="M419.7 61.4L419.8 60.0M419.8 60.0L419.9 58.8M419.9 58.8L420.0 57.7M428.3 48.2L428.6 48.3" stroke-width="6.0"/><path d="M420.0 57.7L420.2 56.8M420.2 56.8L420.3 55.9M420.3 55.9L420.4 55.3M427.9 48.0L428.3 48.2" stroke-width="6.2"/><path d="M420.4 55.3L420.5 54.8M420.5 54.8L420.7 54.4M420.7 54.4L420.8 54.0M425.1 46.7L425.5 46.7M425.5 46.7L425.9 46.8M425.9 46.8L426.3 47.0M426.3 47.0L426.7 47.3M426.7 47.3L427.1 47.5M427.1 47.5L427.5 47.8M427.5 47.8L427.9 48.0" stroke-width="6.4"/><path d="M420.8 54.0L420.9 53.7M420.9 53.7L421.0 53.3M421.0 53.3L421.2 53.0M424.7 47.0L425.1 46.7" stroke-width="6.6"/><path d="M421.2 53.0L421.3 52.8M421.3 52.8L421.4 52.5M421.4 52.5L421.6 52.3M424.3 47.5L424.7 47.0" stroke-width="6.8"/><path d="M421.6 52.3L421.7 52.1M421.7 52.1L421.8 51.8M421.8 51.8L421.9 51.6M423.9 48.2L424.3 47.5" stroke-width="7.0"/><path d="M421.9 51.6L422.1 51.4M422.1 51.4L422.2 51.3M422.2 51.3L422.3 51.1M423.5 48.9L423.9 48.2" stroke-width="7.2"/><path d="M422.3 51.1L422.7 50.4M422.7 50.4L423.1 49.7M423.1 49.7L423.5 48.9" stroke-width="7.4"/><path d="M429.8 48.7L430.2 48.9M434.2 51.3L434.6 51.7M434.6 51.7L435.0 52.3M435.0 52.3L435.4 52.9M435.4 52.9L435.8 53.6" stroke-width="5.2"/><path d="M430.2 48.9L430.6 49.1M433.4 50.6L433.8 50.9M433.8 50.9L434.2 51.3M435.8 53.6L436.2 54.2M436.2 54.2L436.6 55.0M436.6 55.0L437.0 55.9M437.0 55.9L437.4 56.8" stroke-width="5.0"/><path d="M430.6 49.1L431.0 49.2M433.0 50.3L433.4 50.6M437.4 56.8L437.7 57.5M437.7 57.5L438.1 58.0M438.1 58.0L438.5 58.3" stroke-width="4.8"/><path d="M431.0 49.2L431.4 49.4M432.2 49.8L432.6 50.1M432.6 50.1L433.0 50.3M438.5 58.3L438.9 58.6" stroke-width="4.6"/><path d="M431.4 49.4L431.8 49.6M431.8 49.6L432.2 49.8M438.9 58.6L439.3 58.8" stroke-width="4.4"/><path d="M439.3 58.8L439.7 59.0" stroke-width="4.2"/><path d="M439.7 59.0L440.1 59.2" stroke-width="4.0"/><path d="M440.1 59.2L440.5 59.4" stroke-width="3.6"/><path d="M440.5 59.4L440.9 59.6M440.9 59.6L441.3 59.7M441.3 59.7L441.7 59.9M441.7 59.9L442.1 60.1M442.1 60.1L442.5 60.2M442.5 60.2L442.9 60.4M442.9 60.4L443.3 60.6" stroke-width="3.4"/><path d="M443.3 60.6L443.7 60.7M443.7 60.7L444.1 60.9M444.1 60.9L444.5 61.0M444.5 61.0L444.9 61.2M444.9 61.2L445.3 61.3M445.3 61.3L445.7 61.5M445.7 61.5L446.1 61.6M446.1 61.6L446.4 61.8M446.4 61.8L446.8 62.0M446.8 62.0L447.2 62.2M447.2 62.2L447.6 62.3M447.6 62.3L448.0 62.5M448.0 62.5L448.4 62.7M448.4 62.7L448.8 62.8M448.8 62.8L449.2 63.0M449.2 63.0L449.6 63.2M449.6 63.2L450.0 63.4M450.0 63.4L450.4 63.6" stroke-width="3.2"/><path d="M450.4 63.6L450.8 63.7M450.8 63.7L451.2 63.9M451.2 63.9L451.6 64.1M451.6 64.1L452.0 64.4M452.0 64.4L452.4 64.6M452.4 64.6L452.8 64.8M452.8 64.8L453.2 65.1M453.2 65.1L453.6 65.3" stroke-width="3.0"/></g>
<path d="M416.8 152.3 L416.9 145.6 L417.1 139.0 L417.2 132.5 L417.4 126.0 L417.5 119.3 L417.6 112.6 L417.8 106.3 L417.9 100.8 L418.1 95.7 L418.2 90.9 L418.4 86.4 L418.5 82.4 L418.6 78.9 L418.8 75.7 L418.9 72.7 L419.1 69.9 L419.2 67.4 L419.3 65.1 L419.5 63.2 L419.6 61.6 L419.8 60.1 L419.9 58.8 L420.1 57.6 L420.2 56.5 L420.3 55.7 L420.5 55.0 L420.6 54.6 L420.8 54.1 L420.9 53.7 L421.0 53.4 L421.2 53.0 L421.3 52.7 L421.5 52.4 L421.6 52.2 L421.8 51.9 L421.9 51.7 L422.0 51.5 L422.2 51.3 L422.3 51.1 L422.7 50.4 L423.2 49.6 L423.6 48.8 L424.0 48.0 L424.4 47.3 L424.8 46.9 L425.2 46.7 L425.7 46.8 L426.1 46.9 L426.5 47.2 L426.9 47.4 L427.3 47.7 L427.7 47.9 L428.2 48.1 L428.6 48.3 L429.0 48.4 L429.4 48.6 L429.8 48.7 L430.2 48.9 L430.7 49.1 L431.1 49.2 L431.5 49.4 L431.9 49.7 L432.3 49.9 L432.7 50.2 L433.2 50.4 L433.6 50.8 L434.0 51.1 L434.4 51.5 L434.8 52.1 L435.2 52.7 L435.7 53.4 L436.1 54.1 L436.5 54.9 L436.9 55.8 L437.3 56.7 L437.8 57.5 L438.2 58.0 L438.6 58.3 L439.0 58.6 L439.4 58.8 L439.8 59.0 L440.3 59.2 L440.7 59.4 L441.1 59.6 L441.5 59.8 L441.9 60.0 L442.3 60.2 L442.8 60.4 L443.2 60.5 L443.6 60.7 L444.0 60.8 L444.4 61.0 L444.8 61.2 L445.3 61.3 L445.7 61.5 L446.1 61.7 L446.5 61.8 L446.9 62.0 L447.3 62.2 L447.8 62.4 L448.2 62.6 L448.6 62.8 L449.0 62.9 L449.4 63.1 L449.8 63.3 L450.3 63.5 L450.7 63.7 L451.1 63.9 L451.5 64.1 L451.9 64.3 L452.4 64.6 L452.8 64.8 L453.2 65.1 L453.6 65.3 L454.0 65.6 L454.4 66.0 L454.9 66.3 L455.3 66.7 L455.7 67.2 L456.1 67.6 L456.5 68.1 L456.9 68.5 L457.4 69.0 L457.8 69.6 L458.2 70.2 L458.6 70.8 L459.0 71.5 L459.4 72.3 L459.9 73.0 L460.3 73.7 L460.7 74.5 L461.1 75.2 L461.5 75.9 L461.9 76.5 L462.4 77.1 L462.8 77.6 L463.2 78.1 L463.6 78.6 L464.0 79.0 L464.4 79.4 L464.9 79.8 L465.3 80.2 L465.7 80.6 L466.1 81.0 L466.5 81.3 L467.0 81.7 L467.4 82.0 L467.8 82.4 L468.2 82.7 L468.6 83.1 L469.0 83.5 L469.5 83.8 L469.9 84.2 L470.3 84.5 L470.7 84.8 L471.1 85.1 L471.5 85.3 L472.0 85.5 L475.2 86.7 L478.5 87.6 L481.8 88.3 L485.0 89.0 L488.3 89.6 L491.6 90.1 L494.9 90.6 L498.1 91.1 L501.4 91.5 L504.7 91.7 L507.9 92.0 L511.2 92.4 L514.5 93.0 L517.8 93.6 L521.0 94.3 L524.3 94.9 L527.6 95.5 L530.9 96.0 L534.1 96.5 L537.4 96.9 L540.7 97.4 L543.9 97.8 L547.2 98.2 L550.5 98.6 L553.8 98.9 L557.0 99.3 L560.3 99.6 L563.6 100.0 L566.8 100.3 L570.1 100.7 L573.4 101.0 L576.7 101.3 L579.9 101.7 L583.2 102.0 L586.5 102.3 L589.8 102.6 L593.0 102.9 L596.3 103.1 L599.6 103.3 L602.8 103.5 L606.1 103.7 L609.4 103.8 L612.7 103.9 L615.9 104.1 L619.2 104.2 L622.5 104.3 L625.7 104.4 L629.0 104.5 L632.3 104.6 L635.6 104.7 L638.8 104.8 L642.1 104.9 L645.4 105.0 L648.6 105.2 L651.9 105.3 L655.2 105.4 L658.5 105.5 L661.7 105.6 L665.0 105.7" fill="none" stroke="#A5A5A5" stroke-width="2.4" stroke-linejoin="round" stroke-linecap="round"/>
<rect x="416.4" y="76.7" width="4.4" height="4.4" class="fg"/>
<rect x="418.3" y="52.8" width="4.4" height="4.4" class="fg"/>
<rect x="420.1" y="48.8" width="4.4" height="4.4" class="fg"/>
<rect x="421.9" y="45.5" width="4.4" height="4.4" class="fg"/>
<rect x="423.8" y="44.7" width="4.4" height="4.4" class="fg"/>
<rect x="425.6" y="45.8" width="4.4" height="4.4" class="fg"/>
<rect x="427.5" y="46.5" width="4.4" height="4.4" class="fg"/>
<rect x="429.3" y="47.2" width="4.4" height="4.4" class="fg"/>
<rect x="431.1" y="48.4" width="4.4" height="4.4" class="fg"/>
<rect x="433.0" y="50.4" width="4.4" height="4.4" class="fg"/>
<rect x="434.8" y="53.8" width="4.4" height="4.4" class="fg"/>
<rect x="436.6" y="56.3" width="4.4" height="4.4" class="fg"/>
<rect x="438.5" y="57.2" width="4.4" height="4.4" class="fg"/>
<rect x="440.3" y="58.1" width="4.4" height="4.4" class="fg"/>
<rect x="442.2" y="58.8" width="4.4" height="4.4" class="fg"/>
<rect x="444.0" y="59.5" width="4.4" height="4.4" class="fg"/>
<rect x="445.8" y="60.3" width="4.4" height="4.4" class="fg"/>
<rect x="447.7" y="61.1" width="4.4" height="4.4" class="fg"/>
<rect x="449.5" y="62.0" width="4.4" height="4.4" class="fg"/>
<rect x="451.4" y="62.8" width="4.4" height="4.4" class="fg"/>
<rect x="469.7" y="83.3" width="4.4" height="4.4" class="fg"/>
<rect x="543.3" y="96.1" width="4.4" height="4.4" class="fg"/>
<rect x="598.4" y="101.9" width="4.4" height="4.4" class="fg"/>
<rect x="662.8" y="103.5" width="4.4" height="4.4" class="fg"/>
<circle cx="419.8" cy="68.6" r="1.7" class="hb"/>
<circle cx="419.9" cy="55.3" r="1.7" class="hb"/>
<circle cx="420.4" cy="44.7" r="1.7" class="hb"/>
<circle cx="421.2" cy="39.9" r="1.7" class="hb"/>
<circle cx="421.6" cy="37.3" r="1.7" class="hb"/>
<circle cx="422.3" cy="35.9" r="1.7" class="hb"/>
<circle cx="422.7" cy="34.7" r="1.7" class="hb"/>
<circle cx="423.2" cy="34.8" r="1.7" class="hb"/>
<circle cx="423.7" cy="33.3" r="1.7" class="hb"/>
<circle cx="424.4" cy="33.8" r="1.7" class="hb"/>
<circle cx="425.4" cy="32.1" r="1.7" class="hb"/>
<circle cx="426.1" cy="30.9" r="1.7" class="hb"/>
<circle cx="427.4" cy="30.9" r="1.7" class="hb"/>
<circle cx="428.3" cy="30.2" r="1.7" class="hb"/>
<circle cx="429.5" cy="30.0" r="1.7" class="hb"/>
<circle cx="430.9" cy="30.3" r="1.7" class="hb"/>
<circle cx="432.0" cy="29.7" r="1.7" class="hb"/>
<circle cx="433.0" cy="29.5" r="1.7" class="hb"/>
<circle cx="434.0" cy="29.7" r="1.7" class="hb"/>
<circle cx="435.0" cy="30.5" r="1.7" class="hb"/>
<circle cx="436.0" cy="31.3" r="1.7" class="hb"/>
<circle cx="437.3" cy="31.4" r="1.7" class="hb"/>
<circle cx="438.6" cy="33.6" r="1.7" class="hb"/>
<circle cx="439.4" cy="34.4" r="1.7" class="hb"/>
<circle cx="440.7" cy="35.6" r="1.7" class="hb"/>
<circle cx="442.0" cy="36.9" r="1.7" class="hb"/>
<circle cx="443.1" cy="37.7" r="1.7" class="hb"/>
<circle cx="444.2" cy="38.7" r="1.7" class="hb"/>
<circle cx="445.1" cy="39.0" r="1.7" class="hb"/>
<circle cx="446.3" cy="39.4" r="1.7" class="hb"/>
<circle cx="447.3" cy="39.6" r="1.7" class="hb"/>
<circle cx="448.4" cy="39.9" r="1.7" class="hb"/>
<circle cx="449.2" cy="40.1" r="1.7" class="hb"/>
<circle cx="450.6" cy="40.6" r="1.7" class="hb"/>
<circle cx="451.5" cy="41.0" r="1.7" class="hb"/>
<circle cx="462.8" cy="51.4" r="1.7" class="hb"/>
<circle cx="490.3" cy="72.4" r="1.7" class="hb"/>
<circle cx="508.7" cy="69.7" r="1.7" class="hb"/>
<circle cx="527.1" cy="74.2" r="1.7" class="hb"/>
<circle cx="563.9" cy="82.6" r="1.7" class="hb"/>
<circle cx="582.3" cy="84.1" r="1.7" class="hb"/>
<circle cx="619.0" cy="86.7" r="1.7" class="hb"/>
<circle cx="637.4" cy="89.0" r="1.7" class="hb"/>
<circle cx="655.8" cy="87.6" r="1.7" class="hb"/>
<path d="M419.2 59.7l2.1 3.6h-4.2z" class="ho"/>
<path d="M419.0 50.6l2.1 3.6h-4.2z" class="ho"/>
<path d="M419.6 49.6l2.1 3.6h-4.2z" class="ho"/>
<path d="M420.0 45.0l2.1 3.6h-4.2z" class="ho"/>
<path d="M420.1 47.8l2.1 3.6h-4.2z" class="ho"/>
<path d="M420.7 46.8l2.1 3.6h-4.2z" class="ho"/>
<path d="M421.0 44.3l2.1 3.6h-4.2z" class="ho"/>
<path d="M421.1 45.2l2.1 3.6h-4.2z" class="ho"/>
<path d="M421.6 38.5l2.1 3.6h-4.2z" class="ho"/>
<path d="M421.8 39.8l2.1 3.6h-4.2z" class="ho"/>
<path d="M421.9 37.4l2.1 3.6h-4.2z" class="ho"/>
<path d="M422.7 38.3l2.1 3.6h-4.2z" class="ho"/>
<path d="M422.7 40.6l2.1 3.6h-4.2z" class="ho"/>
<path d="M423.3 40.9l2.1 3.6h-4.2z" class="ho"/>
<path d="M423.1 35.1l2.1 3.6h-4.2z" class="ho"/>
<path d="M423.9 38.7l2.1 3.6h-4.2z" class="ho"/>
<path d="M424.2 36.8l2.1 3.6h-4.2z" class="ho"/>
<path d="M424.2 35.3l2.1 3.6h-4.2z" class="ho"/>
<path d="M424.6 31.9l2.1 3.6h-4.2z" class="ho"/>
<path d="M425.0 37.5l2.1 3.6h-4.2z" class="ho"/>
<path d="M425.5 31.7l2.1 3.6h-4.2z" class="ho"/>
<path d="M426.4 33.7l2.1 3.6h-4.2z" class="ho"/>
<path d="M427.1 33.7l2.1 3.6h-4.2z" class="ho"/>
<path d="M427.5 34.4l2.1 3.6h-4.2z" class="ho"/>
<path d="M428.0 33.8l2.1 3.6h-4.2z" class="ho"/>
<path d="M428.3 30.8l2.1 3.6h-4.2z" class="ho"/>
<path d="M428.9 33.9l2.1 3.6h-4.2z" class="ho"/>
<path d="M429.8 32.6l2.1 3.6h-4.2z" class="ho"/>
<path d="M430.1 33.6l2.1 3.6h-4.2z" class="ho"/>
<path d="M430.6 31.8l2.1 3.6h-4.2z" class="ho"/>
<path d="M431.5 33.8l2.1 3.6h-4.2z" class="ho"/>
<path d="M431.7 31.2l2.1 3.6h-4.2z" class="ho"/>
<path d="M432.5 31.5l2.1 3.6h-4.2z" class="ho"/>
<path d="M433.2 32.7l2.1 3.6h-4.2z" class="ho"/>
<path d="M433.6 33.2l2.1 3.6h-4.2z" class="ho"/>
<path d="M434.3 35.8l2.1 3.6h-4.2z" class="ho"/>
<path d="M434.9 36.9l2.1 3.6h-4.2z" class="ho"/>
<path d="M434.9 36.8l2.1 3.6h-4.2z" class="ho"/>
<path d="M435.9 36.4l2.1 3.6h-4.2z" class="ho"/>
<path d="M436.4 37.3l2.1 3.6h-4.2z" class="ho"/>
<path d="M436.9 37.1l2.1 3.6h-4.2z" class="ho"/>
<path d="M437.7 38.8l2.1 3.6h-4.2z" class="ho"/>
<path d="M437.9 38.3l2.1 3.6h-4.2z" class="ho"/>
<path d="M438.4 40.9l2.1 3.6h-4.2z" class="ho"/>
<path d="M438.9 40.5l2.1 3.6h-4.2z" class="ho"/>
<path d="M439.5 40.1l2.1 3.6h-4.2z" class="ho"/>
<path d="M440.3 41.8l2.1 3.6h-4.2z" class="ho"/>
<path d="M440.8 41.1l2.1 3.6h-4.2z" class="ho"/>
<path d="M441.4 41.8l2.1 3.6h-4.2z" class="ho"/>
<path d="M441.6 41.1l2.1 3.6h-4.2z" class="ho"/>
<path d="M442.2 42.1l2.1 3.6h-4.2z" class="ho"/>
<path d="M443.0 42.0l2.1 3.6h-4.2z" class="ho"/>
<path d="M443.2 42.2l2.1 3.6h-4.2z" class="ho"/>
<path d="M444.2 42.3l2.1 3.6h-4.2z" class="ho"/>
<path d="M444.7 41.7l2.1 3.6h-4.2z" class="ho"/>
<path d="M445.3 41.5l2.1 3.6h-4.2z" class="ho"/>
<path d="M445.8 41.9l2.1 3.6h-4.2z" class="ho"/>
<path d="M445.9 42.3l2.1 3.6h-4.2z" class="ho"/>
<path d="M446.5 42.4l2.1 3.6h-4.2z" class="ho"/>
<path d="M447.3 41.8l2.1 3.6h-4.2z" class="ho"/>
<path d="M448.0 41.9l2.1 3.6h-4.2z" class="ho"/>
<path d="M448.5 41.9l2.1 3.6h-4.2z" class="ho"/>
<path d="M449.3 42.3l2.1 3.6h-4.2z" class="ho"/>
<path d="M449.4 42.1l2.1 3.6h-4.2z" class="ho"/>
<path d="M450.2 42.2l2.1 3.6h-4.2z" class="ho"/>
<path d="M450.7 42.5l2.1 3.6h-4.2z" class="ho"/>
<path d="M451.1 42.1l2.1 3.6h-4.2z" class="ho"/>
<path d="M451.8 42.3l2.1 3.6h-4.2z" class="ho"/>
<path d="M452.2 41.9l2.1 3.6h-4.2z" class="ho"/>
<path d="M462.8 42.4l2.1 3.6h-4.2z" class="ho"/>
<path d="M490.3 51.9l2.1 3.6h-4.2z" class="ho"/>
<path d="M508.7 57.0l2.1 3.6h-4.2z" class="ho"/>
<path d="M527.1 54.9l2.1 3.6h-4.2z" class="ho"/>
<path d="M563.9 60.2l2.1 3.6h-4.2z" class="ho"/>
<path d="M582.3 58.6l2.1 3.6h-4.2z" class="ho"/>
<path d="M619.0 62.2l2.1 3.6h-4.2z" class="ho"/>
<path d="M637.4 62.1l2.1 3.6h-4.2z" class="ho"/>
<path d="M655.8 61.6l2.1 3.6h-4.2z" class="ho"/>
<rect x="416.9" y="64.7" width="3.2" height="3.2" class="hg"/>
<rect x="417.4" y="62.7" width="3.2" height="3.2" class="hg"/>
<rect x="418.4" y="59.2" width="3.2" height="3.2" class="hg"/>
<rect x="418.4" y="54.1" width="3.2" height="3.2" class="hg"/>
<rect x="419.0" y="54.1" width="3.2" height="3.2" class="hg"/>
<rect x="419.1" y="54.6" width="3.2" height="3.2" class="hg"/>
<rect x="419.6" y="52.2" width="3.2" height="3.2" class="hg"/>
<rect x="419.9" y="49.2" width="3.2" height="3.2" class="hg"/>
<rect x="419.8" y="52.8" width="3.2" height="3.2" class="hg"/>
<rect x="420.4" y="50.9" width="3.2" height="3.2" class="hg"/>
<rect x="420.3" y="50.6" width="3.2" height="3.2" class="hg"/>
<rect x="420.7" y="46.4" width="3.2" height="3.2" class="hg"/>
<rect x="421.1" y="46.1" width="3.2" height="3.2" class="hg"/>
<rect x="421.5" y="49.7" width="3.2" height="3.2" class="hg"/>
<rect x="421.7" y="50.1" width="3.2" height="3.2" class="hg"/>
<rect x="421.8" y="46.7" width="3.2" height="3.2" class="hg"/>
<rect x="422.4" y="49.1" width="3.2" height="3.2" class="hg"/>
<rect x="422.8" y="48.8" width="3.2" height="3.2" class="hg"/>
<rect x="423.2" y="43.1" width="3.2" height="3.2" class="hg"/>
<rect x="423.8" y="45.0" width="3.2" height="3.2" class="hg"/>
<rect x="424.3" y="42.9" width="3.2" height="3.2" class="hg"/>
<rect x="424.7" y="46.0" width="3.2" height="3.2" class="hg"/>
<rect x="425.4" y="43.9" width="3.2" height="3.2" class="hg"/>
<rect x="425.8" y="43.9" width="3.2" height="3.2" class="hg"/>
<rect x="426.3" y="44.1" width="3.2" height="3.2" class="hg"/>
<rect x="427.0" y="45.5" width="3.2" height="3.2" class="hg"/>
<rect x="427.6" y="47.6" width="3.2" height="3.2" class="hg"/>
<rect x="428.2" y="46.7" width="3.2" height="3.2" class="hg"/>
<rect x="428.6" y="47.8" width="3.2" height="3.2" class="hg"/>
<rect x="429.4" y="48.3" width="3.2" height="3.2" class="hg"/>
<rect x="430.0" y="47.7" width="3.2" height="3.2" class="hg"/>
<rect x="430.2" y="48.3" width="3.2" height="3.2" class="hg"/>
<rect x="430.9" y="48.3" width="3.2" height="3.2" class="hg"/>
<rect x="431.6" y="48.1" width="3.2" height="3.2" class="hg"/>
<rect x="432.0" y="48.7" width="3.2" height="3.2" class="hg"/>
<rect x="432.7" y="50.8" width="3.2" height="3.2" class="hg"/>
<rect x="433.1" y="50.8" width="3.2" height="3.2" class="hg"/>
<rect x="433.6" y="51.9" width="3.2" height="3.2" class="hg"/>
<rect x="434.4" y="51.7" width="3.2" height="3.2" class="hg"/>
<rect x="434.5" y="51.7" width="3.2" height="3.2" class="hg"/>
<rect x="435.1" y="53.4" width="3.2" height="3.2" class="hg"/>
<rect x="435.8" y="56.7" width="3.2" height="3.2" class="hg"/>
<rect x="436.4" y="57.3" width="3.2" height="3.2" class="hg"/>
<rect x="437.1" y="55.9" width="3.2" height="3.2" class="hg"/>
<rect x="437.2" y="57.9" width="3.2" height="3.2" class="hg"/>
<rect x="438.0" y="57.8" width="3.2" height="3.2" class="hg"/>
<rect x="438.4" y="57.1" width="3.2" height="3.2" class="hg"/>
<rect x="438.9" y="58.1" width="3.2" height="3.2" class="hg"/>
<rect x="439.7" y="58.2" width="3.2" height="3.2" class="hg"/>
<rect x="440.0" y="58.4" width="3.2" height="3.2" class="hg"/>
<rect x="440.8" y="58.9" width="3.2" height="3.2" class="hg"/>
<rect x="441.4" y="59.0" width="3.2" height="3.2" class="hg"/>
<rect x="442.0" y="58.8" width="3.2" height="3.2" class="hg"/>
<rect x="442.6" y="59.1" width="3.2" height="3.2" class="hg"/>
<rect x="442.8" y="59.4" width="3.2" height="3.2" class="hg"/>
<rect x="443.4" y="59.6" width="3.2" height="3.2" class="hg"/>
<rect x="443.9" y="60.3" width="3.2" height="3.2" class="hg"/>
<rect x="444.3" y="60.4" width="3.2" height="3.2" class="hg"/>
<rect x="445.0" y="60.0" width="3.2" height="3.2" class="hg"/>
<rect x="445.8" y="60.8" width="3.2" height="3.2" class="hg"/>
<rect x="446.2" y="60.8" width="3.2" height="3.2" class="hg"/>
<rect x="446.6" y="61.3" width="3.2" height="3.2" class="hg"/>
<rect x="447.3" y="61.5" width="3.2" height="3.2" class="hg"/>
<rect x="448.1" y="61.7" width="3.2" height="3.2" class="hg"/>
<rect x="448.3" y="61.7" width="3.2" height="3.2" class="hg"/>
<rect x="448.9" y="61.9" width="3.2" height="3.2" class="hg"/>
<rect x="449.5" y="62.0" width="3.2" height="3.2" class="hg"/>
<rect x="450.1" y="62.7" width="3.2" height="3.2" class="hg"/>
<rect x="450.9" y="63.2" width="3.2" height="3.2" class="hg"/>
<rect x="461.1" y="69.0" width="3.2" height="3.2" class="hg"/>
<rect x="488.7" y="83.0" width="3.2" height="3.2" class="hg"/>
<rect x="507.1" y="90.2" width="3.2" height="3.2" class="hg"/>
<rect x="525.5" y="94.4" width="3.2" height="3.2" class="hg"/>
<rect x="562.3" y="101.1" width="3.2" height="3.2" class="hg"/>
<rect x="580.7" y="101.8" width="3.2" height="3.2" class="hg"/>
<rect x="617.4" y="102.5" width="3.2" height="3.2" class="hg"/>
<rect x="635.8" y="104.1" width="3.2" height="3.2" class="hg"/>
<rect x="654.2" y="105.7" width="3.2" height="3.2" class="hg"/>
<circle cx="417.3" cy="139.7" r="1.7" class="hb"/>
<rect x="416.5" y="94.2" width="3.2" height="3.2" class="hg"/>
<rect x="415.7" y="100.4" width="3.2" height="3.2" class="hg"/>
<circle cx="418.6" cy="84.2" r="1.7" class="hb"/>
<rect x="418.0" y="86.1" width="3.2" height="3.2" class="hg"/>
<rect x="418.6" y="77.5" width="3.2" height="3.2" class="hg"/>
<rect x="416.9" y="138.6" width="3.2" height="3.2" class="hg"/>
<circle cx="419.3" cy="88.8" r="1.7" class="hb"/>
<rect x="416.1" y="122.3" width="3.2" height="3.2" class="hg"/>
<circle cx="417.6" cy="84.6" r="1.7" class="hb"/>
<circle cx="419.4" cy="126.8" r="1.7" class="hb"/>
<rect x="418.9" y="79.1" width="3.2" height="3.2" class="hg"/>
<rect x="416.5" y="120.8" width="3.2" height="3.2" class="hg"/>
<rect x="416.6" y="93.3" width="3.2" height="3.2" class="hg"/>
<rect x="416.1" y="97.1" width="3.2" height="3.2" class="hg"/>
<circle cx="417.4" cy="151.5" r="1.7" class="hb"/>
<rect x="416.9" y="78.6" width="3.2" height="3.2" class="hg"/>
<rect x="417.2" y="141.0" width="3.2" height="3.2" class="hg"/>
<rect x="415.7" y="112.0" width="3.2" height="3.2" class="hg"/>
<path d="M418.1 121.9l2.1 3.6h-4.2z" class="ho"/>
<path d="M417.4 78.5l2.1 3.6h-4.2z" class="ho"/>
<path d="M420.9 61.2l2.1 3.6h-4.2z" class="ho"/>
<rect x="415.7" y="149.8" width="3.2" height="3.2" class="hg"/>
<circle cx="417.3" cy="120.7" r="1.7" class="hb"/>
<circle cx="417.3" cy="115.1" r="1.7" class="hb"/>
<rect x="416.0" y="137.3" width="3.2" height="3.2" class="hg"/>
<rect x="416.9" y="80.5" width="3.2" height="3.2" class="hg"/>
<rect x="415.7" y="102.8" width="3.2" height="3.2" class="hg"/>
<path d="M418.4 76.0l2.1 3.6h-4.2z" class="ho"/>
<circle cx="419.9" cy="98.9" r="1.7" class="hb"/>
<rect x="415.7" y="113.4" width="3.2" height="3.2" class="hg"/>
<rect x="416.8" y="145.0" width="3.2" height="3.2" class="hg"/>
<rect x="417.0" y="85.0" width="3.2" height="3.2" class="hg"/>
<circle cx="419.5" cy="95.1" r="1.7" class="hb"/>
<path d="M420.0 86.9l2.1 3.6h-4.2z" class="ho"/>
<path d="M417.3 139.6l2.1 3.6h-4.2z" class="ho"/>
<path d="M418.9 104.2l2.1 3.6h-4.2z" class="ho"/>
<path d="M418.0 69.3l2.1 3.6h-4.2z" class="ho"/>
<rect x="416.5" y="131.7" width="3.2" height="3.2" class="hg"/>
<path d="M420.4 71.1l2.1 3.6h-4.2z" class="ho"/>
<path d="M417.6 82.0l2.1 3.6h-4.2z" class="ho"/>
<circle cx="417.3" cy="109.8" r="1.7" class="hb"/>
<rect x="418.4" y="92.9" width="3.2" height="3.2" class="hg"/>
<rect x="416.8" y="82.0" width="3.2" height="3.2" class="hg"/>
<path d="M417.7 100.7l2.1 3.6h-4.2z" class="ho"/>
<rect x="415.8" y="107.7" width="3.2" height="3.2" class="hg"/>
<rect x="418.1" y="89.5" width="3.2" height="3.2" class="hg"/>
<path d="M418.2 116.9l2.1 3.6h-4.2z" class="ho"/>
<path d="M417.3 143.5l2.1 3.6h-4.2z" class="ho"/>
<rect x="415.7" y="117.8" width="3.2" height="3.2" class="hg"/>
<rect x="415.9" y="85.4" width="3.2" height="3.2" class="hg"/>
<circle cx="417.3" cy="134.3" r="1.7" class="hb"/>
<rect x="415.8" y="133.0" width="3.2" height="3.2" class="hg"/>
<rect x="416.5" y="125.2" width="3.2" height="3.2" class="hg"/>
<circle cx="418.4" cy="145.6" r="1.7" class="hb"/>
<rect x="418.2" y="102.9" width="3.2" height="3.2" class="hg"/>
<rect x="416.6" y="128.8" width="3.2" height="3.2" class="hg"/>
<path d="M418.1 88.6l2.1 3.6h-4.2z" class="ho"/>
<path d="M418.5 134.3l2.1 3.6h-4.2z" class="ho"/>
<rect x="417.7" y="109.4" width="3.2" height="3.2" class="hg"/>
<rect x="415.8" y="127.0" width="3.2" height="3.2" class="hg"/>
<path d="M417.3 150.2l2.1 3.6h-4.2z" class="ho"/>
<rect x="416.2" y="147.3" width="3.2" height="3.2" class="hg"/>
<path d="M417.3 96.6l2.1 3.6h-4.2z" class="ho"/>
<rect x="416.4" y="126.5" width="3.2" height="3.2" class="hg"/>
<rect x="416.4" y="105.5" width="3.2" height="3.2" class="hg"/>
<rect x="417.5" y="135.2" width="3.2" height="3.2" class="hg"/>
<rect x="415.7" y="148.6" width="3.2" height="3.2" class="hg"/>
<rect x="418.2" y="90.3" width="3.2" height="3.2" class="hg"/>
<rect x="416.0" y="88.3" width="3.2" height="3.2" class="hg"/>
<rect x="416.4" y="100.2" width="3.2" height="3.2" class="hg"/>
<rect x="419.3" y="70.4" width="3.2" height="3.2" class="hg"/>
<rect x="417.3" y="78.3" width="3.2" height="3.2" class="hg"/>
<circle cx="419.9" cy="102.8" r="1.7" class="hb"/>
<rect x="416.2" y="91.1" width="3.2" height="3.2" class="hg"/>
<rect x="416.6" y="104.0" width="3.2" height="3.2" class="hg"/>
<rect x="416.1" y="142.6" width="3.2" height="3.2" class="hg"/>
<rect x="417.5" y="97.7" width="3.2" height="3.2" class="hg"/>
<rect x="416.9" y="118.3" width="3.2" height="3.2" class="hg"/>
<rect x="419.0" y="76.1" width="3.2" height="3.2" class="hg"/>
<rect x="415.8" y="121.9" width="3.2" height="3.2" class="hg"/>
<rect x="415.7" y="142.7" width="3.2" height="3.2" class="hg"/>
<path d="M417.4 109.6l2.1 3.6h-4.2z" class="ho"/>
<rect x="415.7" y="112.7" width="3.2" height="3.2" class="hg"/>
<path d="M417.3 126.6l2.1 3.6h-4.2z" class="ho"/>
<path d="M416.8 152.3 L416.8 150.5 L416.9 148.7 L416.9 147.0 L417.0 145.2 L417.0 143.4 L417.0 141.6 L417.1 139.9 L417.1 138.1 L417.1 136.4 L417.2 134.6 L417.2 132.9 L417.3 131.2 L417.3 129.4 L417.3 127.7 L417.4 126.0 L417.4 124.2 L417.4 122.4 L417.5 120.7 L417.5 118.9 L417.6 117.1 L417.6 115.3 L417.6 113.5 L417.7 111.8 L417.7 110.1 L417.7 108.4 L417.8 106.7 L417.8 105.2 L417.9 103.6 L417.9 102.2 L417.9 100.8 L418.0 99.4 L418.0 98.0 L418.0 96.7 L418.1 95.4 L418.1 94.1 L418.2 92.8 L418.2 91.5 L418.2 90.3 L418.3 89.1" fill="none" stroke="#A5A5A5" stroke-width="2.4" stroke-linejoin="round" stroke-linecap="round"/>
</g>
<rect x="416.80" y="5.50" width="257.40" height="146.80" fill="none" stroke="#595959" stroke-width="1.1"/>
<path d="M412.80 152.30H416.80" stroke="#595959" stroke-width="1.1"/>
<path d="M412.80 133.95H416.80" stroke="#595959" stroke-width="1.1"/>
<path d="M412.80 115.60H416.80" stroke="#595959" stroke-width="1.1"/>
<path d="M412.80 97.25H416.80" stroke="#595959" stroke-width="1.1"/>
<path d="M412.80 78.90H416.80" stroke="#595959" stroke-width="1.1"/>
<path d="M412.80 60.55H416.80" stroke="#595959" stroke-width="1.1"/>
<path d="M412.80 42.20H416.80" stroke="#595959" stroke-width="1.1"/>
<path d="M412.80 23.85H416.80" stroke="#595959" stroke-width="1.1"/>
<path d="M412.80 5.50H416.80" stroke="#595959" stroke-width="1.1"/>
<path d="M416.80 152.30V156.30" stroke="#595959" stroke-width="1.1"/>
<path d="M453.57 152.30V156.30" stroke="#595959" stroke-width="1.1"/>
<path d="M490.34 152.30V156.30" stroke="#595959" stroke-width="1.1"/>
<path d="M527.11 152.30V156.30" stroke="#595959" stroke-width="1.1"/>
<path d="M563.89 152.30V156.30" stroke="#595959" stroke-width="1.1"/>
<path d="M600.66 152.30V156.30" stroke="#595959" stroke-width="1.1"/>
<path d="M637.43 152.30V156.30" stroke="#595959" stroke-width="1.1"/>
<path d="M674.20 152.30V156.30" stroke="#595959" stroke-width="1.1"/>
<text x="405.20" y="156.70" text-anchor="end" class="t">0</text>
<text x="405.20" y="138.35" text-anchor="end" class="t">2,000</text>
<text x="405.20" y="120.00" text-anchor="end" class="t">4,000</text>
<text x="405.20" y="101.65" text-anchor="end" class="t">6,000</text>
<text x="405.20" y="83.30" text-anchor="end" class="t">8,000</text>
<text x="405.20" y="64.95" text-anchor="end" class="t">10,000</text>
<text x="405.20" y="46.60" text-anchor="end" class="t">12,000</text>
<text x="405.20" y="28.25" text-anchor="end" class="t">14,000</text>
<text x="405.20" y="9.90" text-anchor="end" class="t">16,000</text>
<text x="416.80" y="172.40" text-anchor="middle" class="t">0</text>
<text x="453.57" y="172.40" text-anchor="middle" class="t">20</text>
<text x="490.34" y="172.40" text-anchor="middle" class="t">40</text>
<text x="527.11" y="172.40" text-anchor="middle" class="t">60</text>
<text x="563.89" y="172.40" text-anchor="middle" class="t">80</text>
<text x="600.66" y="172.40" text-anchor="middle" class="t">100</text>
<text x="637.43" y="172.40" text-anchor="middle" class="t">120</text>
<text x="674.20" y="172.40" text-anchor="middle" class="t">140</text>
<text x="455.10" y="188.00" class="b">anaerobic storage period [d]</text>
<text transform="translate(359.00 157.00) rotate(-90)" x="0" y="0" class="b">CO<tspan dy="2.6" class="s">2</tspan><tspan dy="-2.6"> quantity [mg kg</tspan><tspan dy="2.6" class="s">DM</tspan><tspan dy="-8" class="s">-1</tspan><tspan dy="5.4">]</tspan></text>
<g>
<path d="M61.4 316.0V321.4M58.8 316.0h5.2M58.8 321.4h5.2" class="eb"/>
<path d="M63.3 276.9V282.3M60.7 276.9h5.2M60.7 282.3h5.2" class="eb"/>
<path d="M65.2 242.2V247.6M62.6 242.2h5.2M62.6 247.6h5.2" class="eb"/>
<path d="M67.0 227.4V232.8M64.4 227.4h5.2M64.4 232.8h5.2" class="eb"/>
<path d="M68.9 225.2V230.6M66.3 225.2h5.2M66.3 230.6h5.2" class="eb"/>
<path d="M70.8 224.6V230.0M68.2 224.6h5.2M68.2 230.0h5.2" class="eb"/>
<path d="M72.7 224.6V230.0M70.1 224.6h5.2M70.1 230.0h5.2" class="eb"/>
<path d="M74.6 224.8V230.2M72.0 224.8h5.2M72.0 230.2h5.2" class="eb"/>
<path d="M76.5 225.7V230.0M73.9 225.7h5.2M73.9 230.0h5.2" class="eb"/>
<path d="M78.4 226.7V230.0M75.8 226.7h5.2M75.8 230.0h5.2" class="eb"/>
<path d="M80.2 228.0V230.7M77.6 228.0h5.2M77.6 230.7h5.2" class="eb"/>
<path d="M82.1 229.8V232.3M79.5 229.8h5.2M79.5 232.3h5.2" class="eb"/>
<path d="M84.0 230.7V233.2M81.4 230.7h5.2M81.4 233.2h5.2" class="eb"/>
<path d="M85.9 231.5V233.9M83.3 231.5h5.2M83.3 233.9h5.2" class="eb"/>
<path d="M87.8 232.2V234.5M85.2 232.2h5.2M85.2 234.5h5.2" class="eb"/>
<path d="M89.7 232.8V235.0M87.1 232.8h5.2M87.1 235.0h5.2" class="eb"/>
<path d="M91.6 233.3V235.4M89.0 233.3h5.2M89.0 235.4h5.2" class="eb"/>
<path d="M93.4 233.8V235.8M90.8 233.8h5.2M90.8 235.8h5.2" class="eb"/>
<path d="M95.3 234.4V236.3M92.7 234.4h5.2M92.7 236.3h5.2" class="eb"/>
<path d="M82.1 220.4V248.3M78.7 220.4h6.8M78.7 248.3h6.8" class="eb"/>
<path d="M97.2 227.0V245.3M93.8 227.0h6.8M93.8 245.3h6.8" class="eb"/>
<path d="M116.1 245.3V271.0M112.7 245.3h6.8M112.7 271.0h6.8" class="eb"/>
<path d="M191.5 265.4V274.7M188.1 265.4h6.8M188.1 274.7h6.8" class="eb"/>
<path d="M248.1 270.3V279.6M244.7 270.3h6.8M244.7 279.6h6.8" class="eb"/>
<path d="M314.1 275.4V285.7M310.7 275.4h6.8M310.7 285.7h6.8" class="eb"/>
<g stroke="#4472C4" stroke-linecap="round" fill="none" opacity="0.85"><path d="M61.4 318.7L61.5 317.5M61.5 317.5L61.6 316.0M61.6 316.0L61.8 314.3M61.8 314.3L61.9 312.4M61.9 312.4L62.0 310.4M62.0 310.4L62.2 308.2M62.2 308.2L62.3 305.9M62.3 305.9L62.4 303.4M62.4 303.4L62.6 300.8M62.6 300.8L62.7 297.6M62.7 297.6L62.8 293.9M62.8 293.9L62.9 289.8M62.9 289.8L63.1 285.6M63.1 285.6L63.2 281.5M63.2 281.5L63.3 277.8M63.3 277.8L63.5 274.6M63.5 274.6L63.6 271.8M63.6 271.8L63.7 269.2M63.7 269.2L63.9 266.8M63.9 266.8L64.0 264.5M64.0 264.5L64.1 262.3M64.1 262.3L64.2 260.1M64.2 260.1L64.4 258.0M64.4 258.0L64.5 255.8M64.5 255.8L64.6 253.6M64.6 253.6L64.8 251.3M64.8 251.3L64.9 249.1M64.9 249.1L65.0 246.9M65.0 246.9L65.2 244.9M65.2 244.9L65.6 240.2M65.6 240.2L66.0 236.8M66.0 236.8L66.4 233.8M66.4 233.8L66.8 231.3M66.8 231.3L67.2 229.6M67.2 229.6L67.6 228.7M67.6 228.7L68.0 228.4M68.0 228.4L68.4 228.2M68.4 228.2L68.8 228.0M68.8 228.0L69.2 227.8M69.2 227.8L69.6 227.6M69.6 227.6L70.0 227.5M70.0 227.5L70.4 227.4M70.4 227.4L70.8 227.3M70.8 227.3L71.2 227.3M71.2 227.3L71.6 227.2M71.6 227.2L72.1 227.2M72.1 227.2L72.5 227.3M72.5 227.3L72.9 227.3M72.9 227.3L73.3 227.3M73.3 227.3L73.7 227.4M73.7 227.4L74.1 227.4M74.1 227.4L74.5 227.5M74.5 227.5L74.9 227.5" stroke-width="3.6"/><path d="M74.9 227.5L75.3 227.6M75.3 227.6L75.7 227.7" stroke-width="3.4"/><path d="M75.7 227.7L76.1 227.7" stroke-width="3.2"/><path d="M76.1 227.7L76.5 227.8" stroke-width="3.0"/><path d="M76.5 227.8L76.9 227.9M76.9 227.9L77.3 228.0" stroke-width="2.8"/><path d="M77.3 228.0L77.7 228.1" stroke-width="2.6"/><path d="M77.7 228.1L78.1 228.3" stroke-width="2.4"/><path d="M78.1 228.3L78.5 228.4" stroke-width="2.2"/><path d="M78.5 228.4L79.0 228.6M79.0 228.6L79.4 228.7" stroke-width="2.0"/><path d="M79.4 228.7L79.8 229.0M79.8 229.0L80.2 229.3M80.2 229.3L80.6 229.7M80.6 229.7L81.0 230.1M81.0 230.1L81.4 230.4M81.4 230.4L81.8 230.8M81.8 230.8L82.2 231.1M82.2 231.1L82.6 231.3" stroke-width="1.8"/><path d="M82.6 231.3L83.0 231.5M83.0 231.5L83.4 231.7M83.4 231.7L83.8 231.9M83.8 231.9L84.2 232.1M84.2 232.1L84.6 232.2M84.6 232.2L85.0 232.4M85.0 232.4L85.4 232.5M85.4 232.5L85.9 232.7M85.9 232.7L86.3 232.8M86.3 232.8L86.7 233.0M86.7 233.0L87.1 233.1M87.1 233.1L87.5 233.2M87.5 233.2L87.9 233.4M87.9 233.4L88.3 233.5" stroke-width="1.6"/><path d="M88.3 233.5L88.7 233.6M88.7 233.6L89.1 233.8M89.1 233.8L89.5 233.9M89.5 233.9L89.9 234.0M89.9 234.0L90.3 234.1M90.3 234.1L90.7 234.2M90.7 234.2L91.1 234.3M91.1 234.3L91.5 234.4M91.5 234.4L91.9 234.4M91.9 234.4L92.3 234.5M92.3 234.5L92.8 234.6M92.8 234.6L93.2 234.7M93.2 234.7L93.6 234.8M93.6 234.8L94.0 234.9M94.0 234.9L94.4 235.0" stroke-width="1.4"/><path d="M94.4 235.0L94.8 235.1M94.8 235.1L95.2 235.3M95.2 235.3L95.6 235.4M95.6 235.4L96.0 235.6M96.0 235.6L96.4 235.7M96.4 235.7L96.8 235.9M96.8 235.9L97.2 236.2" stroke-width="1.2"/></g>
<path d="M59.5 326.1 L59.6 326.0 L59.8 325.9 L59.9 325.8 L60.1 325.6 L60.2 325.3 L60.4 325.0 L60.5 324.7 L60.7 324.1 L60.8 323.3 L61.0 322.3 L61.1 321.2 L61.2 320.0 L61.4 318.7 L61.5 317.3 L61.7 315.6 L61.8 313.7 L62.0 311.5 L62.1 309.1 L62.3 306.6 L62.4 303.9 L62.5 301.0 L62.7 297.5 L62.8 293.2 L63.0 288.7 L63.1 284.0 L63.3 279.6 L63.4 275.7 L63.6 272.5 L63.7 269.6 L63.9 266.9 L64.0 264.3 L64.1 261.9 L64.3 259.5 L64.4 257.1 L64.6 254.6 L64.7 252.1 L64.9 249.6 L65.0 247.2 L65.2 244.9 L65.6 240.0 L66.0 236.5 L66.4 233.4 L66.9 230.9 L67.3 229.2 L67.7 228.6 L68.2 228.3 L68.6 228.1 L69.0 227.9 L69.4 227.7 L69.9 227.5 L70.3 227.4 L70.7 227.3 L71.1 227.3 L71.6 227.2 L72.0 227.2 L72.4 227.3 L72.9 227.3 L73.3 227.3 L73.7 227.4 L74.1 227.4 L74.6 227.5 L75.0 227.6 L75.4 227.6 L75.9 227.7 L76.3 227.8 L76.7 227.9 L77.1 228.0 L77.6 228.1 L78.0 228.2 L78.4 228.4 L78.8 228.5 L79.3 228.7 L79.7 228.9 L80.1 229.3 L80.6 229.6 L81.0 230.1 L81.4 230.5 L81.8 230.8 L82.3 231.1 L82.7 231.4 L83.1 231.6 L83.6 231.8 L84.0 232.0 L84.4 232.1 L84.8 232.3 L85.3 232.5 L85.7 232.6 L86.1 232.8 L86.5 232.9 L87.0 233.1 L87.4 233.2 L87.8 233.4 L88.3 233.5 L88.7 233.6 L89.1 233.8 L89.5 233.9 L90.0 234.0 L90.4 234.1 L90.8 234.2 L91.3 234.3 L91.7 234.4 L92.1 234.5 L92.5 234.6 L93.0 234.7 L93.4 234.8 L93.8 234.9 L94.3 235.0 L94.7 235.1 L95.1 235.2 L95.5 235.4 L96.0 235.6 L96.4 235.7 L96.8 235.9 L97.2 236.2 L97.7 236.5 L98.1 237.0 L98.5 237.5 L99.0 238.2 L99.4 238.8 L99.8 239.6 L100.2 240.3 L100.7 241.0 L101.1 241.8 L101.5 242.5 L102.0 243.4 L102.4 244.3 L102.8 245.3 L103.2 246.3 L103.7 247.2 L104.1 248.2 L104.5 249.1 L104.9 249.9 L105.4 250.6 L105.8 251.2 L106.2 251.8 L106.7 252.4 L107.1 252.9 L107.5 253.5 L107.9 254.0 L108.4 254.4 L108.8 254.9 L109.2 255.3 L109.7 255.6 L110.1 255.9 L110.5 256.3 L110.9 256.5 L111.4 256.8 L111.8 257.1 L112.2 257.3 L112.6 257.6 L113.1 257.8 L113.5 258.0 L113.9 258.3 L114.4 258.5 L114.8 258.7 L115.2 258.9 L115.6 259.1 L116.1 259.3 L119.4 260.8 L122.8 262.1 L126.1 263.1 L129.5 264.0 L132.9 264.6 L136.2 265.0 L139.6 265.3 L142.9 265.5 L146.3 265.7 L149.6 265.9 L153.0 266.1 L156.3 266.3 L159.7 266.6 L163.1 266.9 L166.4 267.2 L169.8 267.5 L173.1 267.9 L176.5 268.4 L179.8 269.0 L183.2 269.7 L186.5 270.3 L189.9 270.8 L193.3 271.2 L196.6 271.6 L200.0 271.9 L203.3 272.2 L206.7 272.5 L210.0 272.7 L213.4 273.0 L216.7 273.2 L220.1 273.4 L223.5 273.6 L226.8 273.7 L230.2 273.9 L233.5 274.1 L236.9 274.3 L240.2 274.5 L243.6 274.7 L247.0 274.9 L250.3 275.1 L253.7 275.3 L257.0 275.6 L260.4 275.8 L263.7 276.1 L267.1 276.4 L270.4 276.6 L273.8 276.9 L277.2 277.2 L280.5 277.5 L283.9 277.7 L287.2 278.0 L290.6 278.3 L293.9 278.5 L297.3 278.8 L300.6 279.0 L304.0 279.3 L307.4 279.6 L310.7 279.8 L314.1 280.1" fill="none" stroke="#4472C4" stroke-width="2.4" stroke-linejoin="round" stroke-linecap="round"/>
<circle cx="61.4" cy="318.7" r="2.4" class="fb"/>
<circle cx="63.3" cy="279.6" r="2.4" class="fb"/>
<circle cx="65.2" cy="244.9" r="2.4" class="fb"/>
<circle cx="67.0" cy="230.1" r="2.4" class="fb"/>
<circle cx="68.9" cy="227.9" r="2.4" class="fb"/>
<circle cx="70.8" cy="227.3" r="2.4" class="fb"/>
<circle cx="72.7" cy="227.3" r="2.4" class="fb"/>
<circle cx="74.6" cy="227.5" r="2.4" class="fb"/>
<circle cx="76.5" cy="227.8" r="2.4" class="fb"/>
<circle cx="78.4" cy="228.3" r="2.4" class="fb"/>
<circle cx="80.2" cy="229.4" r="2.4" class="fb"/>
<circle cx="82.1" cy="231.0" r="2.4" class="fb"/>
<circle cx="84.0" cy="232.0" r="2.4" class="fb"/>
<circle cx="85.9" cy="232.7" r="2.4" class="fb"/>
<circle cx="87.8" cy="233.3" r="2.4" class="fb"/>
<circle cx="89.7" cy="233.9" r="2.4" class="fb"/>
<circle cx="91.6" cy="234.4" r="2.4" class="fb"/>
<circle cx="93.4" cy="234.8" r="2.4" class="fb"/>
<circle cx="95.3" cy="235.3" r="2.4" class="fb"/>
<circle cx="82.1" cy="231.9" r="2.4" class="fb"/>
<circle cx="97.2" cy="236.0" r="2.4" class="fb"/>
<circle cx="116.1" cy="258.8" r="2.4" class="fb"/>
<circle cx="191.5" cy="271.0" r="2.4" class="fb"/>
<circle cx="248.1" cy="274.9" r="2.4" class="fb"/>
<circle cx="314.1" cy="280.1" r="2.4" class="fb"/>
<path d="M61.4 315.1V322.3M58.8 315.1h5.2M58.8 322.3h5.2" class="eo"/>
<path d="M63.3 278.0V286.1M60.7 278.0h5.2M60.7 286.1h5.2" class="eo"/>
<path d="M65.2 241.0V250.0M62.6 241.0h5.2M62.6 250.0h5.2" class="eo"/>
<path d="M67.0 223.8V236.3M64.4 223.8h5.2M64.4 236.3h5.2" class="eo"/>
<path d="M68.9 221.1V234.6M66.3 221.1h5.2M66.3 234.6h5.2" class="eo"/>
<path d="M70.8 220.6V234.1M68.2 220.6h5.2M68.2 234.1h5.2" class="eo"/>
<path d="M72.7 220.5V234.0M70.1 220.5h5.2M70.1 234.0h5.2" class="eo"/>
<path d="M74.6 220.7V234.2M72.0 220.7h5.2M72.0 234.2h5.2" class="eo"/>
<path d="M76.5 221.3V234.5M73.9 221.3h5.2M73.9 234.5h5.2" class="eo"/>
<path d="M78.4 222.9V234.9M75.8 222.9h5.2M75.8 234.9h5.2" class="eo"/>
<path d="M80.2 225.0V235.8M77.6 225.0h5.2M77.6 235.8h5.2" class="eo"/>
<path d="M82.1 227.2V237.4M79.5 227.2h5.2M79.5 237.4h5.2" class="eo"/>
<path d="M84.0 229.7V239.2M81.4 229.7h5.2M81.4 239.2h5.2" class="eo"/>
<path d="M85.9 231.6V240.6M83.3 231.6h5.2M83.3 240.6h5.2" class="eo"/>
<path d="M87.8 233.4V241.8M85.2 233.4h5.2M85.2 241.8h5.2" class="eo"/>
<path d="M89.7 235.4V243.1M87.1 235.4h5.2M87.1 243.1h5.2" class="eo"/>
<path d="M91.6 237.4V244.6M89.0 237.4h5.2M89.0 244.6h5.2" class="eo"/>
<path d="M93.4 239.8V246.4M90.8 239.8h5.2M90.8 246.4h5.2" class="eo"/>
<path d="M95.3 242.9V248.8M92.7 242.9h5.2M92.7 248.8h5.2" class="eo"/>
<path d="M97.2 237.5V257.1M93.8 237.5h6.8M93.8 257.1h6.8" class="eo"/>
<path d="M116.1 261.2V272.3M112.7 261.2h6.8M112.7 272.3h6.8" class="eo"/>
<path d="M191.5 275.9V282.0M188.1 275.9h6.8M188.1 282.0h6.8" class="eo"/>
<path d="M248.1 267.4V280.8M244.7 267.4h6.8M244.7 280.8h6.8" class="eo"/>
<path d="M314.1 267.4V283.3M310.7 267.4h6.8M310.7 283.3h6.8" class="eo"/>
<g stroke="#ED7D31" stroke-linecap="round" fill="none" opacity="0.85"><path d="M61.4 318.7L61.5 317.6M61.5 317.6L61.6 316.3M61.6 316.3L61.8 314.9M91.1 240.6L91.5 241.0M91.5 241.0L91.9 241.4" stroke-width="4.8"/><path d="M61.8 314.9L61.9 313.3M61.9 313.3L62.0 311.6M62.0 311.6L62.2 309.8M62.2 309.8L62.3 307.8M62.3 307.8L62.4 305.7M90.3 239.8L90.7 240.2M90.7 240.2L91.1 240.6" stroke-width="5.0"/><path d="M62.4 305.7L62.6 303.3M62.6 303.3L62.7 300.3M62.7 300.3L62.8 296.6M62.8 296.6L62.9 292.5M62.9 292.5L63.1 288.2M89.1 238.7L89.5 239.1M89.5 239.1L89.9 239.5M89.9 239.5L90.3 239.8" stroke-width="5.2"/><path d="M63.1 288.2L63.2 284.0M63.2 284.0L63.3 280.2M63.3 280.2L63.5 277.0M63.5 277.0L63.6 274.3M88.3 238.0L88.7 238.4M88.7 238.4L89.1 238.7" stroke-width="5.4"/><path d="M63.6 274.3L63.7 271.7M63.7 271.7L63.9 269.4M63.9 269.4L64.0 267.1M64.0 267.1L64.1 264.9M64.1 264.9L64.2 262.7M87.5 237.4L87.9 237.7M87.9 237.7L88.3 238.0" stroke-width="5.6"/><path d="M64.2 262.7L64.4 260.5M64.4 260.5L64.5 258.1M64.5 258.1L64.6 255.6M64.6 255.6L64.8 253.0M64.8 253.0L64.9 250.4M86.3 236.4L86.7 236.7M86.7 236.7L87.1 237.0M87.1 237.0L87.5 237.4" stroke-width="5.8"/><path d="M64.9 250.4L65.0 247.9M65.0 247.9L65.2 245.5M65.2 245.5L65.6 240.2M85.4 235.7L85.9 236.1M85.9 236.1L86.3 236.4" stroke-width="6.0"/><path d="M65.6 240.2L66.0 236.7M83.8 234.3L84.2 234.7M84.2 234.7L84.6 235.0" stroke-width="6.4"/><path d="M66.0 236.7L66.4 233.7M81.0 231.1L81.4 231.5M81.4 231.5L81.8 231.9" stroke-width="7.0"/><path d="M66.4 233.7L66.8 231.3M79.8 230.0L80.2 230.4" stroke-width="7.4"/><path d="M66.8 231.3L67.2 229.5M78.1 228.8L78.5 229.1M78.5 229.1L79.0 229.4" stroke-width="8.0"/><path d="M67.2 229.5L67.6 228.7M77.3 228.2L77.7 228.5" stroke-width="8.4"/><path d="M67.6 228.7L68.0 228.4M68.0 228.4L68.4 228.2M68.4 228.2L68.8 228.0M68.8 228.0L69.2 227.8M69.2 227.8L69.6 227.6M69.6 227.6L70.0 227.5M70.0 227.5L70.4 227.4M70.4 227.4L70.8 227.3M70.8 227.3L71.2 227.3M71.2 227.3L71.6 227.2M71.6 227.2L72.1 227.2M72.1 227.2L72.5 227.3M72.5 227.3L72.9 227.3M72.9 227.3L73.3 227.3M73.3 227.3L73.7 227.4M73.7 227.4L74.1 227.4M74.1 227.4L74.5 227.5M74.5 227.5L74.9 227.5M74.9 227.5L75.3 227.6M75.3 227.6L75.7 227.7M75.7 227.7L76.1 227.7M76.1 227.7L76.5 227.9" stroke-width="9.0"/><path d="M76.5 227.9L76.9 228.0" stroke-width="8.8"/><path d="M76.9 228.0L77.3 228.2" stroke-width="8.6"/><path d="M77.7 228.5L78.1 228.8" stroke-width="8.2"/><path d="M79.0 229.4L79.4 229.7" stroke-width="7.8"/><path d="M79.4 229.7L79.8 230.0" stroke-width="7.6"/><path d="M80.2 230.4L80.6 230.7M80.6 230.7L81.0 231.1" stroke-width="7.2"/><path d="M81.8 231.9L82.2 232.4M82.2 232.4L82.6 232.9" stroke-width="6.8"/><path d="M82.6 232.9L83.0 233.4M83.0 233.4L83.4 233.8M83.4 233.8L83.8 234.3" stroke-width="6.6"/><path d="M84.6 235.0L85.0 235.4M85.0 235.4L85.4 235.7" stroke-width="6.2"/><path d="M91.9 241.4L92.3 241.8M92.3 241.8L92.8 242.3M92.8 242.3L93.2 242.7" stroke-width="4.6"/><path d="M93.2 242.7L93.6 243.3M93.6 243.3L94.0 243.8" stroke-width="4.4"/><path d="M94.0 243.8L94.4 244.4M94.4 244.4L94.8 245.0" stroke-width="4.2"/><path d="M94.8 245.0L95.2 245.6M95.2 245.6L95.6 246.3M95.6 246.3L96.0 246.9" stroke-width="4.0"/><path d="M96.0 246.9L96.4 247.4M96.4 247.4L96.8 248.0" stroke-width="3.8"/><path d="M96.8 248.0L97.2 248.5" stroke-width="3.6"/></g>
<path d="M59.5 326.1 L59.6 326.0 L59.8 325.9 L59.9 325.8 L60.1 325.6 L60.2 325.3 L60.4 325.0 L60.5 324.7 L60.7 324.1 L60.8 323.3 L61.0 322.3 L61.1 321.2 L61.2 320.0 L61.4 318.7 L61.5 317.4 L61.7 316.0 L61.8 314.3 L62.0 312.6 L62.1 310.6 L62.3 308.4 L62.4 306.1 L62.5 303.5 L62.7 300.1 L62.8 296.0 L63.0 291.3 L63.1 286.6 L63.3 282.1 L63.4 278.2 L63.6 275.0 L63.7 272.1 L63.9 269.5 L64.0 266.9 L64.1 264.5 L64.3 262.0 L64.4 259.5 L64.6 256.8 L64.7 253.9 L64.9 251.0 L65.0 248.2 L65.2 245.5 L65.6 240.0 L66.0 236.4 L66.4 233.3 L66.9 230.8 L67.3 229.2 L67.7 228.6 L68.2 228.3 L68.6 228.1 L69.0 227.9 L69.4 227.7 L69.9 227.5 L70.3 227.4 L70.7 227.3 L71.1 227.3 L71.6 227.2 L72.0 227.2 L72.4 227.3 L72.9 227.3 L73.3 227.3 L73.7 227.4 L74.1 227.4 L74.6 227.5 L75.0 227.5 L75.4 227.6 L75.9 227.7 L76.3 227.8 L76.7 227.9 L77.1 228.1 L77.6 228.4 L78.0 228.7 L78.4 229.0 L78.8 229.3 L79.3 229.6 L79.7 230.0 L80.1 230.3 L80.6 230.7 L81.0 231.1 L81.4 231.5 L81.8 232.0 L82.3 232.5 L82.7 233.0 L83.1 233.5 L83.6 234.0 L84.0 234.4 L84.4 234.8 L84.8 235.2 L85.3 235.6 L85.7 235.9 L86.1 236.3 L86.5 236.6 L87.0 237.0 L87.4 237.3 L87.8 237.6 L88.3 238.0 L88.7 238.4 L89.1 238.8 L89.5 239.1 L90.0 239.5 L90.4 239.9 L90.8 240.3 L91.3 240.7 L91.7 241.1 L92.1 241.6 L92.5 242.0 L93.0 242.5 L93.4 243.0 L93.8 243.6 L94.3 244.2 L94.7 244.9 L95.1 245.5 L95.5 246.2 L96.0 246.8 L96.4 247.4 L96.8 248.0 L97.2 248.5 L97.7 249.1 L98.1 249.5 L98.5 250.0 L99.0 250.5 L99.4 250.9 L99.8 251.4 L100.2 251.8 L100.7 252.3 L101.1 252.8 L101.5 253.3 L102.0 253.8 L102.4 254.3 L102.8 254.8 L103.2 255.3 L103.7 255.8 L104.1 256.4 L104.5 256.9 L104.9 257.4 L105.4 257.9 L105.8 258.4 L106.2 258.9 L106.7 259.5 L107.1 260.0 L107.5 260.5 L107.9 261.1 L108.4 261.6 L108.8 262.1 L109.2 262.5 L109.7 263.0 L110.1 263.4 L110.5 263.8 L110.9 264.1 L111.4 264.4 L111.8 264.7 L112.2 265.0 L112.6 265.3 L113.1 265.6 L113.5 265.9 L113.9 266.1 L114.4 266.4 L114.8 266.6 L115.2 266.9 L115.6 267.1 L116.1 267.4 L119.4 269.4 L122.8 271.2 L126.1 272.4 L129.5 273.1 L132.9 273.7 L136.2 274.1 L139.6 274.5 L142.9 274.8 L146.3 275.1 L149.6 275.4 L153.0 275.6 L156.3 275.9 L159.7 276.1 L163.1 276.3 L166.4 276.6 L169.8 276.8 L173.1 276.9 L176.5 277.1 L179.8 277.2 L183.2 277.4 L186.5 277.5 L189.9 277.6 L193.3 277.7 L196.6 277.7 L200.0 277.8 L203.3 277.8 L206.7 277.9 L210.0 277.9 L213.4 277.9 L216.7 277.9 L220.1 277.8 L223.5 277.8 L226.8 277.8 L230.2 277.7 L233.5 277.7 L236.9 277.7 L240.2 277.7 L243.6 277.6 L247.0 277.6 L250.3 277.6 L253.7 277.7 L257.0 277.7 L260.4 277.7 L263.7 277.7 L267.1 277.8 L270.4 277.8 L273.8 277.9 L277.2 278.0 L280.5 278.0 L283.9 278.1 L287.2 278.2 L290.6 278.2 L293.9 278.3 L297.3 278.4 L300.6 278.6 L304.0 278.7 L307.4 278.8 L310.7 279.0 L314.1 279.1" fill="none" stroke="#ED7D31" stroke-width="2.4" stroke-linejoin="round" stroke-linecap="round"/>
<path d="M61.4 316.0l2.6 4.6h-5.2z" class="fo"/>
<path d="M63.3 279.3l2.6 4.6h-5.2z" class="fo"/>
<path d="M65.2 242.8l2.6 4.6h-5.2z" class="fo"/>
<path d="M67.0 227.3l2.6 4.6h-5.2z" class="fo"/>
<path d="M68.9 225.2l2.6 4.6h-5.2z" class="fo"/>
<path d="M70.8 224.6l2.6 4.6h-5.2z" class="fo"/>
<path d="M72.7 224.5l2.6 4.6h-5.2z" class="fo"/>
<path d="M74.6 224.7l2.6 4.6h-5.2z" class="fo"/>
<path d="M76.5 225.1l2.6 4.6h-5.2z" class="fo"/>
<path d="M78.4 226.2l2.6 4.6h-5.2z" class="fo"/>
<path d="M80.2 227.7l2.6 4.6h-5.2z" class="fo"/>
<path d="M82.1 229.6l2.6 4.6h-5.2z" class="fo"/>
<path d="M84.0 231.7l2.6 4.6h-5.2z" class="fo"/>
<path d="M85.9 233.4l2.6 4.6h-5.2z" class="fo"/>
<path d="M87.8 234.9l2.6 4.6h-5.2z" class="fo"/>
<path d="M89.7 236.5l2.6 4.6h-5.2z" class="fo"/>
<path d="M91.6 238.3l2.6 4.6h-5.2z" class="fo"/>
<path d="M93.4 240.4l2.6 4.6h-5.2z" class="fo"/>
<path d="M95.3 243.1l2.6 4.6h-5.2z" class="fo"/>
<path d="M97.2 244.6l2.6 4.6h-5.2z" class="fo"/>
<path d="M116.1 263.4l2.6 4.6h-5.2z" class="fo"/>
<path d="M191.5 276.4l2.6 4.6h-5.2z" class="fo"/>
<path d="M248.1 275.6l2.6 4.6h-5.2z" class="fo"/>
<path d="M314.1 276.9l2.6 4.6h-5.2z" class="fo"/>
<path d="M61.4 315.1V322.3M58.8 315.1h5.2M58.8 322.3h5.2" class="eg"/>
<path d="M63.3 278.0V286.1M60.7 278.0h5.2M60.7 286.1h5.2" class="eg"/>
<path d="M65.2 239.1V248.1M62.6 239.1h5.2M62.6 248.1h5.2" class="eg"/>
<path d="M67.0 221.5V234.6M64.4 221.5h5.2M64.4 234.6h5.2" class="eg"/>
<path d="M68.9 219.7V234.0M66.3 219.7h5.2M66.3 234.0h5.2" class="eg"/>
<path d="M70.8 219.7V233.8M68.2 219.7h5.2M68.2 233.8h5.2" class="eg"/>
<path d="M72.7 219.9V233.7M70.1 219.9h5.2M70.1 233.7h5.2" class="eg"/>
<path d="M74.6 220.4V234.1M72.0 220.4h5.2M72.0 234.1h5.2" class="eg"/>
<path d="M76.5 221.3V234.5M73.9 221.3h5.2M73.9 234.5h5.2" class="eg"/>
<path d="M78.4 223.1V235.1M75.8 223.1h5.2M75.8 235.1h5.2" class="eg"/>
<path d="M80.2 225.3V236.1M77.6 225.3h5.2M77.6 236.1h5.2" class="eg"/>
<path d="M82.1 227.5V237.7M79.5 227.5h5.2M79.5 237.7h5.2" class="eg"/>
<path d="M84.0 229.9V239.5M81.4 229.9h5.2M81.4 239.5h5.2" class="eg"/>
<path d="M85.9 232.0V240.9M83.3 232.0h5.2M83.3 240.9h5.2" class="eg"/>
<path d="M87.8 233.9V242.2M85.2 233.9h5.2M85.2 242.2h5.2" class="eg"/>
<path d="M89.7 235.9V243.6M87.1 235.9h5.2M87.1 243.6h5.2" class="eg"/>
<path d="M91.6 237.9V245.1M89.0 237.9h5.2M89.0 245.1h5.2" class="eg"/>
<path d="M93.4 240.3V246.9M90.8 240.3h5.2M90.8 246.9h5.2" class="eg"/>
<path d="M95.3 243.4V249.3M92.7 243.4h5.2M92.7 249.3h5.2" class="eg"/>
<path d="M97.2 244.9V258.8M93.8 244.9h6.8M93.8 258.8h6.8" class="eg"/>
<path d="M116.1 264.9V277.6M112.7 264.9h6.8M112.7 277.6h6.8" class="eg"/>
<path d="M191.5 277.1V284.5M188.1 277.1h6.8M188.1 284.5h6.8" class="eg"/>
<path d="M248.1 280.8V289.4M244.7 280.8h6.8M244.7 289.4h6.8" class="eg"/>
<path d="M314.1 285.0V291.8M310.7 285.0h6.8M310.7 291.8h6.8" class="eg"/>
<g stroke="#A5A5A5" stroke-linecap="round" fill="none" opacity="0.85"><path d="M61.4 318.7L61.5 317.6M61.5 317.6L61.6 316.3M61.6 316.3L61.8 314.9M91.1 241.1L91.5 241.5M91.5 241.5L91.9 241.9" stroke-width="4.8"/><path d="M61.8 314.9L61.9 313.3M61.9 313.3L62.0 311.6M62.0 311.6L62.2 309.8M62.2 309.8L62.3 307.8M62.3 307.8L62.4 305.7M90.3 240.3L90.7 240.7M90.7 240.7L91.1 241.1" stroke-width="5.0"/><path d="M62.4 305.7L62.6 303.3M62.6 303.3L62.7 300.3M62.7 300.3L62.8 296.6M62.8 296.6L62.9 292.5M62.9 292.5L63.1 288.2M89.1 239.2L89.5 239.6M89.5 239.6L89.9 240.0M89.9 240.0L90.3 240.3" stroke-width="5.2"/><path d="M63.1 288.2L63.2 284.0M63.2 284.0L63.3 280.2M63.3 280.2L63.5 277.0M63.5 277.0L63.6 274.3M88.3 238.5L88.7 238.9M88.7 238.9L89.1 239.2" stroke-width="5.4"/><path d="M63.6 274.3L63.7 271.8M63.7 271.8L63.9 269.5M63.9 269.5L64.0 267.2M64.0 267.2L64.1 265.1M64.1 265.1L64.2 262.8M87.5 237.8L87.9 238.1M87.9 238.1L88.3 238.5" stroke-width="5.6"/><path d="M64.2 262.8L64.4 260.5M64.4 260.5L64.5 258.0M64.5 258.0L64.6 255.2M64.6 255.2L64.8 252.2M64.8 252.2L64.9 249.2M86.3 236.7L86.7 237.1M86.7 237.1L87.1 237.4M87.1 237.4L87.5 237.8" stroke-width="5.8"/><path d="M64.9 249.2L65.0 246.3M65.0 246.3L65.2 243.6M65.2 243.6L65.6 237.7M85.4 236.0L85.9 236.4M85.9 236.4L86.3 236.7" stroke-width="6.0"/><path d="M65.6 237.7L66.0 234.4M82.6 233.1L83.0 233.6M83.0 233.6L83.4 234.0M83.4 234.0L83.8 234.5" stroke-width="6.6"/><path d="M66.0 234.4L66.4 231.4M80.2 230.6L80.6 231.0M80.6 231.0L81.0 231.3" stroke-width="7.2"/><path d="M66.4 231.4L66.8 229.1M79.0 229.6L79.4 229.9" stroke-width="7.8"/><path d="M66.8 229.1L67.2 227.6M77.3 228.4L77.7 228.7" stroke-width="8.4"/><path d="M67.2 227.6L67.6 227.0M74.9 227.4L75.3 227.5M75.3 227.5L75.7 227.6M75.7 227.6L76.1 227.8M76.1 227.8L76.5 227.9" stroke-width="9.0"/><path d="M67.6 227.0L68.0 226.9M68.0 226.9L68.4 226.9M68.4 226.9L68.8 226.9M68.8 226.9L69.2 226.8" stroke-width="9.6"/><path d="M69.2 226.8L69.6 226.8M69.6 226.8L70.0 226.8M70.0 226.8L70.4 226.8M70.4 226.8L70.8 226.8M70.8 226.8L71.2 226.7M71.2 226.7L71.6 226.7M71.6 226.7L72.1 226.8" stroke-width="9.4"/><path d="M72.1 226.8L72.5 226.8M72.5 226.8L72.9 226.8M72.9 226.8L73.3 226.9M73.3 226.9L73.7 227.0M73.7 227.0L74.1 227.1M74.1 227.1L74.5 227.2M74.5 227.2L74.9 227.4" stroke-width="9.2"/><path d="M76.5 227.9L76.9 228.1" stroke-width="8.8"/><path d="M76.9 228.1L77.3 228.4" stroke-width="8.6"/><path d="M77.7 228.7L78.1 228.9" stroke-width="8.2"/><path d="M78.1 228.9L78.5 229.3M78.5 229.3L79.0 229.6" stroke-width="8.0"/><path d="M79.4 229.9L79.8 230.3" stroke-width="7.6"/><path d="M79.8 230.3L80.2 230.6" stroke-width="7.4"/><path d="M81.0 231.3L81.4 231.8M81.4 231.8L81.8 232.2" stroke-width="7.0"/><path d="M81.8 232.2L82.2 232.7M82.2 232.7L82.6 233.1" stroke-width="6.8"/><path d="M83.8 234.5L84.2 234.9M84.2 234.9L84.6 235.3" stroke-width="6.4"/><path d="M84.6 235.3L85.0 235.7M85.0 235.7L85.4 236.0" stroke-width="6.2"/><path d="M91.9 241.9L92.3 242.3M92.3 242.3L92.8 242.7M92.8 242.7L93.2 243.2" stroke-width="4.6"/><path d="M93.2 243.2L93.6 243.8M93.6 243.8L94.0 244.3" stroke-width="4.4"/><path d="M94.0 244.3L94.4 244.9M94.4 244.9L94.8 245.5" stroke-width="4.2"/><path d="M94.8 245.5L95.2 246.1M95.2 246.1L95.6 246.8M95.6 246.8L96.0 247.4" stroke-width="4.0"/><path d="M96.0 247.4L96.4 248.1M96.4 248.1L96.8 248.7" stroke-width="3.8"/><path d="M96.8 248.7L97.2 249.3" stroke-width="3.6"/></g>
<path d="M59.5 326.1 L59.6 326.0 L59.8 325.9 L59.9 325.8 L60.1 325.6 L60.2 325.3 L60.4 325.0 L60.5 324.7 L60.7 324.1 L60.8 323.3 L61.0 322.3 L61.1 321.2 L61.2 320.0 L61.4 318.7 L61.5 317.4 L61.7 316.0 L61.8 314.3 L62.0 312.6 L62.1 310.6 L62.3 308.4 L62.4 306.1 L62.5 303.5 L62.7 300.1 L62.8 296.0 L63.0 291.3 L63.1 286.6 L63.3 282.1 L63.4 278.2 L63.6 275.0 L63.7 272.2 L63.9 269.5 L64.0 267.1 L64.1 264.6 L64.3 262.1 L64.4 259.5 L64.6 256.5 L64.7 253.2 L64.9 249.9 L65.0 246.6 L65.2 243.6 L65.6 237.6 L66.0 234.0 L66.4 231.0 L66.9 228.7 L67.3 227.3 L67.7 227.0 L68.2 226.9 L68.6 226.9 L69.0 226.8 L69.4 226.8 L69.9 226.8 L70.3 226.8 L70.7 226.8 L71.1 226.7 L71.6 226.7 L72.0 226.8 L72.4 226.8 L72.9 226.8 L73.3 226.9 L73.7 227.0 L74.1 227.1 L74.6 227.2 L75.0 227.4 L75.4 227.5 L75.9 227.7 L76.3 227.8 L76.7 228.0 L77.1 228.3 L77.6 228.5 L78.0 228.8 L78.4 229.2 L78.8 229.5 L79.3 229.8 L79.7 230.2 L80.1 230.6 L80.6 230.9 L81.0 231.3 L81.4 231.8 L81.8 232.3 L82.3 232.7 L82.7 233.2 L83.1 233.7 L83.6 234.2 L84.0 234.7 L84.4 235.1 L84.8 235.5 L85.3 235.9 L85.7 236.3 L86.1 236.6 L86.5 237.0 L87.0 237.4 L87.4 237.7 L87.8 238.1 L88.3 238.5 L88.7 238.9 L89.1 239.3 L89.5 239.6 L90.0 240.0 L90.4 240.4 L90.8 240.8 L91.3 241.2 L91.7 241.6 L92.1 242.0 L92.5 242.5 L93.0 243.0 L93.4 243.5 L93.8 244.1 L94.3 244.7 L94.7 245.4 L95.1 246.0 L95.5 246.7 L96.0 247.4 L96.4 248.0 L96.8 248.7 L97.2 249.3 L97.7 250.0 L98.1 250.7 L98.5 251.3 L99.0 252.0 L99.4 252.7 L99.8 253.4 L100.2 254.0 L100.7 254.7 L101.1 255.3 L101.5 255.9 L102.0 256.5 L102.4 257.1 L102.8 257.7 L103.2 258.2 L103.7 258.8 L104.1 259.4 L104.5 259.9 L104.9 260.5 L105.4 261.1 L105.8 261.7 L106.2 262.3 L106.7 262.9 L107.1 263.6 L107.5 264.2 L107.9 264.8 L108.4 265.4 L108.8 266.0 L109.2 266.6 L109.7 267.1 L110.1 267.5 L110.5 267.9 L110.9 268.3 L111.4 268.6 L111.8 269.0 L112.2 269.3 L112.6 269.6 L113.1 269.9 L113.5 270.1 L113.9 270.4 L114.4 270.6 L114.8 270.9 L115.2 271.1 L115.6 271.3 L116.1 271.5 L119.4 273.1 L122.8 274.4 L126.1 275.3 L129.5 275.9 L132.9 276.4 L136.2 276.8 L139.6 277.3 L142.9 277.8 L146.3 278.3 L149.6 278.7 L153.0 279.0 L156.3 279.3 L159.7 279.5 L163.1 279.6 L166.4 279.8 L169.8 279.9 L173.1 280.1 L176.5 280.3 L179.8 280.6 L183.2 280.9 L186.5 281.2 L189.9 281.4 L193.3 281.7 L196.6 281.9 L200.0 282.1 L203.3 282.3 L206.7 282.5 L210.0 282.8 L213.4 283.0 L216.7 283.2 L220.1 283.4 L223.5 283.5 L226.8 283.7 L230.2 283.9 L233.5 284.1 L236.9 284.3 L240.2 284.5 L243.6 284.7 L247.0 284.9 L250.3 285.1 L253.7 285.3 L257.0 285.6 L260.4 285.8 L263.7 286.0 L267.1 286.2 L270.4 286.5 L273.8 286.7 L277.2 286.9 L280.5 287.1 L283.9 287.3 L287.2 287.5 L290.6 287.7 L293.9 287.9 L297.3 288.1 L300.6 288.2 L304.0 288.4 L307.4 288.6 L310.7 288.7 L314.1 288.9" fill="none" stroke="#A5A5A5" stroke-width="2.4" stroke-linejoin="round" stroke-linecap="round"/>
<rect x="59.2" y="316.5" width="4.4" height="4.4" class="fg"/>
<rect x="61.1" y="279.9" width="4.4" height="4.4" class="fg"/>
<rect x="62.9" y="241.4" width="4.4" height="4.4" class="fg"/>
<rect x="64.8" y="225.8" width="4.4" height="4.4" class="fg"/>
<rect x="66.7" y="224.6" width="4.4" height="4.4" class="fg"/>
<rect x="68.6" y="224.5" width="4.4" height="4.4" class="fg"/>
<rect x="70.5" y="224.6" width="4.4" height="4.4" class="fg"/>
<rect x="72.4" y="225.0" width="4.4" height="4.4" class="fg"/>
<rect x="74.3" y="225.7" width="4.4" height="4.4" class="fg"/>
<rect x="76.1" y="226.9" width="4.4" height="4.4" class="fg"/>
<rect x="78.0" y="228.4" width="4.4" height="4.4" class="fg"/>
<rect x="79.9" y="230.4" width="4.4" height="4.4" class="fg"/>
<rect x="81.8" y="232.5" width="4.4" height="4.4" class="fg"/>
<rect x="83.7" y="234.2" width="4.4" height="4.4" class="fg"/>
<rect x="85.6" y="235.8" width="4.4" height="4.4" class="fg"/>
<rect x="87.5" y="237.5" width="4.4" height="4.4" class="fg"/>
<rect x="89.3" y="239.3" width="4.4" height="4.4" class="fg"/>
<rect x="91.2" y="241.4" width="4.4" height="4.4" class="fg"/>
<rect x="93.1" y="244.1" width="4.4" height="4.4" class="fg"/>
<rect x="95.0" y="246.1" width="4.4" height="4.4" class="fg"/>
<rect x="113.9" y="269.3" width="4.4" height="4.4" class="fg"/>
<rect x="189.3" y="278.4" width="4.4" height="4.4" class="fg"/>
<rect x="245.9" y="282.3" width="4.4" height="4.4" class="fg"/>
<rect x="311.9" y="286.7" width="4.4" height="4.4" class="fg"/>
<circle cx="62.9" cy="311.0" r="1.7" class="hb"/>
<circle cx="62.7" cy="301.2" r="1.7" class="hb"/>
<circle cx="63.0" cy="280.9" r="1.7" class="hb"/>
<circle cx="64.1" cy="268.3" r="1.7" class="hb"/>
<circle cx="64.6" cy="257.8" r="1.7" class="hb"/>
<circle cx="64.9" cy="246.7" r="1.7" class="hb"/>
<circle cx="65.8" cy="241.1" r="1.7" class="hb"/>
<circle cx="66.4" cy="234.8" r="1.7" class="hb"/>
<circle cx="67.0" cy="231.5" r="1.7" class="hb"/>
<circle cx="67.2" cy="230.3" r="1.7" class="hb"/>
<circle cx="68.1" cy="229.5" r="1.7" class="hb"/>
<circle cx="69.6" cy="228.3" r="1.7" class="hb"/>
<circle cx="70.3" cy="226.2" r="1.7" class="hb"/>
<circle cx="71.6" cy="226.9" r="1.7" class="hb"/>
<circle cx="73.0" cy="227.2" r="1.7" class="hb"/>
<circle cx="73.7" cy="226.6" r="1.7" class="hb"/>
<circle cx="74.8" cy="226.6" r="1.7" class="hb"/>
<circle cx="75.8" cy="227.9" r="1.7" class="hb"/>
<circle cx="77.4" cy="228.4" r="1.7" class="hb"/>
<circle cx="78.5" cy="228.1" r="1.7" class="hb"/>
<circle cx="79.5" cy="228.6" r="1.7" class="hb"/>
<circle cx="80.4" cy="229.5" r="1.7" class="hb"/>
<circle cx="82.0" cy="230.8" r="1.7" class="hb"/>
<circle cx="82.7" cy="231.2" r="1.7" class="hb"/>
<circle cx="84.3" cy="232.0" r="1.7" class="hb"/>
<circle cx="85.4" cy="232.4" r="1.7" class="hb"/>
<circle cx="86.2" cy="232.9" r="1.7" class="hb"/>
<circle cx="87.2" cy="233.4" r="1.7" class="hb"/>
<circle cx="88.3" cy="233.6" r="1.7" class="hb"/>
<circle cx="90.0" cy="233.9" r="1.7" class="hb"/>
<circle cx="90.6" cy="233.9" r="1.7" class="hb"/>
<circle cx="92.2" cy="234.5" r="1.7" class="hb"/>
<circle cx="93.3" cy="234.7" r="1.7" class="hb"/>
<circle cx="94.5" cy="234.9" r="1.7" class="hb"/>
<circle cx="95.5" cy="235.1" r="1.7" class="hb"/>
<circle cx="81.6" cy="227.0" r="1.7" class="hb"/>
<circle cx="84.6" cy="245.6" r="1.7" class="hb"/>
<circle cx="85.9" cy="232.6" r="1.7" class="hb"/>
<circle cx="87.8" cy="233.1" r="1.7" class="hb"/>
<circle cx="106.6" cy="243.1" r="1.7" class="hb"/>
<circle cx="116.1" cy="248.8" r="1.7" class="hb"/>
<circle cx="134.9" cy="268.6" r="1.7" class="hb"/>
<circle cx="153.8" cy="269.8" r="1.7" class="hb"/>
<circle cx="172.6" cy="267.4" r="1.7" class="hb"/>
<circle cx="210.4" cy="273.5" r="1.7" class="hb"/>
<circle cx="229.2" cy="274.2" r="1.7" class="hb"/>
<circle cx="266.9" cy="276.2" r="1.7" class="hb"/>
<circle cx="285.8" cy="278.4" r="1.7" class="hb"/>
<circle cx="304.6" cy="282.5" r="1.7" class="hb"/>
<rect x="59.5" y="309.8" width="3.2" height="3.2" class="hg"/>
<rect x="62.0" y="303.7" width="3.2" height="3.2" class="hg"/>
<rect x="61.1" y="302.6" width="3.2" height="3.2" class="hg"/>
<rect x="61.1" y="290.0" width="3.2" height="3.2" class="hg"/>
<rect x="61.6" y="285.3" width="3.2" height="3.2" class="hg"/>
<rect x="62.2" y="274.3" width="3.2" height="3.2" class="hg"/>
<rect x="62.0" y="271.6" width="3.2" height="3.2" class="hg"/>
<rect x="62.7" y="265.0" width="3.2" height="3.2" class="hg"/>
<rect x="63.0" y="260.6" width="3.2" height="3.2" class="hg"/>
<rect x="62.8" y="253.6" width="3.2" height="3.2" class="hg"/>
<rect x="63.2" y="243.9" width="3.2" height="3.2" class="hg"/>
<rect x="63.7" y="240.2" width="3.2" height="3.2" class="hg"/>
<rect x="63.8" y="239.4" width="3.2" height="3.2" class="hg"/>
<rect x="64.0" y="230.0" width="3.2" height="3.2" class="hg"/>
<rect x="64.8" y="228.2" width="3.2" height="3.2" class="hg"/>
<rect x="64.7" y="230.1" width="3.2" height="3.2" class="hg"/>
<rect x="65.3" y="228.2" width="3.2" height="3.2" class="hg"/>
<rect x="65.1" y="224.6" width="3.2" height="3.2" class="hg"/>
<rect x="66.0" y="227.9" width="3.2" height="3.2" class="hg"/>
<rect x="66.6" y="220.1" width="3.2" height="3.2" class="hg"/>
<rect x="67.1" y="220.8" width="3.2" height="3.2" class="hg"/>
<rect x="67.8" y="228.1" width="3.2" height="3.2" class="hg"/>
<rect x="68.4" y="223.1" width="3.2" height="3.2" class="hg"/>
<rect x="68.9" y="222.1" width="3.2" height="3.2" class="hg"/>
<rect x="69.5" y="222.6" width="3.2" height="3.2" class="hg"/>
<rect x="70.0" y="226.0" width="3.2" height="3.2" class="hg"/>
<rect x="70.7" y="229.3" width="3.2" height="3.2" class="hg"/>
<rect x="70.9" y="231.0" width="3.2" height="3.2" class="hg"/>
<rect x="71.8" y="231.1" width="3.2" height="3.2" class="hg"/>
<rect x="71.9" y="221.3" width="3.2" height="3.2" class="hg"/>
<rect x="72.8" y="222.5" width="3.2" height="3.2" class="hg"/>
<rect x="73.6" y="227.4" width="3.2" height="3.2" class="hg"/>
<rect x="74.2" y="229.9" width="3.2" height="3.2" class="hg"/>
<rect x="74.7" y="230.4" width="3.2" height="3.2" class="hg"/>
<rect x="75.2" y="231.8" width="3.2" height="3.2" class="hg"/>
<rect x="75.7" y="223.0" width="3.2" height="3.2" class="hg"/>
<rect x="76.3" y="226.5" width="3.2" height="3.2" class="hg"/>
<rect x="77.0" y="225.4" width="3.2" height="3.2" class="hg"/>
<rect x="77.3" y="225.9" width="3.2" height="3.2" class="hg"/>
<rect x="78.1" y="225.4" width="3.2" height="3.2" class="hg"/>
<rect x="78.7" y="232.4" width="3.2" height="3.2" class="hg"/>
<rect x="78.9" y="227.0" width="3.2" height="3.2" class="hg"/>
<rect x="79.8" y="233.3" width="3.2" height="3.2" class="hg"/>
<rect x="80.1" y="227.4" width="3.2" height="3.2" class="hg"/>
<rect x="80.9" y="227.7" width="3.2" height="3.2" class="hg"/>
<rect x="81.5" y="234.4" width="3.2" height="3.2" class="hg"/>
<rect x="81.8" y="234.8" width="3.2" height="3.2" class="hg"/>
<rect x="82.5" y="232.2" width="3.2" height="3.2" class="hg"/>
<rect x="83.2" y="233.1" width="3.2" height="3.2" class="hg"/>
<rect x="83.5" y="233.9" width="3.2" height="3.2" class="hg"/>
<rect x="84.0" y="237.8" width="3.2" height="3.2" class="hg"/>
<rect x="84.4" y="234.0" width="3.2" height="3.2" class="hg"/>
<rect x="85.2" y="238.3" width="3.2" height="3.2" class="hg"/>
<rect x="86.0" y="235.8" width="3.2" height="3.2" class="hg"/>
<rect x="86.2" y="239.0" width="3.2" height="3.2" class="hg"/>
<rect x="87.2" y="235.0" width="3.2" height="3.2" class="hg"/>
<rect x="87.5" y="240.1" width="3.2" height="3.2" class="hg"/>
<rect x="87.8" y="239.3" width="3.2" height="3.2" class="hg"/>
<rect x="88.4" y="238.6" width="3.2" height="3.2" class="hg"/>
<rect x="88.9" y="237.4" width="3.2" height="3.2" class="hg"/>
<rect x="89.8" y="239.9" width="3.2" height="3.2" class="hg"/>
<rect x="90.4" y="239.9" width="3.2" height="3.2" class="hg"/>
<rect x="90.7" y="239.1" width="3.2" height="3.2" class="hg"/>
<rect x="91.5" y="240.2" width="3.2" height="3.2" class="hg"/>
<rect x="91.8" y="243.3" width="3.2" height="3.2" class="hg"/>
<rect x="92.5" y="244.5" width="3.2" height="3.2" class="hg"/>
<rect x="93.0" y="242.8" width="3.2" height="3.2" class="hg"/>
<rect x="93.4" y="245.6" width="3.2" height="3.2" class="hg"/>
<rect x="94.2" y="245.4" width="3.2" height="3.2" class="hg"/>
<rect x="105.0" y="256.0" width="3.2" height="3.2" class="hg"/>
<rect x="133.3" y="273.1" width="3.2" height="3.2" class="hg"/>
<rect x="152.2" y="279.7" width="3.2" height="3.2" class="hg"/>
<rect x="171.0" y="279.2" width="3.2" height="3.2" class="hg"/>
<rect x="208.7" y="280.9" width="3.2" height="3.2" class="hg"/>
<rect x="227.6" y="282.4" width="3.2" height="3.2" class="hg"/>
<rect x="265.3" y="284.3" width="3.2" height="3.2" class="hg"/>
<rect x="284.2" y="285.3" width="3.2" height="3.2" class="hg"/>
<rect x="303.0" y="286.8" width="3.2" height="3.2" class="hg"/>
<path d="M62.2 306.8l2.1 3.6h-4.2z" class="ho"/>
<path d="M62.6 292.5l2.1 3.6h-4.2z" class="ho"/>
<path d="M63.5 268.8l2.1 3.6h-4.2z" class="ho"/>
<path d="M64.3 255.4l2.1 3.6h-4.2z" class="ho"/>
<path d="M65.0 240.8l2.1 3.6h-4.2z" class="ho"/>
<path d="M65.9 234.5l2.1 3.6h-4.2z" class="ho"/>
<path d="M66.5 232.7l2.1 3.6h-4.2z" class="ho"/>
<path d="M67.3 226.7l2.1 3.6h-4.2z" class="ho"/>
<path d="M68.5 220.4l2.1 3.6h-4.2z" class="ho"/>
<path d="M69.6 221.0l2.1 3.6h-4.2z" class="ho"/>
<path d="M71.4 229.6l2.1 3.6h-4.2z" class="ho"/>
<path d="M72.9 224.7l2.1 3.6h-4.2z" class="ho"/>
<path d="M74.2 230.6l2.1 3.6h-4.2z" class="ho"/>
<path d="M75.2 225.0l2.1 3.6h-4.2z" class="ho"/>
<path d="M77.1 230.8l2.1 3.6h-4.2z" class="ho"/>
<path d="M78.3 222.9l2.1 3.6h-4.2z" class="ho"/>
<path d="M80.0 225.6l2.1 3.6h-4.2z" class="ho"/>
<path d="M81.0 227.5l2.1 3.6h-4.2z" class="ho"/>
<path d="M82.5 233.8l2.1 3.6h-4.2z" class="ho"/>
<path d="M83.8 229.6l2.1 3.6h-4.2z" class="ho"/>
<path d="M85.4 231.3l2.1 3.6h-4.2z" class="ho"/>
<path d="M86.9 233.2l2.1 3.6h-4.2z" class="ho"/>
<path d="M88.0 238.1l2.1 3.6h-4.2z" class="ho"/>
<path d="M89.8 234.7l2.1 3.6h-4.2z" class="ho"/>
<path d="M91.3 239.2l2.1 3.6h-4.2z" class="ho"/>
<path d="M92.6 238.2l2.1 3.6h-4.2z" class="ho"/>
<path d="M93.7 240.8l2.1 3.6h-4.2z" class="ho"/>
<path d="M95.5 243.3l2.1 3.6h-4.2z" class="ho"/>
<path d="M106.6 254.5l2.1 3.6h-4.2z" class="ho"/>
<path d="M134.9 272.8l2.1 3.6h-4.2z" class="ho"/>
<path d="M153.8 276.7l2.1 3.6h-4.2z" class="ho"/>
<path d="M172.6 275.5l2.1 3.6h-4.2z" class="ho"/>
<path d="M210.4 275.0l2.1 3.6h-4.2z" class="ho"/>
<path d="M229.2 274.5l2.1 3.6h-4.2z" class="ho"/>
<path d="M266.9 275.5l2.1 3.6h-4.2z" class="ho"/>
<path d="M285.8 276.0l2.1 3.6h-4.2z" class="ho"/>
<path d="M304.6 275.0l2.1 3.6h-4.2z" class="ho"/>
<rect x="59.4" y="320.0" width="3.2" height="3.2" class="hg"/>
<circle cx="61.9" cy="319.6" r="1.7" class="hb"/>
<rect x="60.5" y="321.9" width="3.2" height="3.2" class="hg"/>
<rect x="59.3" y="321.2" width="3.2" height="3.2" class="hg"/>
<path d="M60.6 323.4l2.1 3.6h-4.2z" class="ho"/>
<rect x="59.1" y="321.0" width="3.2" height="3.2" class="hg"/>
<rect x="58.4" y="324.3" width="3.2" height="3.2" class="hg"/>
<circle cx="60.5" cy="325.4" r="1.7" class="hb"/>
<rect x="58.4" y="324.9" width="3.2" height="3.2" class="hg"/>
<rect x="59.8" y="324.3" width="3.2" height="3.2" class="hg"/>
<rect x="59.7" y="322.6" width="3.2" height="3.2" class="hg"/>
<circle cx="62.8" cy="322.4" r="1.7" class="hb"/>
<rect x="61.4" y="314.7" width="3.2" height="3.2" class="hg"/>
<rect x="58.4" y="323.1" width="3.2" height="3.2" class="hg"/>
<path d="M61.9 325.1l2.1 3.6h-4.2z" class="ho"/>
<rect x="59.3" y="323.9" width="3.2" height="3.2" class="hg"/>
<circle cx="62.0" cy="325.5" r="1.7" class="hb"/>
<path d="M60.0 322.4l2.1 3.6h-4.2z" class="ho"/>
<path d="M60.6 325.5l2.1 3.6h-4.2z" class="ho"/>
<rect x="60.8" y="320.9" width="3.2" height="3.2" class="hg"/>
<rect x="58.6" y="319.2" width="3.2" height="3.2" class="hg"/>
<circle cx="60.4" cy="325.3" r="1.7" class="hb"/>
<path d="M62.4 320.0l2.1 3.6h-4.2z" class="ho"/>
<path d="M61.1 318.4l2.1 3.6h-4.2z" class="ho"/>
<circle cx="62.2" cy="318.3" r="1.7" class="hb"/>
<rect x="60.1" y="324.8" width="3.2" height="3.2" class="hg"/>
<rect x="59.9" y="317.9" width="3.2" height="3.2" class="hg"/>
<rect x="58.4" y="322.8" width="3.2" height="3.2" class="hg"/>
<circle cx="60.0" cy="326.5" r="1.7" class="hb"/>
<rect x="58.4" y="326.0" width="3.2" height="3.2" class="hg"/>
<path d="M60.0 324.1l2.1 3.6h-4.2z" class="ho"/>
<rect x="59.7" y="318.4" width="3.2" height="3.2" class="hg"/>
<rect x="59.3" y="324.2" width="3.2" height="3.2" class="hg"/>
<rect x="60.4" y="320.2" width="3.2" height="3.2" class="hg"/>
<path d="M62.9 319.3l2.1 3.6h-4.2z" class="ho"/>
<rect x="58.4" y="322.0" width="3.2" height="3.2" class="hg"/>
<path d="M60.3 322.4l2.1 3.6h-4.2z" class="ho"/>
<rect x="60.8" y="323.5" width="3.2" height="3.2" class="hg"/>
<circle cx="61.3" cy="326.4" r="1.7" class="hb"/>
<path d="M61.3 320.0l2.1 3.6h-4.2z" class="ho"/>
<rect x="59.4" y="323.9" width="3.2" height="3.2" class="hg"/>
<path d="M62.0 323.5l2.1 3.6h-4.2z" class="ho"/>
<rect x="59.4" y="326.0" width="3.2" height="3.2" class="hg"/>
<rect x="58.9" y="324.6" width="3.2" height="3.2" class="hg"/>
<circle cx="61.2" cy="321.9" r="1.7" class="hb"/>
<rect x="60.7" y="317.5" width="3.2" height="3.2" class="hg"/>
<circle cx="61.4" cy="323.6" r="1.7" class="hb"/>
<rect x="59.9" y="318.7" width="3.2" height="3.2" class="hg"/>
</g>
<rect x="59.50" y="201.30" width="264.00" height="146.80" fill="none" stroke="#595959" stroke-width="1.1"/>
<path d="M55.50 348.10H59.50" stroke="#595959" stroke-width="1.1"/>
<path d="M55.50 323.63H59.50" stroke="#595959" stroke-width="1.1"/>
<path d="M55.50 299.17H59.50" stroke="#595959" stroke-width="1.1"/>
<path d="M55.50 274.70H59.50" stroke="#595959" stroke-width="1.1"/>
<path d="M55.50 250.23H59.50" stroke="#595959" stroke-width="1.1"/>
<path d="M55.50 225.77H59.50" stroke="#595959" stroke-width="1.1"/>
<path d="M55.50 201.30H59.50" stroke="#595959" stroke-width="1.1"/>
<path d="M59.50 348.10V352.10" stroke="#595959" stroke-width="1.1"/>
<path d="M97.21 348.10V352.10" stroke="#595959" stroke-width="1.1"/>
<path d="M134.93 348.10V352.10" stroke="#595959" stroke-width="1.1"/>
<path d="M172.64 348.10V352.10" stroke="#595959" stroke-width="1.1"/>
<path d="M210.36 348.10V352.10" stroke="#595959" stroke-width="1.1"/>
<path d="M248.07 348.10V352.10" stroke="#595959" stroke-width="1.1"/>
<path d="M285.79 348.10V352.10" stroke="#595959" stroke-width="1.1"/>
<path d="M323.50 348.10V352.10" stroke="#595959" stroke-width="1.1"/>
<text x="47.90" y="352.50" text-anchor="end" class="t">0.00</text>
<text x="47.90" y="328.03" text-anchor="end" class="t">0.01</text>
<text x="47.90" y="303.57" text-anchor="end" class="t">0.02</text>
<text x="47.90" y="279.10" text-anchor="end" class="t">0.03</text>
<text x="47.90" y="254.63" text-anchor="end" class="t">0.04</text>
<text x="47.90" y="230.17" text-anchor="end" class="t">0.05</text>
<text x="47.90" y="205.70" text-anchor="end" class="t">0.06</text>
<text x="59.50" y="368.30" text-anchor="middle" class="t">0</text>
<text x="97.21" y="368.30" text-anchor="middle" class="t">20</text>
<text x="134.93" y="368.30" text-anchor="middle" class="t">40</text>
<text x="172.64" y="368.30" text-anchor="middle" class="t">60</text>
<text x="210.36" y="368.30" text-anchor="middle" class="t">80</text>
<text x="248.07" y="368.30" text-anchor="middle" class="t">100</text>
<text x="285.79" y="368.30" text-anchor="middle" class="t">120</text>
<text x="323.50" y="368.30" text-anchor="middle" class="t">140</text>
<text x="106.50" y="383.80" class="b">anaerobic storage period [d]</text>
<text transform="translate(11.60 356.50) rotate(-90)" x="0" y="0" class="b">CH<tspan dy="2.6" class="s">4</tspan><tspan dy="-2.6"> quantity [mg kg</tspan><tspan dy="2.6" class="s">DM</tspan><tspan dy="-8" class="s">-1</tspan><tspan dy="5.4">]</tspan></text>
<g>
<path d="M418.6 268.3V273.7M416.0 268.3h5.2M416.0 273.7h5.2" class="eb"/>
<path d="M420.5 267.4V272.8M417.9 267.4h5.2M417.9 272.8h5.2" class="eb"/>
<path d="M422.3 268.6V273.8M419.7 268.6h5.2M419.7 273.8h5.2" class="eb"/>
<path d="M424.2 271.0V275.9M421.6 271.0h5.2M421.6 275.9h5.2" class="eb"/>
<path d="M426.0 273.3V278.0M423.4 273.3h5.2M423.4 278.0h5.2" class="eb"/>
<path d="M427.8 275.0V279.5M425.2 275.0h5.2M425.2 279.5h5.2" class="eb"/>
<path d="M429.7 276.8V281.1M427.1 276.8h5.2M427.1 281.1h5.2" class="eb"/>
<path d="M431.5 278.4V282.5M428.9 278.4h5.2M428.9 282.5h5.2" class="eb"/>
<path d="M433.3 279.9V283.7M430.7 279.9h5.2M430.7 283.7h5.2" class="eb"/>
<path d="M435.2 281.2V284.8M432.6 281.2h5.2M432.6 284.8h5.2" class="eb"/>
<path d="M437.0 282.1V285.6M434.4 282.1h5.2M434.4 285.6h5.2" class="eb"/>
<path d="M438.9 283.0V286.4M436.3 283.0h5.2M436.3 286.4h5.2" class="eb"/>
<path d="M440.7 283.7V287.1M438.1 283.7h5.2M438.1 287.1h5.2" class="eb"/>
<path d="M442.5 284.4V287.7M439.9 284.4h5.2M439.9 287.7h5.2" class="eb"/>
<path d="M444.4 285.1V288.2M441.8 285.1h5.2M441.8 288.2h5.2" class="eb"/>
<path d="M446.2 285.6V288.6M443.6 285.6h5.2M443.6 288.6h5.2" class="eb"/>
<path d="M448.1 286.0V289.0M445.5 286.0h5.2M445.5 289.0h5.2" class="eb"/>
<path d="M449.9 286.4V289.3M447.3 286.4h5.2M447.3 289.3h5.2" class="eb"/>
<path d="M451.7 286.9V289.7M449.1 286.9h5.2M449.1 289.7h5.2" class="eb"/>
<path d="M453.6 282.0V298.6M450.2 282.0h6.8M450.2 298.6h6.8" class="eb"/>
<path d="M472.0 302.2V315.1M468.6 302.2h6.8M468.6 315.1h6.8" class="eb"/>
<path d="M545.5 312.7V323.3M542.1 312.7h6.8M542.1 323.3h6.8" class="eb"/>
<path d="M600.7 316.0V327.0M597.3 316.0h6.8M597.3 327.0h6.8" class="eb"/>
<path d="M665.0 320.2V330.1M661.6 320.2h6.8M661.6 330.1h6.8" class="eb"/>
<g stroke="#4472C4" stroke-linecap="round" fill="none" opacity="0.85"><path d="M418.6 271.0L418.8 270.9M418.8 270.9L418.9 270.8M418.9 270.8L419.0 270.7M419.0 270.7L419.1 270.6M419.1 270.6L419.3 270.5M419.3 270.5L419.4 270.4M419.4 270.4L419.5 270.3M419.5 270.3L419.7 270.3M419.7 270.3L419.8 270.2M419.8 270.2L419.9 270.2M419.9 270.2L420.0 270.2M420.0 270.2L420.2 270.1M420.2 270.1L420.3 270.1M420.3 270.1L420.4 270.1M420.4 270.1L420.5 270.1M420.5 270.1L420.7 270.1M420.7 270.1L420.8 270.1M420.8 270.1L420.9 270.2M420.9 270.2L421.0 270.2M421.0 270.2L421.2 270.3M421.2 270.3L421.3 270.4M421.3 270.4L421.4 270.4M421.4 270.4L421.6 270.5M421.6 270.5L421.7 270.6M421.7 270.6L421.8 270.7" stroke-width="3.6"/><path d="M421.8 270.7L421.9 270.8M421.9 270.8L422.1 270.9M422.1 270.9L422.2 271.0M422.2 271.0L422.3 271.2M422.3 271.2L422.7 271.6M422.7 271.6L423.1 272.1M423.1 272.1L423.5 272.6M423.5 272.6L423.9 273.1M423.9 273.1L424.3 273.6" stroke-width="3.4"/><path d="M424.3 273.6L424.7 274.2M424.7 274.2L425.1 274.7M425.1 274.7L425.5 275.1M425.5 275.1L425.9 275.5M425.9 275.5L426.3 275.9M426.3 275.9L426.7 276.2" stroke-width="3.2"/><path d="M426.7 276.2L427.1 276.6M427.1 276.6L427.5 276.9M427.5 276.9L427.9 277.3M427.9 277.3L428.3 277.7M428.3 277.7L428.6 278.0M428.6 278.0L429.0 278.4M429.0 278.4L429.4 278.7" stroke-width="3.0"/><path d="M429.4 278.7L429.8 279.1M429.8 279.1L430.2 279.4M430.2 279.4L430.6 279.7M430.6 279.7L431.0 280.1M431.0 280.1L431.4 280.4M431.4 280.4L431.8 280.7" stroke-width="2.8"/><path d="M431.8 280.7L432.2 281.0M432.2 281.0L432.6 281.3M432.6 281.3L433.0 281.6M433.0 281.6L433.4 281.9M433.4 281.9L433.8 282.1M433.8 282.1L434.2 282.4" stroke-width="2.6"/><path d="M434.2 282.4L434.6 282.6M434.6 282.6L435.0 282.8M435.0 282.8L435.4 283.1M435.4 283.1L435.8 283.3M435.8 283.3L436.2 283.5M436.2 283.5L436.6 283.7M436.6 283.7L437.0 283.8M437.0 283.8L437.4 284.0M437.4 284.0L437.7 284.2M437.7 284.2L438.1 284.4M438.1 284.4L438.5 284.5" stroke-width="2.4"/><path d="M438.5 284.5L438.9 284.7M438.9 284.7L439.3 284.9M439.3 284.9L439.7 285.0M439.7 285.0L440.1 285.2M440.1 285.2L440.5 285.3M440.5 285.3L440.9 285.5M440.9 285.5L441.3 285.6M441.3 285.6L441.7 285.7M441.7 285.7L442.1 285.9M442.1 285.9L442.5 286.0M442.5 286.0L442.9 286.1M442.9 286.1L443.3 286.3M443.3 286.3L443.7 286.4M443.7 286.4L444.1 286.5M444.1 286.5L444.5 286.7" stroke-width="2.2"/><path d="M444.5 286.7L444.9 286.8M444.9 286.8L445.3 286.9M445.3 286.9L445.7 287.0M445.7 287.0L446.1 287.1M446.1 287.1L446.4 287.2M446.4 287.2L446.8 287.2M446.8 287.2L447.2 287.3M447.2 287.3L447.6 287.4M447.6 287.4L448.0 287.5M448.0 287.5L448.4 287.5M448.4 287.5L448.8 287.6M448.8 287.6L449.2 287.7M449.2 287.7L449.6 287.8M449.6 287.8L450.0 287.9M450.0 287.9L450.4 288.0M450.4 288.0L450.8 288.1" stroke-width="2.0"/><path d="M450.8 288.1L451.2 288.2M451.2 288.2L451.6 288.3M451.6 288.3L452.0 288.4M452.0 288.4L452.4 288.5M452.4 288.5L452.8 288.7M452.8 288.7L453.2 288.8M453.2 288.8L453.6 289.0" stroke-width="1.8"/></g>
<path d="M416.8 348.1 L416.9 332.0 L417.1 318.1 L417.2 307.4 L417.4 297.9 L417.5 289.8 L417.6 283.9 L417.8 280.6 L417.9 278.0 L418.1 275.7 L418.2 273.9 L418.4 272.4 L418.5 271.5 L418.6 271.0 L418.8 270.9 L418.9 270.8 L419.1 270.6 L419.2 270.5 L419.3 270.4 L419.5 270.4 L419.6 270.3 L419.8 270.2 L419.9 270.2 L420.1 270.2 L420.2 270.1 L420.3 270.1 L420.5 270.1 L420.6 270.1 L420.8 270.1 L420.9 270.2 L421.0 270.2 L421.2 270.3 L421.3 270.4 L421.5 270.5 L421.6 270.5 L421.8 270.7 L421.9 270.8 L422.0 270.9 L422.2 271.0 L422.3 271.2 L422.7 271.6 L423.2 272.1 L423.6 272.7 L424.0 273.2 L424.4 273.8 L424.8 274.3 L425.2 274.8 L425.7 275.3 L426.1 275.7 L426.5 276.1 L426.9 276.4 L427.3 276.8 L427.7 277.2 L428.2 277.6 L428.6 277.9 L429.0 278.3 L429.4 278.7 L429.8 279.1 L430.2 279.4 L430.7 279.8 L431.1 280.1 L431.5 280.4 L431.9 280.8 L432.3 281.1 L432.7 281.4 L433.2 281.7 L433.6 282.0 L434.0 282.3 L434.4 282.5 L434.8 282.8 L435.2 283.0 L435.7 283.2 L436.1 283.4 L436.5 283.6 L436.9 283.8 L437.3 284.0 L437.8 284.2 L438.2 284.4 L438.6 284.6 L439.0 284.7 L439.4 284.9 L439.8 285.1 L440.3 285.2 L440.7 285.4 L441.1 285.5 L441.5 285.7 L441.9 285.8 L442.3 286.0 L442.8 286.1 L443.2 286.2 L443.6 286.4 L444.0 286.5 L444.4 286.6 L444.8 286.8 L445.3 286.9 L445.7 287.0 L446.1 287.1 L446.5 287.2 L446.9 287.3 L447.3 287.3 L447.8 287.4 L448.2 287.5 L448.6 287.6 L449.0 287.7 L449.4 287.7 L449.8 287.8 L450.3 287.9 L450.7 288.0 L451.1 288.1 L451.5 288.3 L451.9 288.4 L452.4 288.5 L452.8 288.7 L453.2 288.8 L453.6 289.0 L454.0 289.3 L454.4 289.6 L454.9 290.1 L455.3 290.6 L455.7 291.1 L456.1 291.7 L456.5 292.2 L456.9 292.7 L457.4 293.2 L457.8 293.6 L458.2 294.1 L458.6 294.5 L459.0 295.0 L459.4 295.4 L459.9 295.9 L460.3 296.3 L460.7 296.7 L461.1 297.2 L461.5 297.6 L461.9 298.0 L462.4 298.4 L462.8 298.8 L463.2 299.2 L463.6 299.6 L464.0 299.9 L464.4 300.3 L464.9 300.6 L465.3 301.0 L465.7 301.3 L466.1 301.6 L466.5 302.0 L467.0 302.3 L467.4 302.6 L467.8 302.8 L468.2 303.1 L468.6 303.3 L469.0 303.6 L469.5 303.8 L469.9 304.0 L470.3 304.2 L470.7 304.4 L471.1 304.6 L471.5 304.8 L472.0 305.0 L475.2 306.1 L478.5 307.0 L481.8 307.9 L485.0 308.8 L488.3 309.5 L491.6 310.1 L494.9 310.7 L498.1 311.1 L501.4 311.5 L504.7 311.9 L507.9 312.2 L511.2 312.6 L514.5 312.9 L517.8 313.1 L521.0 313.4 L524.3 313.7 L527.6 314.0 L530.9 314.4 L534.1 314.9 L537.4 315.4 L540.7 315.9 L543.9 316.3 L547.2 316.7 L550.5 317.1 L553.8 317.4 L557.0 317.7 L560.3 318.0 L563.6 318.3 L566.8 318.7 L570.1 319.0 L573.4 319.3 L576.7 319.6 L579.9 319.8 L583.2 320.1 L586.5 320.3 L589.8 320.6 L593.0 320.8 L596.3 321.0 L599.6 321.2 L602.8 321.5 L606.1 321.7 L609.4 321.9 L612.7 322.2 L615.9 322.4 L619.2 322.6 L622.5 322.8 L625.7 323.0 L629.0 323.2 L632.3 323.4 L635.6 323.6 L638.8 323.8 L642.1 324.0 L645.4 324.1 L648.6 324.3 L651.9 324.5 L655.2 324.7 L658.5 324.8 L661.7 325.0 L665.0 325.2" fill="none" stroke="#4472C4" stroke-width="2.4" stroke-linejoin="round" stroke-linecap="round"/>
<circle cx="418.6" cy="271.0" r="2.4" class="fb"/>
<circle cx="420.5" cy="270.1" r="2.4" class="fb"/>
<circle cx="422.3" cy="271.2" r="2.4" class="fb"/>
<circle cx="424.2" cy="273.5" r="2.4" class="fb"/>
<circle cx="426.0" cy="275.6" r="2.4" class="fb"/>
<circle cx="427.8" cy="277.3" r="2.4" class="fb"/>
<circle cx="429.7" cy="278.9" r="2.4" class="fb"/>
<circle cx="431.5" cy="280.5" r="2.4" class="fb"/>
<circle cx="433.3" cy="281.8" r="2.4" class="fb"/>
<circle cx="435.2" cy="283.0" r="2.4" class="fb"/>
<circle cx="437.0" cy="283.9" r="2.4" class="fb"/>
<circle cx="438.9" cy="284.7" r="2.4" class="fb"/>
<circle cx="440.7" cy="285.4" r="2.4" class="fb"/>
<circle cx="442.5" cy="286.0" r="2.4" class="fb"/>
<circle cx="444.4" cy="286.6" r="2.4" class="fb"/>
<circle cx="446.2" cy="287.1" r="2.4" class="fb"/>
<circle cx="448.1" cy="287.5" r="2.4" class="fb"/>
<circle cx="449.9" cy="287.8" r="2.4" class="fb"/>
<circle cx="451.7" cy="288.3" r="2.4" class="fb"/>
<circle cx="453.6" cy="288.5" r="2.4" class="fb"/>
<circle cx="472.0" cy="306.3" r="2.4" class="fb"/>
<circle cx="545.5" cy="316.5" r="2.4" class="fb"/>
<circle cx="600.7" cy="321.3" r="2.4" class="fb"/>
<circle cx="665.0" cy="325.2" r="2.4" class="fb"/>
<path d="M418.6 253.7V262.7M416.0 253.7h5.2M416.0 262.7h5.2" class="eo"/>
<path d="M420.5 253.9V264.6M417.9 253.9h5.2M417.9 264.6h5.2" class="eo"/>
<path d="M422.3 257.0V267.6M419.7 257.0h5.2M419.7 267.6h5.2" class="eo"/>
<path d="M424.2 259.5V270.0M421.6 259.5h5.2M421.6 270.0h5.2" class="eo"/>
<path d="M426.0 261.9V271.9M423.4 261.9h5.2M423.4 271.9h5.2" class="eo"/>
<path d="M427.8 264.1V273.7M425.2 264.1h5.2M425.2 273.7h5.2" class="eo"/>
<path d="M429.7 266.3V275.4M427.1 266.3h5.2M427.1 275.4h5.2" class="eo"/>
<path d="M431.5 268.6V276.9M428.9 268.6h5.2M428.9 276.9h5.2" class="eo"/>
<path d="M433.3 270.8V278.4M430.7 270.8h5.2M430.7 278.4h5.2" class="eo"/>
<path d="M435.2 272.9V279.7M432.6 272.9h5.2M432.6 279.7h5.2" class="eo"/>
<path d="M437.0 274.8V280.7M434.4 274.8h5.2M434.4 280.7h5.2" class="eo"/>
<path d="M438.9 276.6V281.6M436.3 276.6h5.2M436.3 281.6h5.2" class="eo"/>
<path d="M440.7 278.2V282.7M438.1 278.2h5.2M438.1 282.7h5.2" class="eo"/>
<path d="M442.5 279.6V283.7M439.9 279.6h5.2M439.9 283.7h5.2" class="eo"/>
<path d="M444.4 281.1V284.8M441.8 281.1h5.2M441.8 284.8h5.2" class="eo"/>
<path d="M446.2 282.5V285.9M443.6 282.5h5.2M443.6 285.9h5.2" class="eo"/>
<path d="M448.1 283.9V287.1M445.5 283.9h5.2M445.5 287.1h5.2" class="eo"/>
<path d="M449.9 285.3V288.3M447.3 285.3h5.2M447.3 288.3h5.2" class="eo"/>
<path d="M451.7 286.7V289.5M449.1 286.7h5.2M449.1 289.5h5.2" class="eo"/>
<path d="M453.6 282.0V294.9M450.2 282.0h6.8M450.2 294.9h6.8" class="eo"/>
<path d="M472.0 299.8V309.6M468.6 299.8h6.8M468.6 309.6h6.8" class="eo"/>
<path d="M545.5 313.2V318.7M542.1 313.2h6.8M542.1 318.7h6.8" class="eo"/>
<path d="M600.7 316.9V322.4M597.3 316.9h6.8M597.3 322.4h6.8" class="eo"/>
<path d="M665.0 320.6V325.2M661.6 320.6h6.8M661.6 325.2h6.8" class="eo"/>
<g stroke="#ED7D31" stroke-linecap="round" fill="none" opacity="0.85"><path d="M418.6 258.2L418.8 258.2M429.8 271.0L430.2 271.4M430.2 271.4L430.6 271.9" stroke-width="6.0"/><path d="M418.8 258.2L418.9 258.2M428.6 269.8L429.0 270.2M429.0 270.2L429.4 270.6M429.4 270.6L429.8 271.0" stroke-width="6.2"/><path d="M418.9 258.2L419.0 258.2M419.0 258.2L419.1 258.2M427.5 268.5L427.9 268.9M427.9 268.9L428.3 269.4M428.3 269.4L428.6 269.8" stroke-width="6.4"/><path d="M419.1 258.2L419.3 258.2M426.3 267.2L426.7 267.7M426.7 267.7L427.1 268.1M427.1 268.1L427.5 268.5" stroke-width="6.6"/><path d="M419.3 258.2L419.4 258.2M425.1 265.9L425.5 266.3M425.5 266.3L425.9 266.8M425.9 266.8L426.3 267.2" stroke-width="6.8"/><path d="M419.4 258.2L419.5 258.2M421.6 261.2L421.7 261.3M421.7 261.3L421.8 261.5M421.8 261.5L421.9 261.7M421.9 261.7L422.1 261.9M422.1 261.9L422.2 262.1M422.2 262.1L422.3 262.3M422.3 262.3L422.7 262.8M422.7 262.8L423.1 263.4M423.1 263.4L423.5 263.9M423.5 263.9L423.9 264.4M423.9 264.4L424.3 264.9M424.3 264.9L424.7 265.4M424.7 265.4L425.1 265.9" stroke-width="7.0"/><path d="M419.5 258.2L419.7 258.2M419.7 258.2L419.8 258.3M419.8 258.3L419.9 258.4M419.9 258.4L420.0 258.5M420.0 258.5L420.2 258.7M420.2 258.7L420.3 258.9M420.3 258.9L420.4 259.1M420.4 259.1L420.5 259.4M420.5 259.4L420.7 259.6M420.7 259.6L420.8 259.9M420.8 259.9L420.9 260.1M420.9 260.1L421.0 260.3M421.0 260.3L421.2 260.6M421.2 260.6L421.3 260.8M421.3 260.8L421.4 261.0M421.4 261.0L421.6 261.2" stroke-width="7.2"/><path d="M430.6 271.9L431.0 272.3" stroke-width="5.8"/><path d="M431.0 272.3L431.4 272.7M431.4 272.7L431.8 273.1" stroke-width="5.6"/><path d="M431.8 273.1L432.2 273.5M432.2 273.5L432.6 273.9" stroke-width="5.4"/><path d="M432.6 273.9L433.0 274.3M433.0 274.3L433.4 274.7" stroke-width="5.2"/><path d="M433.4 274.7L433.8 275.0M433.8 275.0L434.2 275.4" stroke-width="5.0"/><path d="M434.2 275.4L434.6 275.8" stroke-width="4.8"/><path d="M434.6 275.8L435.0 276.1M435.0 276.1L435.4 276.4" stroke-width="4.6"/><path d="M435.4 276.4L435.8 276.8M435.8 276.8L436.2 277.1" stroke-width="4.4"/><path d="M436.2 277.1L436.6 277.4" stroke-width="4.2"/><path d="M436.6 277.4L437.0 277.7M437.0 277.7L437.4 278.0" stroke-width="4.0"/><path d="M437.4 278.0L437.7 278.3M437.7 278.3L438.1 278.6" stroke-width="3.8"/><path d="M438.1 278.6L438.5 278.9" stroke-width="3.6"/><path d="M438.5 278.9L438.9 279.2M438.9 279.2L439.3 279.5" stroke-width="3.4"/><path d="M439.3 279.5L439.7 279.7M439.7 279.7L440.1 280.0" stroke-width="3.2"/><path d="M440.1 280.0L440.5 280.3M440.5 280.3L440.9 280.6M440.9 280.6L441.3 280.9" stroke-width="3.0"/><path d="M441.3 280.9L441.7 281.1M441.7 281.1L442.1 281.4M442.1 281.4L442.5 281.7M442.5 281.7L442.9 281.9" stroke-width="2.8"/><path d="M442.9 281.9L443.3 282.2M443.3 282.2L443.7 282.5M443.7 282.5L444.1 282.7M444.1 282.7L444.5 283.0" stroke-width="2.6"/><path d="M444.5 283.0L444.9 283.3M444.9 283.3L445.3 283.5M445.3 283.5L445.7 283.8M445.7 283.8L446.1 284.1" stroke-width="2.4"/><path d="M446.1 284.1L446.4 284.4M446.4 284.4L446.8 284.6M446.8 284.6L447.2 284.9M447.2 284.9L447.6 285.2M447.6 285.2L448.0 285.5M448.0 285.5L448.4 285.8M448.4 285.8L448.8 286.1" stroke-width="2.2"/><path d="M448.8 286.1L449.2 286.3M449.2 286.3L449.6 286.6M449.6 286.6L450.0 286.9M450.0 286.9L450.4 287.2M450.4 287.2L450.8 287.5M450.8 287.5L451.2 287.8" stroke-width="2.0"/><path d="M451.2 287.8L451.6 288.0M451.6 288.0L452.0 288.3M452.0 288.3L452.4 288.6M452.4 288.6L452.8 288.8M452.8 288.8L453.2 289.1M453.2 289.1L453.6 289.4" stroke-width="1.8"/></g>
<path d="M416.8 348.1 L416.9 327.5 L417.1 310.1 L417.2 297.8 L417.4 287.6 L417.5 279.2 L417.6 273.1 L417.8 269.4 L417.9 266.3 L418.1 263.6 L418.2 261.4 L418.4 259.7 L418.5 258.6 L418.6 258.2 L418.8 258.2 L418.9 258.2 L419.1 258.2 L419.2 258.2 L419.3 258.2 L419.5 258.2 L419.6 258.2 L419.8 258.3 L419.9 258.4 L420.1 258.5 L420.2 258.7 L420.3 259.0 L420.5 259.2 L420.6 259.5 L420.8 259.8 L420.9 260.1 L421.0 260.3 L421.2 260.6 L421.3 260.8 L421.5 261.0 L421.6 261.2 L421.8 261.4 L421.9 261.6 L422.0 261.9 L422.2 262.1 L422.3 262.3 L422.7 262.8 L423.2 263.4 L423.6 264.0 L424.0 264.5 L424.4 265.1 L424.8 265.6 L425.2 266.1 L425.7 266.5 L426.1 267.0 L426.5 267.5 L426.9 267.9 L427.3 268.4 L427.7 268.8 L428.2 269.3 L428.6 269.7 L429.0 270.1 L429.4 270.6 L429.8 271.0 L430.2 271.5 L430.7 271.9 L431.1 272.3 L431.5 272.8 L431.9 273.2 L432.3 273.6 L432.7 274.0 L433.2 274.4 L433.6 274.8 L434.0 275.2 L434.4 275.6 L434.8 276.0 L435.2 276.3 L435.7 276.7 L436.1 277.0 L436.5 277.3 L436.9 277.7 L437.3 278.0 L437.8 278.3 L438.2 278.6 L438.6 278.9 L439.0 279.2 L439.4 279.5 L439.8 279.8 L440.3 280.1 L440.7 280.4 L441.1 280.7 L441.5 281.0 L441.9 281.3 L442.3 281.6 L442.8 281.8 L443.2 282.1 L443.6 282.4 L444.0 282.7 L444.4 283.0 L444.8 283.2 L445.3 283.5 L445.7 283.8 L446.1 284.1 L446.5 284.4 L446.9 284.7 L447.3 285.0 L447.8 285.3 L448.2 285.6 L448.6 285.9 L449.0 286.2 L449.4 286.5 L449.8 286.8 L450.3 287.1 L450.7 287.4 L451.1 287.7 L451.5 288.0 L451.9 288.3 L452.4 288.6 L452.8 288.8 L453.2 289.1 L453.6 289.4 L454.0 289.7 L454.4 290.1 L454.9 290.5 L455.3 290.9 L455.7 291.3 L456.1 291.8 L456.5 292.2 L456.9 292.7 L457.4 293.2 L457.8 293.7 L458.2 294.2 L458.6 294.8 L459.0 295.4 L459.4 296.0 L459.9 296.7 L460.3 297.3 L460.7 297.9 L461.1 298.5 L461.5 299.0 L461.9 299.5 L462.4 300.0 L462.8 300.4 L463.2 300.8 L463.6 301.1 L464.0 301.5 L464.4 301.8 L464.9 302.1 L465.3 302.4 L465.7 302.7 L466.1 302.9 L466.5 303.2 L467.0 303.4 L467.4 303.6 L467.8 303.8 L468.2 304.0 L468.6 304.2 L469.0 304.3 L469.5 304.5 L469.9 304.6 L470.3 304.7 L470.7 304.8 L471.1 304.9 L471.5 305.0 L472.0 305.2 L475.2 306.0 L478.5 306.7 L481.8 307.5 L485.0 308.4 L488.3 309.2 L491.6 309.8 L494.9 310.3 L498.1 310.8 L501.4 311.2 L504.7 311.7 L507.9 312.0 L511.2 312.4 L514.5 312.8 L517.8 313.1 L521.0 313.4 L524.3 313.7 L527.6 314.0 L530.9 314.3 L534.1 314.7 L537.4 315.0 L540.7 315.3 L543.9 315.6 L547.2 316.0 L550.5 316.3 L553.8 316.7 L557.0 317.0 L560.3 317.3 L563.6 317.6 L566.8 317.9 L570.1 318.2 L573.4 318.4 L576.7 318.7 L579.9 318.9 L583.2 319.2 L586.5 319.4 L589.8 319.6 L593.0 319.8 L596.3 320.0 L599.6 320.1 L602.8 320.3 L606.1 320.5 L609.4 320.7 L612.7 320.9 L615.9 321.1 L619.2 321.3 L622.5 321.5 L625.7 321.7 L629.0 321.8 L632.3 322.0 L635.6 322.1 L638.8 322.3 L642.1 322.4 L645.4 322.5 L648.6 322.7 L651.9 322.8 L655.2 322.9 L658.5 323.0 L661.7 323.1 L665.0 323.1" fill="none" stroke="#ED7D31" stroke-width="2.4" stroke-linejoin="round" stroke-linecap="round"/>
<path d="M418.6 255.4l2.6 4.6h-5.2z" class="fo"/>
<path d="M420.5 256.5l2.6 4.6h-5.2z" class="fo"/>
<path d="M422.3 259.5l2.6 4.6h-5.2z" class="fo"/>
<path d="M424.2 262.0l2.6 4.6h-5.2z" class="fo"/>
<path d="M426.0 264.2l2.6 4.6h-5.2z" class="fo"/>
<path d="M427.8 266.2l2.6 4.6h-5.2z" class="fo"/>
<path d="M429.7 268.1l2.6 4.6h-5.2z" class="fo"/>
<path d="M431.5 270.0l2.6 4.6h-5.2z" class="fo"/>
<path d="M433.3 271.9l2.6 4.6h-5.2z" class="fo"/>
<path d="M435.2 273.5l2.6 4.6h-5.2z" class="fo"/>
<path d="M437.0 275.0l2.6 4.6h-5.2z" class="fo"/>
<path d="M438.9 276.4l2.6 4.6h-5.2z" class="fo"/>
<path d="M440.7 277.7l2.6 4.6h-5.2z" class="fo"/>
<path d="M442.5 279.0l2.6 4.6h-5.2z" class="fo"/>
<path d="M444.4 280.2l2.6 4.6h-5.2z" class="fo"/>
<path d="M446.2 281.4l2.6 4.6h-5.2z" class="fo"/>
<path d="M448.1 282.8l2.6 4.6h-5.2z" class="fo"/>
<path d="M449.9 284.1l2.6 4.6h-5.2z" class="fo"/>
<path d="M451.7 285.4l2.6 4.6h-5.2z" class="fo"/>
<path d="M453.6 284.8l2.6 4.6h-5.2z" class="fo"/>
<path d="M472.0 302.4l2.6 4.6h-5.2z" class="fo"/>
<path d="M545.5 313.1l2.6 4.6h-5.2z" class="fo"/>
<path d="M600.7 317.5l2.6 4.6h-5.2z" class="fo"/>
<path d="M665.0 320.4l2.6 4.6h-5.2z" class="fo"/>
<path d="M418.6 224.5V231.3M416.0 224.5h5.2M416.0 231.3h5.2" class="eg"/>
<path d="M420.5 223.9V232.0M417.9 223.9h5.2M417.9 232.0h5.2" class="eg"/>
<path d="M422.3 226.0V234.4M419.7 226.0h5.2M419.7 234.4h5.2" class="eg"/>
<path d="M424.2 229.7V238.4M421.6 229.7h5.2M421.6 238.4h5.2" class="eg"/>
<path d="M426.0 232.9V241.7M423.4 232.9h5.2M423.4 241.7h5.2" class="eg"/>
<path d="M427.8 235.3V243.6M425.2 235.3h5.2M425.2 243.6h5.2" class="eg"/>
<path d="M429.7 237.4V245.2M427.1 237.4h5.2M427.1 245.2h5.2" class="eg"/>
<path d="M431.5 239.5V246.8M428.9 239.5h5.2M428.9 246.8h5.2" class="eg"/>
<path d="M433.3 241.8V248.4M430.7 241.8h5.2M430.7 248.4h5.2" class="eg"/>
<path d="M435.2 244.1V249.9M432.6 244.1h5.2M432.6 249.9h5.2" class="eg"/>
<path d="M437.0 246.4V251.5M434.4 246.4h5.2M434.4 251.5h5.2" class="eg"/>
<path d="M438.9 248.7V253.1M436.3 248.7h5.2M436.3 253.1h5.2" class="eg"/>
<path d="M440.7 250.6V254.7M438.1 250.6h5.2M438.1 254.7h5.2" class="eg"/>
<path d="M442.5 252.6V256.3M439.9 252.6h5.2M439.9 256.3h5.2" class="eg"/>
<path d="M444.4 254.7V258.1M441.8 254.7h5.2M441.8 258.1h5.2" class="eg"/>
<path d="M446.2 256.9V260.2M443.6 256.9h5.2M443.6 260.2h5.2" class="eg"/>
<path d="M448.1 259.3V262.6M445.5 259.3h5.2M445.5 262.6h5.2" class="eg"/>
<path d="M449.9 261.8V265.1M447.3 261.8h5.2M447.3 265.1h5.2" class="eg"/>
<path d="M451.7 264.4V267.6M449.1 264.4h5.2M449.1 267.6h5.2" class="eg"/>
<path d="M453.6 260.0V279.3M450.2 260.0h6.8M450.2 279.3h6.8" class="eg"/>
<path d="M472.0 286.6V296.7M468.6 286.6h6.8M468.6 296.7h6.8" class="eg"/>
<path d="M545.5 304.1V310.5M542.1 304.1h6.8M542.1 310.5h6.8" class="eg"/>
<path d="M600.7 310.5V314.2M597.3 310.5h6.8M597.3 314.2h6.8" class="eg"/>
<path d="M665.0 314.0V317.3M661.6 314.0h6.8M661.6 317.3h6.8" class="eg"/>
<g stroke="#A5A5A5" stroke-linecap="round" fill="none" opacity="0.85"><path d="M418.6 227.9L418.8 227.9M433.0 244.7L433.4 245.1M433.4 245.1L433.8 245.5" stroke-width="4.4"/><path d="M418.8 227.9L418.9 227.9M418.9 227.9L419.0 227.9M419.0 227.9L419.1 227.9M432.6 244.3L433.0 244.7" stroke-width="4.6"/><path d="M419.1 227.9L419.3 227.9M419.3 227.9L419.4 227.9M419.4 227.9L419.5 227.9M431.4 243.0L431.8 243.4M431.8 243.4L432.2 243.9M432.2 243.9L432.6 244.3" stroke-width="4.8"/><path d="M419.5 227.9L419.7 227.9M419.7 227.9L419.8 227.9M419.8 227.9L419.9 227.9M430.6 242.2L431.0 242.6M431.0 242.6L431.4 243.0" stroke-width="5.0"/><path d="M419.9 227.9L420.0 227.9M420.0 227.9L420.2 227.9M420.2 227.9L420.3 227.9M429.4 241.1L429.8 241.5M429.8 241.5L430.2 241.8M430.2 241.8L430.6 242.2" stroke-width="5.2"/><path d="M420.3 227.9L420.4 227.9M420.4 227.9L420.5 227.9M420.5 227.9L420.7 228.0M420.7 228.0L420.8 228.0M420.8 228.0L420.9 228.1M420.9 228.1L421.0 228.3M421.0 228.3L421.2 228.4M421.2 228.4L421.3 228.6M421.3 228.6L421.4 228.8M428.3 239.9L428.6 240.3M428.6 240.3L429.0 240.7M429.0 240.7L429.4 241.1" stroke-width="5.4"/><path d="M421.4 228.8L421.6 229.0M421.6 229.0L421.7 229.2M421.7 229.2L421.8 229.4M421.8 229.4L421.9 229.6M421.9 229.6L422.1 229.8M422.1 229.8L422.2 230.0M422.2 230.0L422.3 230.2M422.3 230.2L422.7 230.9M422.7 230.9L423.1 231.7M427.1 238.6L427.5 239.1M427.5 239.1L427.9 239.5M427.9 239.5L428.3 239.9" stroke-width="5.6"/><path d="M423.1 231.7L423.5 232.6M423.5 232.6L423.9 233.5M423.9 233.5L424.3 234.4M424.3 234.4L424.7 235.2M426.3 237.7L426.7 238.2M426.7 238.2L427.1 238.6" stroke-width="5.8"/><path d="M424.7 235.2L425.1 236.0M425.1 236.0L425.5 236.6M425.5 236.6L425.9 237.1M425.9 237.1L426.3 237.7" stroke-width="6.0"/><path d="M433.8 245.5L434.2 246.0M434.2 246.0L434.6 246.4" stroke-width="4.2"/><path d="M434.6 246.4L435.0 246.8M435.0 246.8L435.4 247.2" stroke-width="4.0"/><path d="M435.4 247.2L435.8 247.6M435.8 247.6L436.2 248.1" stroke-width="3.8"/><path d="M436.2 248.1L436.6 248.5" stroke-width="3.6"/><path d="M436.6 248.5L437.0 248.9M437.0 248.9L437.4 249.3" stroke-width="3.4"/><path d="M437.4 249.3L437.7 249.7M437.7 249.7L438.1 250.1" stroke-width="3.2"/><path d="M438.1 250.1L438.5 250.5M438.5 250.5L438.9 250.9M438.9 250.9L439.3 251.3" stroke-width="3.0"/><path d="M439.3 251.3L439.7 251.7M439.7 251.7L440.1 252.1M440.1 252.1L440.5 252.5M440.5 252.5L440.9 252.9" stroke-width="2.8"/><path d="M440.9 252.9L441.3 253.2M441.3 253.2L441.7 253.6M441.7 253.6L442.1 254.0M442.1 254.0L442.5 254.4" stroke-width="2.6"/><path d="M442.5 254.4L442.9 254.8M442.9 254.8L443.3 255.2M443.3 255.2L443.7 255.6" stroke-width="2.4"/><path d="M443.7 255.6L444.1 256.1M444.1 256.1L444.5 256.5M444.5 256.5L444.9 256.9M444.9 256.9L445.3 257.4M445.3 257.4L445.7 257.9M445.7 257.9L446.1 258.4M446.1 258.4L446.4 258.9M446.4 258.9L446.8 259.4M446.8 259.4L447.2 259.9M447.2 259.9L447.6 260.4M447.6 260.4L448.0 260.9M448.0 260.9L448.4 261.4M448.4 261.4L448.8 262.0M448.8 262.0L449.2 262.5M449.2 262.5L449.6 263.1M449.6 263.1L450.0 263.6M450.0 263.6L450.4 264.2M450.4 264.2L450.8 264.7M450.8 264.7L451.2 265.3M451.2 265.3L451.6 265.8M451.6 265.8L452.0 266.4M452.0 266.4L452.4 266.9M452.4 266.9L452.8 267.5M452.8 267.5L453.2 268.1M453.2 268.1L453.6 268.6" stroke-width="2.2"/></g>
<path d="M416.8 348.1 L416.9 319.8 L417.1 295.5 L417.2 277.0 L417.4 260.1 L417.5 245.7 L417.6 236.4 L417.8 233.4 L417.9 231.7 L418.1 230.3 L418.2 229.3 L418.4 228.5 L418.5 228.1 L418.6 227.9 L418.8 227.9 L418.9 227.9 L419.1 227.9 L419.2 227.9 L419.3 227.9 L419.5 227.9 L419.6 227.9 L419.8 227.9 L419.9 227.9 L420.1 227.9 L420.2 227.9 L420.3 227.9 L420.5 227.9 L420.6 227.9 L420.8 228.0 L420.9 228.1 L421.0 228.3 L421.2 228.4 L421.3 228.6 L421.5 228.9 L421.6 229.1 L421.8 229.3 L421.9 229.6 L422.0 229.8 L422.2 230.0 L422.3 230.2 L422.7 231.0 L423.2 231.8 L423.6 232.7 L424.0 233.7 L424.4 234.6 L424.8 235.5 L425.2 236.2 L425.7 236.8 L426.1 237.4 L426.5 237.9 L426.9 238.4 L427.3 238.9 L427.7 239.4 L428.2 239.8 L428.6 240.2 L429.0 240.7 L429.4 241.1 L429.8 241.5 L430.2 241.9 L430.7 242.3 L431.1 242.7 L431.5 243.1 L431.9 243.5 L432.3 244.0 L432.7 244.4 L433.2 244.9 L433.6 245.3 L434.0 245.8 L434.4 246.2 L434.8 246.6 L435.2 247.1 L435.7 247.5 L436.1 248.0 L436.5 248.4 L436.9 248.8 L437.3 249.3 L437.8 249.7 L438.2 250.1 L438.6 250.6 L439.0 251.0 L439.4 251.4 L439.8 251.8 L440.3 252.2 L440.7 252.6 L441.1 253.0 L441.5 253.4 L441.9 253.8 L442.3 254.3 L442.8 254.7 L443.2 255.1 L443.6 255.5 L444.0 256.0 L444.4 256.4 L444.8 256.9 L445.3 257.4 L445.7 257.9 L446.1 258.4 L446.5 258.9 L446.9 259.5 L447.3 260.0 L447.8 260.6 L448.2 261.1 L448.6 261.7 L449.0 262.2 L449.4 262.8 L449.8 263.4 L450.3 264.0 L450.7 264.5 L451.1 265.1 L451.5 265.7 L451.9 266.3 L452.4 266.9 L452.8 267.5 L453.2 268.1 L453.6 268.7 L454.0 269.3 L454.4 270.0 L454.9 270.7 L455.3 271.4 L455.7 272.1 L456.1 272.9 L456.5 273.5 L456.9 274.2 L457.4 274.9 L457.8 275.5 L458.2 276.1 L458.6 276.7 L459.0 277.2 L459.4 277.8 L459.9 278.4 L460.3 278.9 L460.7 279.5 L461.1 280.1 L461.5 280.6 L461.9 281.2 L462.4 281.8 L462.8 282.4 L463.2 283.1 L463.6 283.8 L464.0 284.5 L464.4 285.2 L464.9 286.0 L465.3 286.6 L465.7 287.3 L466.1 287.9 L466.5 288.4 L467.0 288.9 L467.4 289.3 L467.8 289.8 L468.2 290.2 L468.6 290.6 L469.0 291.0 L469.5 291.4 L469.9 291.7 L470.3 292.0 L470.7 292.3 L471.1 292.6 L471.5 292.8 L472.0 293.1 L475.2 294.2 L478.5 295.0 L481.8 295.8 L485.0 296.4 L488.3 297.1 L491.6 297.7 L494.9 298.4 L498.1 299.2 L501.4 299.9 L504.7 300.6 L507.9 301.3 L511.2 301.8 L514.5 302.3 L517.8 302.8 L521.0 303.2 L524.3 303.7 L527.6 304.1 L530.9 304.6 L534.1 305.0 L537.4 305.4 L540.7 305.9 L543.9 306.3 L547.2 306.7 L550.5 307.2 L553.8 307.6 L557.0 308.0 L560.3 308.4 L563.6 308.8 L566.8 309.2 L570.1 309.5 L573.4 309.8 L576.7 310.2 L579.9 310.5 L583.2 310.7 L586.5 311.0 L589.8 311.2 L593.0 311.5 L596.3 311.7 L599.6 311.9 L602.8 312.2 L606.1 312.4 L609.4 312.6 L612.7 312.8 L615.9 313.0 L619.2 313.2 L622.5 313.4 L625.7 313.6 L629.0 313.7 L632.3 313.9 L635.6 314.1 L638.8 314.2 L642.1 314.4 L645.4 314.6 L648.6 314.8 L651.9 315.0 L655.2 315.2 L658.5 315.4 L661.7 315.6 L665.0 315.8" fill="none" stroke="#A5A5A5" stroke-width="2.4" stroke-linejoin="round" stroke-linecap="round"/>
<rect x="416.4" y="225.7" width="4.4" height="4.4" class="fg"/>
<rect x="418.3" y="225.7" width="4.4" height="4.4" class="fg"/>
<rect x="420.1" y="228.0" width="4.4" height="4.4" class="fg"/>
<rect x="421.9" y="231.9" width="4.4" height="4.4" class="fg"/>
<rect x="423.8" y="235.1" width="4.4" height="4.4" class="fg"/>
<rect x="425.6" y="237.3" width="4.4" height="4.4" class="fg"/>
<rect x="427.5" y="239.1" width="4.4" height="4.4" class="fg"/>
<rect x="429.3" y="240.9" width="4.4" height="4.4" class="fg"/>
<rect x="431.1" y="242.9" width="4.4" height="4.4" class="fg"/>
<rect x="433.0" y="244.8" width="4.4" height="4.4" class="fg"/>
<rect x="434.8" y="246.7" width="4.4" height="4.4" class="fg"/>
<rect x="436.6" y="248.6" width="4.4" height="4.4" class="fg"/>
<rect x="438.5" y="250.4" width="4.4" height="4.4" class="fg"/>
<rect x="440.3" y="252.2" width="4.4" height="4.4" class="fg"/>
<rect x="442.2" y="254.2" width="4.4" height="4.4" class="fg"/>
<rect x="444.0" y="256.4" width="4.4" height="4.4" class="fg"/>
<rect x="445.8" y="258.7" width="4.4" height="4.4" class="fg"/>
<rect x="447.7" y="261.2" width="4.4" height="4.4" class="fg"/>
<rect x="449.5" y="263.8" width="4.4" height="4.4" class="fg"/>
<rect x="451.4" y="267.0" width="4.4" height="4.4" class="fg"/>
<rect x="469.7" y="289.6" width="4.4" height="4.4" class="fg"/>
<rect x="543.3" y="304.2" width="4.4" height="4.4" class="fg"/>
<rect x="598.4" y="309.9" width="4.4" height="4.4" class="fg"/>
<rect x="662.8" y="313.6" width="4.4" height="4.4" class="fg"/>
<circle cx="419.3" cy="271.4" r="1.7" class="hb"/>
<circle cx="420.0" cy="270.8" r="1.7" class="hb"/>
<circle cx="419.8" cy="269.3" r="1.7" class="hb"/>
<circle cx="420.2" cy="271.3" r="1.7" class="hb"/>
<circle cx="420.4" cy="269.1" r="1.7" class="hb"/>
<circle cx="420.4" cy="271.2" r="1.7" class="hb"/>
<circle cx="421.2" cy="268.9" r="1.7" class="hb"/>
<circle cx="421.4" cy="270.6" r="1.7" class="hb"/>
<circle cx="421.6" cy="270.1" r="1.7" class="hb"/>
<circle cx="421.6" cy="269.9" r="1.7" class="hb"/>
<circle cx="422.4" cy="271.2" r="1.7" class="hb"/>
<circle cx="422.2" cy="271.4" r="1.7" class="hb"/>
<circle cx="422.9" cy="270.5" r="1.7" class="hb"/>
<circle cx="422.9" cy="271.7" r="1.7" class="hb"/>
<circle cx="423.6" cy="271.9" r="1.7" class="hb"/>
<circle cx="423.4" cy="272.7" r="1.7" class="hb"/>
<circle cx="423.7" cy="272.5" r="1.7" class="hb"/>
<circle cx="424.1" cy="274.4" r="1.7" class="hb"/>
<circle cx="424.4" cy="274.1" r="1.7" class="hb"/>
<circle cx="425.4" cy="274.4" r="1.7" class="hb"/>
<circle cx="425.8" cy="276.1" r="1.7" class="hb"/>
<circle cx="426.6" cy="275.6" r="1.7" class="hb"/>
<circle cx="426.8" cy="276.1" r="1.7" class="hb"/>
<circle cx="427.5" cy="276.4" r="1.7" class="hb"/>
<circle cx="428.0" cy="278.0" r="1.7" class="hb"/>
<circle cx="428.5" cy="278.4" r="1.7" class="hb"/>
<circle cx="428.9" cy="278.7" r="1.7" class="hb"/>
<circle cx="429.6" cy="278.9" r="1.7" class="hb"/>
<circle cx="430.4" cy="279.1" r="1.7" class="hb"/>
<circle cx="430.8" cy="279.5" r="1.7" class="hb"/>
<circle cx="431.6" cy="280.2" r="1.7" class="hb"/>
<circle cx="431.8" cy="280.5" r="1.7" class="hb"/>
<circle cx="432.3" cy="281.4" r="1.7" class="hb"/>
<circle cx="433.3" cy="281.8" r="1.7" class="hb"/>
<circle cx="433.6" cy="281.8" r="1.7" class="hb"/>
<circle cx="434.3" cy="282.0" r="1.7" class="hb"/>
<circle cx="434.7" cy="282.6" r="1.7" class="hb"/>
<circle cx="435.3" cy="282.8" r="1.7" class="hb"/>
<circle cx="436.0" cy="283.2" r="1.7" class="hb"/>
<circle cx="436.3" cy="283.8" r="1.7" class="hb"/>
<circle cx="436.7" cy="283.6" r="1.7" class="hb"/>
<circle cx="437.6" cy="284.1" r="1.7" class="hb"/>
<circle cx="438.2" cy="284.5" r="1.7" class="hb"/>
<circle cx="438.5" cy="284.7" r="1.7" class="hb"/>
<circle cx="438.9" cy="284.8" r="1.7" class="hb"/>
<circle cx="439.5" cy="285.0" r="1.7" class="hb"/>
<circle cx="439.9" cy="285.2" r="1.7" class="hb"/>
<circle cx="440.8" cy="285.1" r="1.7" class="hb"/>
<circle cx="441.1" cy="285.5" r="1.7" class="hb"/>
<circle cx="441.5" cy="286.1" r="1.7" class="hb"/>
<circle cx="442.6" cy="286.2" r="1.7" class="hb"/>
<circle cx="443.1" cy="285.9" r="1.7" class="hb"/>
<circle cx="443.3" cy="286.5" r="1.7" class="hb"/>
<circle cx="444.3" cy="286.6" r="1.7" class="hb"/>
<circle cx="444.4" cy="286.4" r="1.7" class="hb"/>
<circle cx="445.3" cy="286.6" r="1.7" class="hb"/>
<circle cx="445.4" cy="286.8" r="1.7" class="hb"/>
<circle cx="446.4" cy="286.9" r="1.7" class="hb"/>
<circle cx="447.0" cy="287.0" r="1.7" class="hb"/>
<circle cx="447.3" cy="287.1" r="1.7" class="hb"/>
<circle cx="447.7" cy="287.2" r="1.7" class="hb"/>
<circle cx="448.5" cy="287.4" r="1.7" class="hb"/>
<circle cx="448.9" cy="287.5" r="1.7" class="hb"/>
<circle cx="449.6" cy="288.0" r="1.7" class="hb"/>
<circle cx="449.9" cy="287.6" r="1.7" class="hb"/>
<circle cx="450.5" cy="288.1" r="1.7" class="hb"/>
<circle cx="450.9" cy="287.9" r="1.7" class="hb"/>
<circle cx="451.8" cy="288.2" r="1.7" class="hb"/>
<circle cx="452.1" cy="288.5" r="1.7" class="hb"/>
<circle cx="418.6" cy="300.9" r="1.7" class="hb"/>
<circle cx="419.0" cy="317.6" r="1.7" class="hb"/>
<circle cx="419.4" cy="330.5" r="1.7" class="hb"/>
<circle cx="420.5" cy="279.3" r="1.7" class="hb"/>
<circle cx="444.4" cy="291.2" r="1.7" class="hb"/>
<circle cx="462.8" cy="293.1" r="1.7" class="hb"/>
<circle cx="472.0" cy="298.6" r="1.7" class="hb"/>
<circle cx="490.3" cy="310.7" r="1.7" class="hb"/>
<circle cx="508.7" cy="312.3" r="1.7" class="hb"/>
<circle cx="527.1" cy="314.0" r="1.7" class="hb"/>
<circle cx="563.9" cy="318.7" r="1.7" class="hb"/>
<circle cx="582.3" cy="320.0" r="1.7" class="hb"/>
<circle cx="619.0" cy="322.4" r="1.7" class="hb"/>
<circle cx="637.4" cy="324.2" r="1.7" class="hb"/>
<circle cx="655.8" cy="327.5" r="1.7" class="hb"/>
<path d="M418.5 259.9l2.1 3.6h-4.2z" class="ho"/>
<path d="M419.7 259.1l2.1 3.6h-4.2z" class="ho"/>
<path d="M419.8 254.0l2.1 3.6h-4.2z" class="ho"/>
<path d="M420.2 252.7l2.1 3.6h-4.2z" class="ho"/>
<path d="M420.3 258.7l2.1 3.6h-4.2z" class="ho"/>
<path d="M420.8 253.5l2.1 3.6h-4.2z" class="ho"/>
<path d="M420.8 262.2l2.1 3.6h-4.2z" class="ho"/>
<path d="M421.3 262.7l2.1 3.6h-4.2z" class="ho"/>
<path d="M421.7 256.8l2.1 3.6h-4.2z" class="ho"/>
<path d="M421.8 261.7l2.1 3.6h-4.2z" class="ho"/>
<path d="M422.0 260.5l2.1 3.6h-4.2z" class="ho"/>
<path d="M422.3 261.1l2.1 3.6h-4.2z" class="ho"/>
<path d="M422.9 259.6l2.1 3.6h-4.2z" class="ho"/>
<path d="M423.2 263.6l2.1 3.6h-4.2z" class="ho"/>
<path d="M423.5 264.9l2.1 3.6h-4.2z" class="ho"/>
<path d="M423.7 262.8l2.1 3.6h-4.2z" class="ho"/>
<path d="M423.7 259.3l2.1 3.6h-4.2z" class="ho"/>
<path d="M424.3 260.5l2.1 3.6h-4.2z" class="ho"/>
<path d="M424.5 267.2l2.1 3.6h-4.2z" class="ho"/>
<path d="M425.5 267.7l2.1 3.6h-4.2z" class="ho"/>
<path d="M425.8 261.9l2.1 3.6h-4.2z" class="ho"/>
<path d="M426.5 263.4l2.1 3.6h-4.2z" class="ho"/>
<path d="M426.8 264.7l2.1 3.6h-4.2z" class="ho"/>
<path d="M427.3 266.9l2.1 3.6h-4.2z" class="ho"/>
<path d="M428.1 269.1l2.1 3.6h-4.2z" class="ho"/>
<path d="M428.6 264.4l2.1 3.6h-4.2z" class="ho"/>
<path d="M429.4 267.7l2.1 3.6h-4.2z" class="ho"/>
<path d="M429.4 271.8l2.1 3.6h-4.2z" class="ho"/>
<path d="M430.3 271.0l2.1 3.6h-4.2z" class="ho"/>
<path d="M430.5 269.9l2.1 3.6h-4.2z" class="ho"/>
<path d="M431.4 272.8l2.1 3.6h-4.2z" class="ho"/>
<path d="M432.2 271.8l2.1 3.6h-4.2z" class="ho"/>
<path d="M432.4 269.5l2.1 3.6h-4.2z" class="ho"/>
<path d="M432.8 269.7l2.1 3.6h-4.2z" class="ho"/>
<path d="M433.5 275.1l2.1 3.6h-4.2z" class="ho"/>
<path d="M434.3 274.7l2.1 3.6h-4.2z" class="ho"/>
<path d="M434.8 273.8l2.1 3.6h-4.2z" class="ho"/>
<path d="M434.9 273.0l2.1 3.6h-4.2z" class="ho"/>
<path d="M435.5 273.5l2.1 3.6h-4.2z" class="ho"/>
<path d="M436.0 273.6l2.1 3.6h-4.2z" class="ho"/>
<path d="M436.6 274.1l2.1 3.6h-4.2z" class="ho"/>
<path d="M437.3 276.0l2.1 3.6h-4.2z" class="ho"/>
<path d="M438.0 277.6l2.1 3.6h-4.2z" class="ho"/>
<path d="M438.6 277.7l2.1 3.6h-4.2z" class="ho"/>
<path d="M439.3 277.9l2.1 3.6h-4.2z" class="ho"/>
<path d="M439.4 277.3l2.1 3.6h-4.2z" class="ho"/>
<path d="M440.4 277.2l2.1 3.6h-4.2z" class="ho"/>
<path d="M441.0 277.9l2.1 3.6h-4.2z" class="ho"/>
<path d="M441.4 279.0l2.1 3.6h-4.2z" class="ho"/>
<path d="M442.1 278.4l2.1 3.6h-4.2z" class="ho"/>
<path d="M442.5 278.9l2.1 3.6h-4.2z" class="ho"/>
<path d="M443.2 279.3l2.1 3.6h-4.2z" class="ho"/>
<path d="M443.3 279.7l2.1 3.6h-4.2z" class="ho"/>
<path d="M443.8 280.5l2.1 3.6h-4.2z" class="ho"/>
<path d="M444.5 280.6l2.1 3.6h-4.2z" class="ho"/>
<path d="M445.2 281.0l2.1 3.6h-4.2z" class="ho"/>
<path d="M445.7 281.8l2.1 3.6h-4.2z" class="ho"/>
<path d="M446.1 282.1l2.1 3.6h-4.2z" class="ho"/>
<path d="M446.8 282.4l2.1 3.6h-4.2z" class="ho"/>
<path d="M447.3 283.1l2.1 3.6h-4.2z" class="ho"/>
<path d="M447.8 283.5l2.1 3.6h-4.2z" class="ho"/>
<path d="M448.6 283.7l2.1 3.6h-4.2z" class="ho"/>
<path d="M449.2 283.8l2.1 3.6h-4.2z" class="ho"/>
<path d="M449.3 284.6l2.1 3.6h-4.2z" class="ho"/>
<path d="M450.0 284.9l2.1 3.6h-4.2z" class="ho"/>
<path d="M450.5 285.0l2.1 3.6h-4.2z" class="ho"/>
<path d="M451.4 285.4l2.1 3.6h-4.2z" class="ho"/>
<path d="M451.9 286.2l2.1 3.6h-4.2z" class="ho"/>
<path d="M452.4 286.2l2.1 3.6h-4.2z" class="ho"/>
<path d="M462.8 295.5l2.1 3.6h-4.2z" class="ho"/>
<path d="M490.3 307.1l2.1 3.6h-4.2z" class="ho"/>
<path d="M508.7 309.8l2.1 3.6h-4.2z" class="ho"/>
<path d="M527.1 312.0l2.1 3.6h-4.2z" class="ho"/>
<path d="M563.9 315.7l2.1 3.6h-4.2z" class="ho"/>
<path d="M582.3 317.0l2.1 3.6h-4.2z" class="ho"/>
<path d="M619.0 319.4l2.1 3.6h-4.2z" class="ho"/>
<path d="M637.4 320.1l2.1 3.6h-4.2z" class="ho"/>
<path d="M655.8 320.6l2.1 3.6h-4.2z" class="ho"/>
<rect x="419.2" y="226.8" width="3.2" height="3.2" class="hg"/>
<rect x="417.0" y="224.5" width="3.2" height="3.2" class="hg"/>
<rect x="418.5" y="225.5" width="3.2" height="3.2" class="hg"/>
<rect x="418.5" y="226.1" width="3.2" height="3.2" class="hg"/>
<rect x="418.8" y="225.0" width="3.2" height="3.2" class="hg"/>
<rect x="419.1" y="227.8" width="3.2" height="3.2" class="hg"/>
<rect x="419.3" y="224.0" width="3.2" height="3.2" class="hg"/>
<rect x="419.4" y="226.4" width="3.2" height="3.2" class="hg"/>
<rect x="420.1" y="224.7" width="3.2" height="3.2" class="hg"/>
<rect x="420.1" y="225.0" width="3.2" height="3.2" class="hg"/>
<rect x="420.7" y="229.0" width="3.2" height="3.2" class="hg"/>
<rect x="420.6" y="227.5" width="3.2" height="3.2" class="hg"/>
<rect x="421.2" y="231.9" width="3.2" height="3.2" class="hg"/>
<rect x="421.5" y="231.6" width="3.2" height="3.2" class="hg"/>
<rect x="421.5" y="231.9" width="3.2" height="3.2" class="hg"/>
<rect x="422.3" y="229.0" width="3.2" height="3.2" class="hg"/>
<rect x="422.4" y="230.7" width="3.2" height="3.2" class="hg"/>
<rect x="422.6" y="233.8" width="3.2" height="3.2" class="hg"/>
<rect x="423.1" y="230.8" width="3.2" height="3.2" class="hg"/>
<rect x="423.5" y="234.4" width="3.2" height="3.2" class="hg"/>
<rect x="424.2" y="235.1" width="3.2" height="3.2" class="hg"/>
<rect x="424.7" y="233.2" width="3.2" height="3.2" class="hg"/>
<rect x="425.3" y="235.0" width="3.2" height="3.2" class="hg"/>
<rect x="425.8" y="235.5" width="3.2" height="3.2" class="hg"/>
<rect x="426.2" y="237.8" width="3.2" height="3.2" class="hg"/>
<rect x="427.0" y="237.2" width="3.2" height="3.2" class="hg"/>
<rect x="427.8" y="239.8" width="3.2" height="3.2" class="hg"/>
<rect x="428.1" y="240.4" width="3.2" height="3.2" class="hg"/>
<rect x="428.9" y="242.7" width="3.2" height="3.2" class="hg"/>
<rect x="429.1" y="240.9" width="3.2" height="3.2" class="hg"/>
<rect x="429.6" y="243.4" width="3.2" height="3.2" class="hg"/>
<rect x="430.1" y="243.4" width="3.2" height="3.2" class="hg"/>
<rect x="430.7" y="241.1" width="3.2" height="3.2" class="hg"/>
<rect x="431.3" y="243.1" width="3.2" height="3.2" class="hg"/>
<rect x="431.7" y="242.5" width="3.2" height="3.2" class="hg"/>
<rect x="432.7" y="242.7" width="3.2" height="3.2" class="hg"/>
<rect x="433.2" y="245.8" width="3.2" height="3.2" class="hg"/>
<rect x="433.6" y="245.8" width="3.2" height="3.2" class="hg"/>
<rect x="434.2" y="245.9" width="3.2" height="3.2" class="hg"/>
<rect x="434.9" y="246.4" width="3.2" height="3.2" class="hg"/>
<rect x="435.2" y="246.6" width="3.2" height="3.2" class="hg"/>
<rect x="435.8" y="248.3" width="3.2" height="3.2" class="hg"/>
<rect x="436.5" y="248.7" width="3.2" height="3.2" class="hg"/>
<rect x="436.8" y="248.7" width="3.2" height="3.2" class="hg"/>
<rect x="437.4" y="248.8" width="3.2" height="3.2" class="hg"/>
<rect x="437.7" y="250.6" width="3.2" height="3.2" class="hg"/>
<rect x="438.8" y="251.0" width="3.2" height="3.2" class="hg"/>
<rect x="438.9" y="251.3" width="3.2" height="3.2" class="hg"/>
<rect x="439.9" y="251.9" width="3.2" height="3.2" class="hg"/>
<rect x="440.0" y="252.0" width="3.2" height="3.2" class="hg"/>
<rect x="440.6" y="252.4" width="3.2" height="3.2" class="hg"/>
<rect x="441.0" y="253.1" width="3.2" height="3.2" class="hg"/>
<rect x="441.8" y="253.6" width="3.2" height="3.2" class="hg"/>
<rect x="442.7" y="254.5" width="3.2" height="3.2" class="hg"/>
<rect x="443.2" y="254.7" width="3.2" height="3.2" class="hg"/>
<rect x="443.8" y="255.9" width="3.2" height="3.2" class="hg"/>
<rect x="444.0" y="256.3" width="3.2" height="3.2" class="hg"/>
<rect x="444.5" y="256.8" width="3.2" height="3.2" class="hg"/>
<rect x="445.0" y="257.5" width="3.2" height="3.2" class="hg"/>
<rect x="445.4" y="258.3" width="3.2" height="3.2" class="hg"/>
<rect x="446.2" y="258.9" width="3.2" height="3.2" class="hg"/>
<rect x="447.0" y="259.5" width="3.2" height="3.2" class="hg"/>
<rect x="447.2" y="260.7" width="3.2" height="3.2" class="hg"/>
<rect x="448.2" y="261.5" width="3.2" height="3.2" class="hg"/>
<rect x="448.3" y="262.3" width="3.2" height="3.2" class="hg"/>
<rect x="449.1" y="262.9" width="3.2" height="3.2" class="hg"/>
<rect x="449.5" y="263.8" width="3.2" height="3.2" class="hg"/>
<rect x="450.1" y="264.2" width="3.2" height="3.2" class="hg"/>
<rect x="450.9" y="264.9" width="3.2" height="3.2" class="hg"/>
<rect x="461.1" y="277.1" width="3.2" height="3.2" class="hg"/>
<rect x="470.3" y="286.8" width="3.2" height="3.2" class="hg"/>
<rect x="488.7" y="293.5" width="3.2" height="3.2" class="hg"/>
<rect x="507.1" y="299.9" width="3.2" height="3.2" class="hg"/>
<rect x="525.5" y="303.2" width="3.2" height="3.2" class="hg"/>
<rect x="562.3" y="307.8" width="3.2" height="3.2" class="hg"/>
<rect x="580.7" y="309.4" width="3.2" height="3.2" class="hg"/>
<rect x="617.4" y="310.9" width="3.2" height="3.2" class="hg"/>
<rect x="635.8" y="312.4" width="3.2" height="3.2" class="hg"/>
<rect x="654.2" y="314.2" width="3.2" height="3.2" class="hg"/>
<rect x="416.4" y="226.5" width="3.2" height="3.2" class="hg"/>
<path d="M420.9 255.3l2.1 3.6h-4.2z" class="ho"/>
<circle cx="417.3" cy="305.6" r="1.7" class="hb"/>
<rect x="417.0" y="337.6" width="3.2" height="3.2" class="hg"/>
<rect x="417.1" y="225.9" width="3.2" height="3.2" class="hg"/>
<path d="M417.3 293.7l2.1 3.6h-4.2z" class="ho"/>
<rect x="416.4" y="244.7" width="3.2" height="3.2" class="hg"/>
<rect x="415.7" y="242.2" width="3.2" height="3.2" class="hg"/>
<circle cx="419.8" cy="281.3" r="1.7" class="hb"/>
<rect x="417.2" y="227.2" width="3.2" height="3.2" class="hg"/>
<rect x="415.7" y="310.7" width="3.2" height="3.2" class="hg"/>
<rect x="415.8" y="230.9" width="3.2" height="3.2" class="hg"/>
<rect x="415.7" y="323.1" width="3.2" height="3.2" class="hg"/>
<rect x="417.1" y="239.5" width="3.2" height="3.2" class="hg"/>
<rect x="416.8" y="298.8" width="3.2" height="3.2" class="hg"/>
<path d="M418.4 254.0l2.1 3.6h-4.2z" class="ho"/>
<circle cx="417.4" cy="275.8" r="1.7" class="hb"/>
<path d="M419.2 258.2l2.1 3.6h-4.2z" class="ho"/>
<rect x="418.3" y="230.4" width="3.2" height="3.2" class="hg"/>
<rect x="417.4" y="235.3" width="3.2" height="3.2" class="hg"/>
<rect x="417.5" y="229.3" width="3.2" height="3.2" class="hg"/>
<circle cx="418.0" cy="271.0" r="1.7" class="hb"/>
<rect x="417.1" y="225.0" width="3.2" height="3.2" class="hg"/>
<path d="M419.5 260.4l2.1 3.6h-4.2z" class="ho"/>
<rect x="415.9" y="226.4" width="3.2" height="3.2" class="hg"/>
<path d="M417.3 303.4l2.1 3.6h-4.2z" class="ho"/>
<rect x="418.5" y="227.4" width="3.2" height="3.2" class="hg"/>
<rect x="415.7" y="233.2" width="3.2" height="3.2" class="hg"/>
<rect x="416.0" y="230.2" width="3.2" height="3.2" class="hg"/>
<rect x="417.6" y="246.8" width="3.2" height="3.2" class="hg"/>
<path d="M418.9 272.5l2.1 3.6h-4.2z" class="ho"/>
<rect x="417.3" y="265.3" width="3.2" height="3.2" class="hg"/>
<rect x="416.9" y="226.1" width="3.2" height="3.2" class="hg"/>
<path d="M417.3 268.6l2.1 3.6h-4.2z" class="ho"/>
<circle cx="417.6" cy="287.5" r="1.7" class="hb"/>
<path d="M418.6 260.9l2.1 3.6h-4.2z" class="ho"/>
<path d="M420.3 255.8l2.1 3.6h-4.2z" class="ho"/>
<circle cx="417.8" cy="290.9" r="1.7" class="hb"/>
<circle cx="418.5" cy="324.7" r="1.7" class="hb"/>
<rect x="417.4" y="230.7" width="3.2" height="3.2" class="hg"/>
<circle cx="419.4" cy="272.3" r="1.7" class="hb"/>
<rect x="416.4" y="226.0" width="3.2" height="3.2" class="hg"/>
<circle cx="417.3" cy="298.0" r="1.7" class="hb"/>
<circle cx="417.3" cy="275.6" r="1.7" class="hb"/>
<rect x="417.3" y="274.4" width="3.2" height="3.2" class="hg"/>
<circle cx="418.4" cy="283.8" r="1.7" class="hb"/>
<rect x="417.6" y="229.8" width="3.2" height="3.2" class="hg"/>
<rect x="416.9" y="229.2" width="3.2" height="3.2" class="hg"/>
<path d="M417.3 313.8l2.1 3.6h-4.2z" class="ho"/>
<path d="M419.7 264.9l2.1 3.6h-4.2z" class="ho"/>
<circle cx="419.3" cy="271.9" r="1.7" class="hb"/>
<rect x="415.7" y="345.9" width="3.2" height="3.2" class="hg"/>
<rect x="415.7" y="260.8" width="3.2" height="3.2" class="hg"/>
<path d="M417.6 286.1l2.1 3.6h-4.2z" class="ho"/>
<rect x="417.0" y="233.2" width="3.2" height="3.2" class="hg"/>
<rect x="415.7" y="256.4" width="3.2" height="3.2" class="hg"/>
<rect x="418.6" y="227.7" width="3.2" height="3.2" class="hg"/>
<path d="M418.8 265.6l2.1 3.6h-4.2z" class="ho"/>
<rect x="415.7" y="277.6" width="3.2" height="3.2" class="hg"/>
<circle cx="420.0" cy="273.9" r="1.7" class="hb"/>
<rect x="417.2" y="225.9" width="3.2" height="3.2" class="hg"/>
<rect x="415.7" y="232.9" width="3.2" height="3.2" class="hg"/>
<rect x="415.8" y="292.0" width="3.2" height="3.2" class="hg"/>
<rect x="415.7" y="251.9" width="3.2" height="3.2" class="hg"/>
<rect x="415.8" y="228.3" width="3.2" height="3.2" class="hg"/>
<rect x="415.7" y="288.1" width="3.2" height="3.2" class="hg"/>
<rect x="417.1" y="304.3" width="3.2" height="3.2" class="hg"/>
<rect x="415.7" y="231.7" width="3.2" height="3.2" class="hg"/>
<rect x="417.0" y="268.4" width="3.2" height="3.2" class="hg"/>
<rect x="416.3" y="224.5" width="3.2" height="3.2" class="hg"/>
<rect x="416.3" y="331.0" width="3.2" height="3.2" class="hg"/>
<circle cx="419.3" cy="272.1" r="1.7" class="hb"/>
<circle cx="417.6" cy="314.7" r="1.7" class="hb"/>
<circle cx="419.7" cy="270.7" r="1.7" class="hb"/>
<circle cx="417.3" cy="347.8" r="1.7" class="hb"/>
<rect x="415.7" y="282.4" width="3.2" height="3.2" class="hg"/>
<path d="M417.3 330.8l2.1 3.6h-4.2z" class="ho"/>
<path d="M419.5 256.9l2.1 3.6h-4.2z" class="ho"/>
<rect x="416.4" y="317.8" width="3.2" height="3.2" class="hg"/>
<circle cx="418.1" cy="277.5" r="1.7" class="hb"/>
<path d="M418.3 253.9l2.1 3.6h-4.2z" class="ho"/>
<circle cx="417.4" cy="334.2" r="1.7" class="hb"/>
<rect x="416.6" y="234.9" width="3.2" height="3.2" class="hg"/>
<rect x="417.2" y="226.4" width="3.2" height="3.2" class="hg"/>
<path d="M417.4 280.9l2.1 3.6h-4.2z" class="ho"/>
<rect x="416.8" y="224.8" width="3.2" height="3.2" class="hg"/>
<rect x="416.8" y="229.7" width="3.2" height="3.2" class="hg"/>
<path d="M417.3 345.1l2.1 3.6h-4.2z" class="ho"/>
<rect x="417.4" y="229.4" width="3.2" height="3.2" class="hg"/>
<rect x="417.2" y="232.3" width="3.2" height="3.2" class="hg"/>
<path d="M416.8 348.1 L416.8 342.2 L416.9 336.5 L416.9 330.8 L416.9 325.2 L416.9 319.8 L417.0 314.5 L417.0 309.5 L417.0 304.6 L417.1 299.9 L417.1 295.5 L417.1 291.3 L417.1 287.5 L417.2 283.9 L417.2 280.4 L417.2 277.0 L417.3 273.5 L417.3 270.1 L417.3 266.7 L417.3 263.3 L417.4 260.1 L417.4 256.9 L417.4 253.9 L417.5 251.0 L417.5 248.3 L417.5 245.7 L417.5 243.4 L417.6 241.2 L417.6 239.3 L417.6 237.7 L417.6 236.4 L417.7 235.3 L417.7 234.6 L417.7 234.1 L417.8 233.8 L417.8 233.4 L417.8 233.0 L417.8 232.7 L417.9 232.3 L417.9 232.0" fill="none" stroke="#A5A5A5" stroke-width="2.4" stroke-linejoin="round" stroke-linecap="round"/>
</g>
<rect x="416.80" y="201.30" width="257.40" height="146.80" fill="none" stroke="#595959" stroke-width="1.1"/>
<path d="M412.80 348.10H416.80" stroke="#595959" stroke-width="1.1"/>
<path d="M412.80 329.75H416.80" stroke="#595959" stroke-width="1.1"/>
<path d="M412.80 311.40H416.80" stroke="#595959" stroke-width="1.1"/>
<path d="M412.80 293.05H416.80" stroke="#595959" stroke-width="1.1"/>
<path d="M412.80 274.70H416.80" stroke="#595959" stroke-width="1.1"/>
<path d="M412.80 256.35H416.80" stroke="#595959" stroke-width="1.1"/>
<path d="M412.80 238.00H416.80" stroke="#595959" stroke-width="1.1"/>
<path d="M412.80 219.65H416.80" stroke="#595959" stroke-width="1.1"/>
<path d="M412.80 201.30H416.80" stroke="#595959" stroke-width="1.1"/>
<path d="M416.80 348.10V352.10" stroke="#595959" stroke-width="1.1"/>
<path d="M453.57 348.10V352.10" stroke="#595959" stroke-width="1.1"/>
<path d="M490.34 348.10V352.10" stroke="#595959" stroke-width="1.1"/>
<path d="M527.11 348.10V352.10" stroke="#595959" stroke-width="1.1"/>
<path d="M563.89 348.10V352.10" stroke="#595959" stroke-width="1.1"/>
<path d="M600.66 348.10V352.10" stroke="#595959" stroke-width="1.1"/>
<path d="M637.43 348.10V352.10" stroke="#595959" stroke-width="1.1"/>
<path d="M674.20 348.10V352.10" stroke="#595959" stroke-width="1.1"/>
<text x="405.20" y="352.50" text-anchor="end" class="t">0.0</text>
<text x="405.20" y="334.15" text-anchor="end" class="t">0.1</text>
<text x="405.20" y="315.80" text-anchor="end" class="t">0.2</text>
<text x="405.20" y="297.45" text-anchor="end" class="t">0.3</text>
<text x="405.20" y="279.10" text-anchor="end" class="t">0.4</text>
<text x="405.20" y="260.75" text-anchor="end" class="t">0.5</text>
<text x="405.20" y="242.40" text-anchor="end" class="t">0.6</text>
<text x="405.20" y="224.05" text-anchor="end" class="t">0.7</text>
<text x="405.20" y="205.70" text-anchor="end" class="t">0.8</text>
<text x="416.80" y="368.30" text-anchor="middle" class="t">0</text>
<text x="453.57" y="368.30" text-anchor="middle" class="t">20</text>
<text x="490.34" y="368.30" text-anchor="middle" class="t">40</text>
<text x="527.11" y="368.30" text-anchor="middle" class="t">60</text>
<text x="563.89" y="368.30" text-anchor="middle" class="t">80</text>
<text x="600.66" y="368.30" text-anchor="middle" class="t">100</text>
<text x="637.43" y="368.30" text-anchor="middle" class="t">120</text>
<text x="674.20" y="368.30" text-anchor="middle" class="t">140</text>
<text x="455.10" y="383.80" class="b">anaerobic storage period [d]</text>
<text transform="translate(359.00 353.00) rotate(-90)" x="0" y="0" class="b">N<tspan dy="2.6" class="s">2</tspan><tspan dy="-2.6">O quantity [mg kg</tspan><tspan dy="2.6" class="s">DM</tspan><tspan dy="-8" class="s">-1</tspan><tspan dy="5.4">]</tspan></text>
<text x="84.6" y="409.6" class="t l">analysis interval:</text>
<text x="364.4" y="409.6" class="t l">measurement time points:</text>
<path d="M84.6 421.7H114.5" stroke="#4472C4" stroke-width="2.4"/>
<circle cx="99.9" cy="421.7" r="4.1" fill="#4472C4"/>
<text x="117.4" y="426.4" class="t l">CON</text>
<path d="M180.7 421.7H211.3" stroke="#ED7D31" stroke-width="2.4"/>
<path d="M196 417.4L200.4 426L191.6 426Z" fill="#ED7D31"/>
<text x="214.2" y="426.4" class="t l">BIO</text>
<path d="M272 421.7H302.3" stroke="#A5A5A5" stroke-width="2.4"/>
<rect x="283" y="417.2" width="8.8" height="8.8" fill="#A5A5A5"/>
<text x="304.5" y="426.4" class="t l">CHE</text>
<circle cx="381.9" cy="422" r="3.4" fill="none" stroke="#4472C4" stroke-width="1.3"/>
<text x="400.1" y="426.4" class="t l">CON</text>
<path d="M478.3 418.3L482.2 425.5L474.4 425.5Z" fill="none" stroke="#ED7D31" stroke-width="1.3"/>
<text x="496.2" y="426.4" class="t l">BIO</text>
<rect x="565.7" y="418.2" width="7.2" height="7.2" fill="none" stroke="#A5A5A5" stroke-width="1.3"/>
<text x="587" y="426.4" class="t l">CHE</text>
</svg>
</body></html>
